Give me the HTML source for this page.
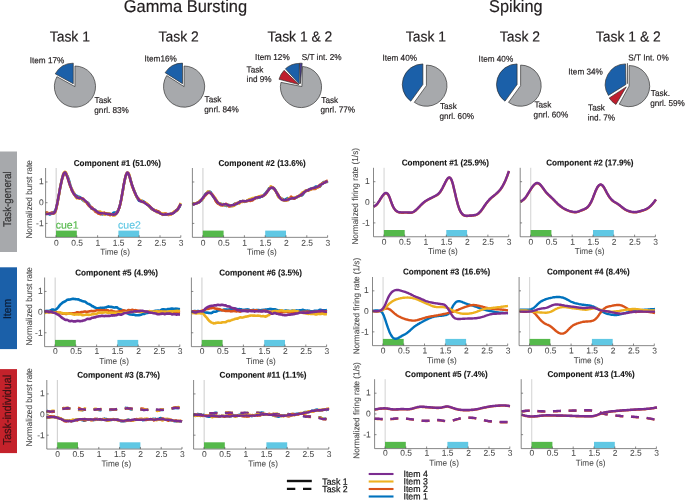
<!DOCTYPE html>
<html lang="en"><head><meta charset="utf-8"><title>Figure</title>
<style>
html,body{margin:0;padding:0;background:#fff;}
body{width:685px;height:500px;overflow:hidden;}
svg{display:block;font-family:"Liberation Sans",Arial,Helvetica,sans-serif;text-rendering:geometricPrecision;}
</style></head><body>
<svg width="685" height="500" viewBox="0 0 685 500">
<rect width="685" height="500" fill="#fff"/>
<text transform="translate(185.40 12.10) rotate(0.03) scale(0.955 1)" font-size="17.23" text-anchor="middle" font-weight="normal" fill="#231F20" stroke="#231F20" stroke-width="0.18">Gamma Bursting</text>
<text transform="translate(515.80 12.10) rotate(0.03) scale(0.955 1)" font-size="17.07" text-anchor="middle" font-weight="normal" fill="#231F20" stroke="#231F20" stroke-width="0.18">Spiking</text>
<text transform="translate(69.80 41.60) rotate(0.03) scale(0.955 1)" font-size="14.55" text-anchor="middle" font-weight="normal" fill="#231F20" stroke="#231F20" stroke-width="0.18">Task 1</text>
<text transform="translate(178.60 41.60) rotate(0.03) scale(0.955 1)" font-size="14.55" text-anchor="middle" font-weight="normal" fill="#231F20" stroke="#231F20" stroke-width="0.18">Task 2</text>
<text transform="translate(299.90 41.60) rotate(0.03) scale(0.955 1)" font-size="14.55" text-anchor="middle" font-weight="normal" fill="#231F20" stroke="#231F20" stroke-width="0.18">Task 1 &amp; 2</text>
<text transform="translate(425.90 41.60) rotate(0.03) scale(0.955 1)" font-size="14.55" text-anchor="middle" font-weight="normal" fill="#231F20" stroke="#231F20" stroke-width="0.18">Task 1</text>
<text transform="translate(519.90 41.60) rotate(0.03) scale(0.955 1)" font-size="14.55" text-anchor="middle" font-weight="normal" fill="#231F20" stroke="#231F20" stroke-width="0.18">Task 2</text>
<text transform="translate(628.30 41.60) rotate(0.03) scale(0.955 1)" font-size="14.55" text-anchor="middle" font-weight="normal" fill="#231F20" stroke="#231F20" stroke-width="0.18">Task 1 &amp; 2</text>
<path d="M74.95 86.60 L56.90 76.68 A20.60 20.60 0 1 0 74.95 66.00 Z" fill="#A7A9AC" stroke="#2a2a2a" stroke-width="0.65" stroke-linejoin="miter"/>
<path d="M73.27 83.76 L73.27 63.16 A20.60 20.60 0 0 0 55.22 73.84 Z" fill="#1B60A9" stroke="#2a2a2a" stroke-width="0.65" stroke-linejoin="miter"/>
<text transform="translate(29.70 63.20) rotate(0.03) scale(0.955 1)" font-size="8.59" text-anchor="start" font-weight="normal" fill="#231F20" stroke="#231F20" stroke-width="0.18">Item 17%</text>
<text transform="translate(94.60 103.00) rotate(0.03) scale(0.955 1)" font-size="8.59" text-anchor="start" font-weight="normal" fill="#231F20" stroke="#231F20" stroke-width="0.18">Task</text>
<text transform="translate(94.30 113.00) rotate(0.03) scale(0.955 1)" font-size="8.59" text-anchor="start" font-weight="normal" fill="#231F20" stroke="#231F20" stroke-width="0.18">gnrl. 83%</text>
<path d="M184.10 86.60 L166.71 75.56 A20.60 20.60 0 1 0 184.10 66.00 Z" fill="#A7A9AC" stroke="#2a2a2a" stroke-width="0.65" stroke-linejoin="miter"/>
<path d="M182.51 83.71 L182.51 63.11 A20.60 20.60 0 0 0 165.12 72.67 Z" fill="#1B60A9" stroke="#2a2a2a" stroke-width="0.65" stroke-linejoin="miter"/>
<text transform="translate(144.50 61.60) rotate(0.03) scale(0.955 1)" font-size="8.59" text-anchor="start" font-weight="normal" fill="#231F20" stroke="#231F20" stroke-width="0.18">Item16%</text>
<text transform="translate(204.60 102.20) rotate(0.03) scale(0.955 1)" font-size="8.59" text-anchor="start" font-weight="normal" fill="#231F20" stroke="#231F20" stroke-width="0.18">Task</text>
<text transform="translate(204.30 112.30) rotate(0.03) scale(0.955 1)" font-size="8.59" text-anchor="start" font-weight="normal" fill="#231F20" stroke="#231F20" stroke-width="0.18">gnrl. 84%</text>
<path d="M301.90 86.50 L280.93 82.37 A20.60 20.60 0 1 0 302.50 66.45 Z" fill="#A7A9AC" stroke="#2a2a2a" stroke-width="0.65"/>
<path d="M298.90 84.60 L284.08 70.29 A20.60 20.60 0 0 0 279.00 79.27 Z" fill="#BE1E2D" stroke="#2b2b2b" stroke-width="0.65" stroke-linejoin="miter"/>
<path d="M299.30 84.00 L299.30 63.40 A20.60 20.60 0 0 0 285.38 68.81 Z" fill="#1B60A9" stroke="#2b2b2b" stroke-width="0.65" stroke-linejoin="miter"/>
<path d="M300.40 83.60 L302.18 63.28 A20.40 20.40 0 0 0 299.51 63.22 Z" fill="#4B3F99" stroke="#2b2b2b" stroke-width="0.65" stroke-linejoin="miter"/>
<text transform="translate(255.10 60.10) rotate(0.03) scale(0.955 1)" font-size="8.59" text-anchor="start" font-weight="normal" fill="#231F20" stroke="#231F20" stroke-width="0.18">Item 12%</text>
<text transform="translate(301.70 60.10) rotate(0.03) scale(0.955 1)" font-size="8.59" text-anchor="start" font-weight="normal" fill="#231F20" stroke="#231F20" stroke-width="0.18">S/T int. 2%</text>
<text transform="translate(246.60 72.50) rotate(0.03) scale(0.955 1)" font-size="8.59" text-anchor="start" font-weight="normal" fill="#231F20" stroke="#231F20" stroke-width="0.18">Task</text>
<text transform="translate(246.60 82.10) rotate(0.03) scale(0.955 1)" font-size="8.59" text-anchor="start" font-weight="normal" fill="#231F20" stroke="#231F20" stroke-width="0.18">ind 9%</text>
<text transform="translate(321.30 103.00) rotate(0.03) scale(0.955 1)" font-size="8.59" text-anchor="start" font-weight="normal" fill="#231F20" stroke="#231F20" stroke-width="0.18">Task</text>
<text transform="translate(320.50 112.60) rotate(0.03) scale(0.955 1)" font-size="8.59" text-anchor="start" font-weight="normal" fill="#231F20" stroke="#231F20" stroke-width="0.18">gnrl. 77%</text>
<path d="M426.41 85.67 L414.30 102.34 A20.60 20.60 0 1 0 426.41 65.07 Z" fill="#A7A9AC" stroke="#2a2a2a" stroke-width="0.65" stroke-linejoin="miter"/>
<path d="M422.89 84.53 L422.89 63.93 A20.60 20.60 0 0 0 410.78 101.19 Z" fill="#1B60A9" stroke="#2a2a2a" stroke-width="0.65" stroke-linejoin="miter"/>
<text transform="translate(382.40 60.80) rotate(0.03) scale(0.955 1)" font-size="8.59" text-anchor="start" font-weight="normal" fill="#231F20" stroke="#231F20" stroke-width="0.18">Item 40%</text>
<text transform="translate(439.90 109.10) rotate(0.03) scale(0.955 1)" font-size="8.59" text-anchor="start" font-weight="normal" fill="#231F20" stroke="#231F20" stroke-width="0.18">Task</text>
<text transform="translate(439.40 119.00) rotate(0.03) scale(0.955 1)" font-size="8.59" text-anchor="start" font-weight="normal" fill="#231F20" stroke="#231F20" stroke-width="0.18">gnrl. 60%</text>
<path d="M520.61 85.67 L508.50 102.34 A20.60 20.60 0 1 0 520.61 65.07 Z" fill="#A7A9AC" stroke="#2a2a2a" stroke-width="0.65" stroke-linejoin="miter"/>
<path d="M517.09 84.53 L517.09 63.93 A20.60 20.60 0 0 0 504.98 101.19 Z" fill="#1B60A9" stroke="#2a2a2a" stroke-width="0.65" stroke-linejoin="miter"/>
<text transform="translate(478.60 61.70) rotate(0.03) scale(0.955 1)" font-size="8.59" text-anchor="start" font-weight="normal" fill="#231F20" stroke="#231F20" stroke-width="0.18">Item 40%</text>
<text transform="translate(534.40 107.50) rotate(0.03) scale(0.955 1)" font-size="8.59" text-anchor="start" font-weight="normal" fill="#231F20" stroke="#231F20" stroke-width="0.18">Task</text>
<text transform="translate(533.60 117.40) rotate(0.03) scale(0.955 1)" font-size="8.59" text-anchor="start" font-weight="normal" fill="#231F20" stroke="#231F20" stroke-width="0.18">gnrl. 60%</text>
<path d="M629.10 86.10 L619.27 104.20 A20.60 20.60 0 1 0 629.10 65.50 Z" fill="#A7A9AC" stroke="#2b2b2b" stroke-width="0.65" stroke-linejoin="miter"/>
<path d="M626.30 86.90 L609.19 98.01 A20.40 20.40 0 0 0 615.95 104.48 Z" fill="#BE1E2D" stroke="#2b2b2b" stroke-width="0.65" stroke-linejoin="miter"/>
<path d="M625.90 84.50 L625.54 63.90 A20.60 20.60 0 0 0 608.43 95.42 Z" fill="#1B60A9" stroke="#2b2b2b" stroke-width="0.65" stroke-linejoin="miter"/>
<path d="M627.4 63.2 L627.4 83.8" stroke="#2a2a2a" stroke-width="0.8"/>
<text transform="translate(628.30 60.50) rotate(0.03) scale(0.955 1)" font-size="8.59" text-anchor="start" font-weight="normal" fill="#231F20" stroke="#231F20" stroke-width="0.18">S/T Int. 0%</text>
<text transform="translate(568.30 74.50) rotate(0.03) scale(0.955 1)" font-size="8.59" text-anchor="start" font-weight="normal" fill="#231F20" stroke="#231F20" stroke-width="0.18">Item 34%</text>
<text transform="translate(588.10 110.40) rotate(0.03) scale(0.955 1)" font-size="8.59" text-anchor="start" font-weight="normal" fill="#231F20" stroke="#231F20" stroke-width="0.18">Task</text>
<text transform="translate(587.70 120.40) rotate(0.03) scale(0.955 1)" font-size="8.59" text-anchor="start" font-weight="normal" fill="#231F20" stroke="#231F20" stroke-width="0.18">ind. 7%</text>
<text transform="translate(650.80 95.90) rotate(0.03) scale(0.955 1)" font-size="8.59" text-anchor="start" font-weight="normal" fill="#231F20" stroke="#231F20" stroke-width="0.18">Task.</text>
<text transform="translate(650.20 106.10) rotate(0.03) scale(0.955 1)" font-size="8.59" text-anchor="start" font-weight="normal" fill="#231F20" stroke="#231F20" stroke-width="0.18">gnrl. 59%</text>
<rect x="0" y="151.50" width="17" height="100.50" fill="#A7A9AC"/>
<text transform="translate(10.90 199.20) rotate(-89.97) scale(0.870 1)" font-size="11.15" text-anchor="middle" font-weight="normal" fill="#333334" stroke="#333334" stroke-width="0.22">Task-general</text>
<rect x="0" y="267.30" width="17" height="81.80" fill="#1B60A9"/>
<text transform="translate(10.60 309.00) rotate(-89.97) scale(0.930 1)" font-size="11.18" text-anchor="middle" font-weight="normal" fill="#0d1f3a" stroke="#0d1f3a" stroke-width="0.22">Item</text>
<rect x="0" y="369.10" width="17" height="84.00" fill="#C4222B"/>
<text transform="translate(10.80 410.00) rotate(-89.97) scale(0.930 1)" font-size="11.51" text-anchor="middle" font-weight="normal" fill="#3f1215" stroke="#3f1215" stroke-width="0.22">Task-individual</text>
<path d="M56.15 168.00 V237.00" stroke="#cccccc" stroke-width="1"/>
<rect x="56.00" y="230.60" width="20.80" height="6.40" fill="#55B94B"/>
<rect x="118.40" y="230.60" width="20.80" height="6.40" fill="#60C8E4"/>
<text transform="translate(55.70 228.50) rotate(0.03)" font-size="10.50" text-anchor="start" font-weight="normal" fill="#55B94B" stroke="#55B94B" stroke-width="0.15">cue1</text>
<text transform="translate(118.10 228.50) rotate(0.03)" font-size="10.50" text-anchor="start" font-weight="normal" fill="#60C8E4" stroke="#60C8E4" stroke-width="0.15">cue2</text>
<path d="M45.6 213.2 L46.4 212.8 L47.3 213.3 L48.1 213.5 L49.0 214.2 L49.8 214.5 L50.7 214.1 L51.5 213.6 L52.4 212.5 L53.2 212.7 L54.1 212.2 L54.9 211.1 L55.8 209.4 L56.6 206.3 L57.5 202.7 L58.3 198.2 L59.2 193.4 L60.0 188.5 L60.9 184.0 L61.7 180.1 L62.6 176.9 L63.4 174.4 L64.3 173.5 L65.1 173.0 L66.0 173.9 L66.8 175.3 L67.7 176.3 L68.5 179.0 L69.4 181.5 L70.2 184.6 L71.1 187.7 L71.9 189.5 L72.8 191.8 L73.6 192.9 L74.5 193.7 L75.3 195.1 L76.2 195.5 L77.0 195.9 L77.9 196.9 L78.7 196.7 L79.6 197.0 L80.4 197.7 L81.3 198.2 L82.1 199.5 L83.0 200.3 L83.8 201.0 L84.7 201.1 L85.5 201.8 L86.4 201.8 L87.2 202.1 L88.1 202.9 L88.9 203.9 L89.8 205.7 L90.6 206.7 L91.4 208.6 L92.3 208.8 L93.1 209.1 L94.0 209.8 L94.8 209.6 L95.7 210.5 L96.5 211.6 L97.4 211.7 L98.2 212.8 L99.1 212.9 L99.9 213.2 L100.8 213.9 L101.6 214.0 L102.5 214.4 L103.3 214.1 L104.2 213.6 L105.0 213.9 L105.9 213.3 L106.7 213.4 L107.6 214.1 L108.4 213.5 L109.3 214.1 L110.1 214.4 L111.0 214.3 L111.8 214.4 L112.7 213.5 L113.5 212.8 L114.4 212.5 L115.2 212.4 L116.1 212.5 L116.9 212.1 L117.8 210.9 L118.6 209.2 L119.5 207.1 L120.3 203.4 L121.2 199.2 L122.0 195.2 L122.9 190.4 L123.7 185.5 L124.6 181.2 L125.4 177.0 L126.3 174.3 L127.1 173.3 L128.0 173.3 L128.8 174.4 L129.7 176.7 L130.5 179.6 L131.4 182.7 L132.2 185.7 L133.1 187.9 L133.9 190.2 L134.8 192.1 L135.6 194.2 L136.4 196.4 L137.3 198.0 L138.1 199.5 L139.0 200.8 L139.8 201.0 L140.7 201.4 L141.5 201.6 L142.4 200.8 L143.2 201.3 L144.1 201.6 L144.9 202.3 L145.8 203.5 L146.6 203.9 L147.5 204.3 L148.3 205.0 L149.2 206.3 L150.0 207.4 L150.9 208.2 L151.7 209.2 L152.6 209.1 L153.4 209.3 L154.3 210.3 L155.1 210.5 L156.0 210.6 L156.8 210.9 L157.7 211.1 L158.5 211.7 L159.4 212.9 L160.2 213.3 L161.1 213.7 L161.9 214.1 L162.8 213.9 L163.6 214.5 L164.5 214.6 L165.3 214.3 L166.2 214.8 L167.0 214.3 L167.9 214.2 L168.7 214.4 L169.6 214.1 L170.4 214.1 L171.3 213.8 L172.1 213.4 L173.0 213.2 L173.8 212.6 L174.7 212.1 L175.5 211.4 L176.4 210.0 L177.2 210.3 L178.1 209.2 L178.9 207.5 L179.8 206.7 L180.6 203.6" fill="none" stroke="#0072BD" stroke-width="2.50" stroke-linejoin="round" stroke-linecap="butt"/>
<path d="M45.6 212.6 L46.4 212.5 L47.3 212.6 L48.1 213.2 L49.0 213.3 L49.8 213.4 L50.7 212.9 L51.5 212.6 L52.4 212.7 L53.2 212.9 L54.1 212.8 L54.9 212.5 L55.8 210.6 L56.6 207.2 L57.5 203.2 L58.3 198.2 L59.2 193.2 L60.0 188.6 L60.9 184.5 L61.7 180.8 L62.6 177.7 L63.4 175.5 L64.3 173.8 L65.1 173.4 L66.0 173.9 L66.8 175.4 L67.7 178.3 L68.5 180.6 L69.4 183.9 L70.2 186.5 L71.1 188.3 L71.9 190.8 L72.8 192.1 L73.6 193.8 L74.5 195.0 L75.3 195.6 L76.2 196.4 L77.0 196.7 L77.9 197.6 L78.7 198.0 L79.6 198.7 L80.4 198.3 L81.3 198.1 L82.1 198.5 L83.0 198.4 L83.8 200.0 L84.7 200.8 L85.5 201.4 L86.4 202.5 L87.2 203.9 L88.1 204.8 L88.9 205.9 L89.8 206.6 L90.6 206.7 L91.4 207.0 L92.3 207.6 L93.1 209.0 L94.0 209.9 L94.8 211.1 L95.7 212.0 L96.5 212.4 L97.4 212.7 L98.2 213.6 L99.1 213.9 L99.9 213.8 L100.8 214.3 L101.6 213.3 L102.5 213.0 L103.3 213.2 L104.2 212.6 L105.0 213.2 L105.9 213.3 L106.7 213.2 L107.6 214.2 L108.4 214.5 L109.3 214.7 L110.1 215.3 L111.0 214.6 L111.8 214.8 L112.7 214.9 L113.5 215.0 L114.4 214.6 L115.2 214.3 L116.1 213.7 L116.9 212.2 L117.8 211.6 L118.6 209.3 L119.5 207.2 L120.3 204.2 L121.2 199.9 L122.0 195.5 L122.9 190.4 L123.7 185.0 L124.6 180.4 L125.4 176.6 L126.3 173.7 L127.1 172.7 L128.0 172.9 L128.8 174.4 L129.7 177.2 L130.5 180.8 L131.4 183.6 L132.2 186.7 L133.1 188.8 L133.9 190.7 L134.8 193.2 L135.6 194.7 L136.4 196.3 L137.3 197.4 L138.1 198.1 L139.0 199.1 L139.8 200.0 L140.7 200.4 L141.5 201.3 L142.4 202.1 L143.2 201.9 L144.1 202.3 L144.9 202.3 L145.8 203.0 L146.6 203.7 L147.5 204.3 L148.3 205.1 L149.2 205.6 L150.0 206.4 L150.9 208.0 L151.7 208.7 L152.6 209.4 L153.4 210.0 L154.3 210.1 L155.1 210.5 L156.0 210.3 L156.8 211.1 L157.7 211.0 L158.5 211.4 L159.4 212.0 L160.2 212.7 L161.1 213.5 L161.9 214.0 L162.8 214.9 L163.6 214.2 L164.5 213.6 L165.3 213.5 L166.2 213.6 L167.0 214.0 L167.9 214.8 L168.7 215.1 L169.6 214.4 L170.4 214.3 L171.3 214.4 L172.1 213.6 L173.0 213.0 L173.8 212.4 L174.7 211.2 L175.5 210.8 L176.4 210.4 L177.2 209.7 L178.1 208.2 L178.9 207.0 L179.8 206.0 L180.6 204.4" fill="none" stroke="#D95319" stroke-width="2.50" stroke-linejoin="round" stroke-linecap="butt"/>
<path d="M45.6 214.0 L46.4 213.9 L47.3 213.7 L48.1 213.7 L49.0 213.1 L49.8 213.5 L50.7 213.4 L51.5 213.7 L52.4 213.6 L53.2 213.7 L54.1 213.6 L54.9 212.7 L55.8 210.3 L56.6 206.8 L57.5 202.6 L58.3 197.7 L59.2 193.9 L60.0 188.8 L60.9 184.1 L61.7 179.7 L62.6 176.0 L63.4 173.2 L64.3 172.1 L65.1 171.7 L66.0 172.3 L66.8 174.7 L67.7 177.1 L68.5 179.9 L69.4 182.8 L70.2 185.4 L71.1 187.5 L71.9 188.9 L72.8 190.7 L73.6 192.3 L74.5 194.1 L75.3 196.6 L76.2 197.8 L77.0 198.4 L77.9 198.1 L78.7 197.8 L79.6 198.0 L80.4 198.5 L81.3 198.8 L82.1 199.1 L83.0 199.5 L83.8 200.3 L84.7 201.3 L85.5 201.9 L86.4 202.3 L87.2 202.5 L88.1 203.2 L88.9 204.6 L89.8 206.1 L90.6 207.2 L91.4 208.6 L92.3 208.9 L93.1 209.3 L94.0 209.6 L94.8 209.9 L95.7 211.0 L96.5 211.4 L97.4 211.4 L98.2 211.8 L99.1 211.5 L99.9 211.4 L100.8 211.9 L101.6 212.5 L102.5 213.4 L103.3 213.9 L104.2 214.5 L105.0 214.7 L105.9 213.9 L106.7 214.1 L107.6 213.8 L108.4 213.6 L109.3 213.5 L110.1 213.5 L111.0 214.0 L111.8 214.4 L112.7 215.5 L113.5 215.5 L114.4 215.6 L115.2 215.2 L116.1 213.7 L116.9 213.3 L117.8 211.3 L118.6 209.4 L119.5 207.3 L120.3 204.0 L121.2 200.0 L122.0 195.0 L122.9 190.5 L123.7 185.4 L124.6 180.8 L125.4 177.6 L126.3 174.4 L127.1 172.7 L128.0 172.8 L128.8 173.4 L129.7 175.8 L130.5 179.5 L131.4 182.4 L132.2 185.8 L133.1 188.1 L133.9 189.5 L134.8 192.3 L135.6 194.4 L136.4 196.3 L137.3 198.2 L138.1 199.0 L139.0 199.6 L139.8 200.1 L140.7 200.2 L141.5 200.8 L142.4 201.4 L143.2 202.0 L144.1 202.6 L144.9 202.6 L145.8 203.0 L146.6 203.2 L147.5 204.2 L148.3 205.5 L149.2 206.5 L150.0 207.5 L150.9 207.3 L151.7 208.2 L152.6 209.0 L153.4 209.3 L154.3 210.4 L155.1 211.0 L156.0 210.8 L156.8 212.3 L157.7 212.5 L158.5 212.2 L159.4 213.3 L160.2 213.1 L161.1 213.3 L161.9 214.2 L162.8 213.3 L163.6 214.0 L164.5 214.1 L165.3 214.0 L166.2 214.6 L167.0 214.3 L167.9 214.8 L168.7 214.5 L169.6 214.7 L170.4 214.3 L171.3 213.6 L172.1 213.4 L173.0 212.4 L173.8 211.8 L174.7 211.7 L175.5 211.1 L176.4 211.1 L177.2 210.6 L178.1 209.0 L178.9 207.1 L179.8 204.9 L180.6 202.9" fill="none" stroke="#EDB120" stroke-width="2.50" stroke-linejoin="round" stroke-linecap="butt"/>
<path d="M45.6 213.8 L46.4 214.1 L47.3 213.9 L48.1 213.8 L49.0 213.6 L49.8 213.3 L50.7 213.4 L51.5 213.4 L52.4 213.4 L53.2 213.5 L54.1 213.1 L54.9 212.0 L55.8 209.7 L56.6 206.2 L57.5 202.0 L58.3 197.5 L59.2 193.1 L60.0 188.6 L60.9 184.3 L61.7 180.4 L62.6 176.8 L63.4 174.1 L64.3 172.8 L65.1 172.3 L66.0 173.5 L66.8 175.6 L67.7 177.8 L68.5 180.6 L69.4 183.3 L70.2 185.6 L71.1 187.9 L71.9 190.2 L72.8 191.8 L73.6 193.4 L74.5 194.6 L75.3 195.6 L76.2 196.7 L77.0 197.5 L77.9 197.8 L78.7 197.9 L79.6 197.9 L80.4 198.0 L81.3 198.2 L82.1 198.6 L83.0 199.0 L83.8 199.6 L84.7 200.3 L85.5 201.2 L86.4 201.9 L87.2 202.7 L88.1 203.8 L88.9 204.9 L89.8 206.3 L90.6 207.2 L91.4 208.0 L92.3 208.7 L93.1 208.8 L94.0 209.5 L94.8 209.9 L95.7 210.6 L96.5 211.4 L97.4 211.9 L98.2 212.4 L99.1 212.8 L99.9 212.9 L100.8 213.1 L101.6 213.5 L102.5 213.2 L103.3 213.4 L104.2 213.6 L105.0 213.6 L105.9 213.9 L106.7 213.8 L107.6 213.9 L108.4 213.9 L109.3 214.0 L110.1 214.1 L111.0 214.3 L111.8 214.5 L112.7 214.5 L113.5 214.7 L114.4 214.6 L115.2 214.4 L116.1 213.9 L116.9 213.0 L117.8 211.5 L118.6 209.5 L119.5 207.0 L120.3 203.7 L121.2 199.5 L122.0 194.8 L122.9 189.7 L123.7 185.0 L124.6 180.6 L125.4 177.0 L126.3 174.3 L127.1 172.6 L128.0 172.7 L128.8 174.4 L129.7 176.9 L130.5 179.9 L131.4 182.9 L132.2 185.5 L133.1 188.0 L133.9 190.4 L134.8 192.3 L135.6 194.1 L136.4 195.9 L137.3 197.3 L138.1 198.8 L139.0 200.0 L139.8 200.8 L140.7 201.0 L141.5 201.4 L142.4 201.7 L143.2 201.9 L144.1 202.4 L144.9 203.2 L145.8 203.7 L146.6 204.2 L147.5 205.0 L148.3 205.4 L149.2 206.1 L150.0 206.8 L150.9 207.5 L151.7 208.3 L152.6 209.0 L153.4 209.8 L154.3 210.4 L155.1 211.0 L156.0 211.5 L156.8 211.6 L157.7 212.0 L158.5 212.4 L159.4 212.7 L160.2 213.3 L161.1 213.9 L161.9 214.1 L162.8 214.4 L163.6 214.5 L164.5 214.4 L165.3 214.3 L166.2 214.5 L167.0 214.5 L167.9 214.1 L168.7 214.2 L169.6 213.9 L170.4 213.8 L171.3 213.8 L172.1 213.7 L173.0 213.2 L173.8 212.7 L174.7 211.9 L175.5 211.2 L176.4 210.6 L177.2 209.8 L178.1 208.8 L178.9 207.3 L179.8 205.7 L180.6 203.8" fill="none" stroke="#7B2D90" stroke-width="2.50" stroke-linejoin="round" stroke-linecap="butt"/>
<path d="M45.60 168.00 V237.35 H180.80 M56.00 237.35 v-2.1 M76.80 237.35 v-2.1 M97.60 237.35 v-2.1 M118.40 237.35 v-2.1 M139.20 237.35 v-2.1 M160.00 237.35 v-2.1 M180.80 237.35 v-2.1 M45.60 223.42 h1.9 M45.60 202.70 h1.9 M45.60 181.98 h1.9" fill="none" stroke="#555" stroke-width="0.7"/>
<text transform="translate(56.30 245.80) rotate(0.03) scale(0.985 1)" font-size="8.58" text-anchor="middle" font-weight="normal" fill="#4a4a4a" stroke="#4a4a4a" stroke-width="0.05">0</text>
<text transform="translate(77.10 245.80) rotate(0.03) scale(0.985 1)" font-size="8.58" text-anchor="middle" font-weight="normal" fill="#4a4a4a" stroke="#4a4a4a" stroke-width="0.05">0.5</text>
<text transform="translate(97.90 245.80) rotate(0.03) scale(0.985 1)" font-size="8.58" text-anchor="middle" font-weight="normal" fill="#4a4a4a" stroke="#4a4a4a" stroke-width="0.05">1</text>
<text transform="translate(118.70 245.80) rotate(0.03) scale(0.985 1)" font-size="8.58" text-anchor="middle" font-weight="normal" fill="#4a4a4a" stroke="#4a4a4a" stroke-width="0.05">1.5</text>
<text transform="translate(139.50 245.80) rotate(0.03) scale(0.985 1)" font-size="8.58" text-anchor="middle" font-weight="normal" fill="#4a4a4a" stroke="#4a4a4a" stroke-width="0.05">2</text>
<text transform="translate(160.30 245.80) rotate(0.03) scale(0.985 1)" font-size="8.58" text-anchor="middle" font-weight="normal" fill="#4a4a4a" stroke="#4a4a4a" stroke-width="0.05">2.5</text>
<text transform="translate(181.10 245.80) rotate(0.03) scale(0.985 1)" font-size="8.58" text-anchor="middle" font-weight="normal" fill="#4a4a4a" stroke="#4a4a4a" stroke-width="0.05">3</text>
<text transform="translate(115.07 254.70) rotate(0.03) scale(0.955 1)" font-size="8.59" text-anchor="middle" font-weight="normal" fill="#4a4a4a" stroke="#4a4a4a" stroke-width="0.05">Time (s)</text>
<text transform="translate(43.60 226.37) rotate(0.03) scale(0.985 1)" font-size="8.58" text-anchor="end" font-weight="normal" fill="#4a4a4a" stroke="#4a4a4a" stroke-width="0.05">-1</text>
<text transform="translate(43.60 205.30) rotate(0.03) scale(0.985 1)" font-size="8.58" text-anchor="end" font-weight="normal" fill="#4a4a4a" stroke="#4a4a4a" stroke-width="0.05">0</text>
<text transform="translate(43.60 184.23) rotate(0.03) scale(0.985 1)" font-size="8.58" text-anchor="end" font-weight="normal" fill="#4a4a4a" stroke="#4a4a4a" stroke-width="0.05">1</text>
<text transform="translate(31.90 199.40) rotate(-89.97) scale(0.955 1)" font-size="8.59" text-anchor="middle" font-weight="normal" fill="#4a4a4a" stroke="#4a4a4a" stroke-width="0.10">Normalized burst rate</text>
<text transform="translate(117.30 166.00) rotate(0.03) scale(0.955 1)" font-size="8.53" text-anchor="middle" font-weight="bold" fill="#151515" stroke="#151515" stroke-width="0.12">Component #1 (51.0%)</text>
<path d="M202.95 168.00 V237.00" stroke="#cccccc" stroke-width="1"/>
<rect x="202.80" y="230.60" width="20.80" height="6.40" fill="#55B94B"/>
<rect x="265.20" y="230.60" width="20.80" height="6.40" fill="#60C8E4"/>
<path d="M192.6 204.7 L193.4 204.5 L194.3 203.9 L195.1 203.6 L196.0 203.6 L196.8 203.4 L197.7 202.6 L198.5 202.1 L199.4 202.0 L200.2 200.7 L201.1 201.0 L201.9 200.0 L202.8 198.3 L203.6 197.0 L204.5 195.6 L205.3 194.0 L206.2 193.0 L207.0 193.1 L207.9 191.8 L208.7 191.6 L209.6 191.5 L210.4 191.8 L211.3 193.1 L212.1 194.5 L213.0 196.3 L213.8 197.5 L214.7 198.7 L215.5 199.6 L216.4 201.3 L217.2 202.6 L218.1 202.7 L218.9 203.3 L219.8 203.7 L220.6 203.5 L221.5 204.3 L222.3 204.9 L223.2 204.0 L224.0 204.9 L224.9 205.6 L225.7 205.2 L226.6 206.0 L227.4 205.4 L228.3 204.7 L229.1 205.3 L230.0 205.2 L230.8 205.4 L231.7 206.1 L232.5 205.4 L233.4 204.7 L234.2 204.1 L235.1 203.6 L235.9 203.9 L236.8 203.9 L237.6 203.4 L238.4 202.8 L239.3 202.4 L240.1 201.3 L241.0 201.2 L241.8 201.2 L242.7 201.1 L243.5 201.6 L244.4 201.9 L245.2 201.6 L246.1 201.3 L246.9 201.0 L247.8 200.4 L248.6 200.0 L249.5 199.6 L250.3 200.2 L251.2 200.3 L252.0 200.1 L252.9 199.8 L253.7 198.7 L254.6 198.2 L255.4 198.1 L256.3 197.9 L257.1 198.0 L258.0 197.6 L258.8 197.4 L259.7 197.6 L260.5 196.7 L261.4 196.8 L262.2 196.5 L263.1 195.6 L263.9 195.2 L264.8 193.8 L265.6 193.2 L266.5 192.0 L267.3 190.6 L268.2 190.3 L269.0 188.1 L269.9 187.9 L270.7 187.8 L271.6 187.6 L272.4 188.3 L273.3 188.1 L274.1 188.2 L275.0 189.6 L275.8 190.8 L276.7 192.4 L277.5 194.9 L278.4 195.5 L279.2 196.8 L280.1 197.9 L280.9 198.1 L281.8 198.7 L282.6 199.0 L283.4 199.8 L284.3 200.3 L285.1 199.6 L286.0 199.0 L286.8 198.5 L287.7 198.0 L288.5 198.6 L289.4 199.3 L290.2 198.3 L291.1 198.5 L291.9 198.4 L292.8 198.1 L293.6 198.6 L294.5 198.3 L295.3 198.0 L296.2 197.4 L297.0 197.3 L297.9 196.7 L298.7 195.9 L299.6 196.0 L300.4 195.6 L301.3 195.5 L302.1 195.3 L303.0 194.4 L303.8 193.2 L304.7 191.8 L305.5 191.3 L306.4 190.7 L307.2 190.2 L308.1 190.7 L308.9 189.7 L309.8 189.0 L310.6 188.7 L311.5 188.3 L312.3 188.5 L313.2 188.4 L314.0 188.1 L314.9 187.1 L315.7 186.4 L316.6 186.5 L317.4 186.6 L318.3 186.8 L319.1 186.5 L320.0 186.5 L320.8 185.4 L321.7 183.8 L322.5 183.4 L323.4 182.1 L324.2 182.2 L325.1 182.1 L325.9 182.0 L326.8 182.1 L327.6 181.1" fill="none" stroke="#0072BD" stroke-width="2.50" stroke-linejoin="round" stroke-linecap="butt"/>
<path d="M192.6 204.9 L193.4 204.2 L194.3 204.0 L195.1 203.4 L196.0 203.3 L196.8 203.2 L197.7 202.4 L198.5 202.6 L199.4 201.9 L200.2 200.9 L201.1 200.5 L201.9 199.3 L202.8 198.5 L203.6 197.7 L204.5 196.3 L205.3 195.5 L206.2 194.7 L207.0 193.9 L207.9 193.1 L208.7 192.7 L209.6 192.4 L210.4 193.2 L211.3 193.8 L212.1 194.0 L213.0 195.2 L213.8 196.6 L214.7 198.3 L215.5 200.8 L216.4 202.1 L217.2 202.8 L218.1 203.8 L218.9 204.0 L219.8 204.6 L220.6 205.2 L221.5 205.3 L222.3 205.5 L223.2 205.2 L224.0 204.7 L224.9 204.6 L225.7 203.8 L226.6 204.0 L227.4 204.9 L228.3 205.6 L229.1 206.6 L230.0 206.5 L230.8 205.9 L231.7 205.8 L232.5 205.2 L233.4 205.4 L234.2 204.7 L235.1 203.7 L235.9 203.8 L236.8 203.1 L237.6 203.4 L238.4 202.8 L239.3 202.0 L240.1 201.9 L241.0 201.8 L241.8 201.8 L242.7 201.9 L243.5 201.2 L244.4 201.2 L245.2 201.5 L246.1 201.0 L246.9 201.2 L247.8 201.0 L248.6 200.3 L249.5 200.9 L250.3 201.1 L251.2 200.4 L252.0 200.6 L252.9 200.2 L253.7 199.0 L254.6 199.0 L255.4 198.4 L256.3 197.6 L257.1 197.9 L258.0 197.4 L258.8 196.8 L259.7 196.3 L260.5 196.0 L261.4 196.1 L262.2 196.2 L263.1 196.1 L263.9 195.5 L264.8 194.9 L265.6 194.2 L266.5 193.0 L267.3 191.8 L268.2 190.6 L269.0 189.2 L269.9 188.3 L270.7 187.8 L271.6 186.9 L272.4 187.5 L273.3 187.6 L274.1 188.9 L275.0 190.2 L275.8 190.8 L276.7 192.9 L277.5 193.3 L278.4 194.9 L279.2 196.7 L280.1 197.4 L280.9 198.7 L281.8 199.5 L282.6 199.5 L283.4 200.0 L284.3 200.3 L285.1 200.5 L286.0 200.5 L286.8 200.3 L287.7 200.3 L288.5 198.8 L289.4 198.5 L290.2 197.7 L291.1 196.5 L291.9 197.6 L292.8 197.5 L293.6 198.4 L294.5 198.7 L295.3 198.1 L296.2 197.7 L297.0 196.8 L297.9 196.5 L298.7 195.9 L299.6 196.0 L300.4 195.5 L301.3 195.1 L302.1 194.3 L303.0 193.3 L303.8 192.4 L304.7 192.1 L305.5 191.4 L306.4 190.9 L307.2 190.8 L308.1 190.3 L308.9 190.2 L309.8 189.9 L310.6 189.7 L311.5 189.2 L312.3 189.0 L313.2 188.9 L314.0 189.0 L314.9 189.1 L315.7 188.7 L316.6 187.9 L317.4 187.6 L318.3 187.3 L319.1 186.5 L320.0 186.2 L320.8 184.6 L321.7 183.6 L322.5 182.9 L323.4 183.1 L324.2 182.5 L325.1 181.8 L325.9 181.9 L326.8 180.8 L327.6 180.9" fill="none" stroke="#D95319" stroke-width="2.50" stroke-linejoin="round" stroke-linecap="butt"/>
<path d="M192.6 202.9 L193.4 203.8 L194.3 203.4 L195.1 203.5 L196.0 203.3 L196.8 202.9 L197.7 203.1 L198.5 202.4 L199.4 200.9 L200.2 200.5 L201.1 200.3 L201.9 199.6 L202.8 199.2 L203.6 197.4 L204.5 195.9 L205.3 194.8 L206.2 193.5 L207.0 192.5 L207.9 191.4 L208.7 191.4 L209.6 192.2 L210.4 192.9 L211.3 194.1 L212.1 194.9 L213.0 195.5 L213.8 196.9 L214.7 197.3 L215.5 198.3 L216.4 200.2 L217.2 201.1 L218.1 202.4 L218.9 203.9 L219.8 203.1 L220.6 204.1 L221.5 204.3 L222.3 204.1 L223.2 205.2 L224.0 205.0 L224.9 205.1 L225.7 205.2 L226.6 205.2 L227.4 205.1 L228.3 205.3 L229.1 204.9 L230.0 205.3 L230.8 205.3 L231.7 205.4 L232.5 206.3 L233.4 205.8 L234.2 205.7 L235.1 205.0 L235.9 203.7 L236.8 203.2 L237.6 203.0 L238.4 202.9 L239.3 203.6 L240.1 202.7 L241.0 202.2 L241.8 201.9 L242.7 200.9 L243.5 201.1 L244.4 201.1 L245.2 201.3 L246.1 201.2 L246.9 200.9 L247.8 200.0 L248.6 199.8 L249.5 199.1 L250.3 198.8 L251.2 199.3 L252.0 198.3 L252.9 198.0 L253.7 197.9 L254.6 197.6 L255.4 197.8 L256.3 197.5 L257.1 197.1 L258.0 196.7 L258.8 196.3 L259.7 196.6 L260.5 196.4 L261.4 196.0 L262.2 195.8 L263.1 195.3 L263.9 195.1 L264.8 194.8 L265.6 193.9 L266.5 192.4 L267.3 191.6 L268.2 190.1 L269.0 188.8 L269.9 188.2 L270.7 186.3 L271.6 186.7 L272.4 187.4 L273.3 188.1 L274.1 189.3 L275.0 189.9 L275.8 191.4 L276.7 192.9 L277.5 195.5 L278.4 197.3 L279.2 197.6 L280.1 198.3 L280.9 198.1 L281.8 198.8 L282.6 199.9 L283.4 200.3 L284.3 200.4 L285.1 200.3 L286.0 200.7 L286.8 200.1 L287.7 199.3 L288.5 198.5 L289.4 198.2 L290.2 198.2 L291.1 198.5 L291.9 198.3 L292.8 197.9 L293.6 197.8 L294.5 197.7 L295.3 197.7 L296.2 197.0 L297.0 196.5 L297.9 196.4 L298.7 196.5 L299.6 195.4 L300.4 194.5 L301.3 193.7 L302.1 192.7 L303.0 192.2 L303.8 191.9 L304.7 191.3 L305.5 190.5 L306.4 190.4 L307.2 190.1 L308.1 190.1 L308.9 190.1 L309.8 190.1 L310.6 189.9 L311.5 189.1 L312.3 188.5 L313.2 188.2 L314.0 187.9 L314.9 188.2 L315.7 188.1 L316.6 187.5 L317.4 187.2 L318.3 186.0 L319.1 185.4 L320.0 184.6 L320.8 184.2 L321.7 184.0 L322.5 183.6 L323.4 183.1 L324.2 182.5 L325.1 182.5 L325.9 181.9 L326.8 181.7 L327.6 181.2" fill="none" stroke="#EDB120" stroke-width="2.50" stroke-linejoin="round" stroke-linecap="butt"/>
<path d="M192.6 204.3 L193.4 204.2 L194.3 204.2 L195.1 203.8 L196.0 203.4 L196.8 203.1 L197.7 202.7 L198.5 202.6 L199.4 202.0 L200.2 201.2 L201.1 200.2 L201.9 199.0 L202.8 198.1 L203.6 196.8 L204.5 195.8 L205.3 194.8 L206.2 193.8 L207.0 193.2 L207.9 192.6 L208.7 192.6 L209.6 192.5 L210.4 193.0 L211.3 193.9 L212.1 194.8 L213.0 196.2 L213.8 197.1 L214.7 198.3 L215.5 199.5 L216.4 200.5 L217.2 201.8 L218.1 202.7 L218.9 203.4 L219.8 204.1 L220.6 204.3 L221.5 204.6 L222.3 204.8 L223.2 204.6 L224.0 204.6 L224.9 204.3 L225.7 204.2 L226.6 204.5 L227.4 204.9 L228.3 205.3 L229.1 205.5 L230.0 205.5 L230.8 205.5 L231.7 205.3 L232.5 205.2 L233.4 205.1 L234.2 205.0 L235.1 204.5 L235.9 204.0 L236.8 203.8 L237.6 203.0 L238.4 202.8 L239.3 202.6 L240.1 201.9 L241.0 201.5 L241.8 201.3 L242.7 201.0 L243.5 201.1 L244.4 201.1 L245.2 201.3 L246.1 201.1 L246.9 200.8 L247.8 200.6 L248.6 200.4 L249.5 200.2 L250.3 199.9 L251.2 199.8 L252.0 199.5 L252.9 199.3 L253.7 198.9 L254.6 198.4 L255.4 197.9 L256.3 197.5 L257.1 197.4 L258.0 197.3 L258.8 197.2 L259.7 197.0 L260.5 196.9 L261.4 196.6 L262.2 196.2 L263.1 195.8 L263.9 195.3 L264.8 194.6 L265.6 193.7 L266.5 192.7 L267.3 191.5 L268.2 190.4 L269.0 189.3 L269.9 188.5 L270.7 187.9 L271.6 187.5 L272.4 187.6 L273.3 187.9 L274.1 188.8 L275.0 189.9 L275.8 191.3 L276.7 192.8 L277.5 194.2 L278.4 195.8 L279.2 197.0 L280.1 198.2 L280.9 199.0 L281.8 199.6 L282.6 200.1 L283.4 200.0 L284.3 200.2 L285.1 200.2 L286.0 199.9 L286.8 199.9 L287.7 199.6 L288.5 199.2 L289.4 199.0 L290.2 198.7 L291.1 198.4 L291.9 198.3 L292.8 198.2 L293.6 198.2 L294.5 198.0 L295.3 197.7 L296.2 197.4 L297.0 197.0 L297.9 196.5 L298.7 196.1 L299.6 195.7 L300.4 195.2 L301.3 194.7 L302.1 194.0 L303.0 193.4 L303.8 192.5 L304.7 191.7 L305.5 191.2 L306.4 190.5 L307.2 190.4 L308.1 190.1 L308.9 189.6 L309.8 189.5 L310.6 189.0 L311.5 188.6 L312.3 188.4 L313.2 188.0 L314.0 187.9 L314.9 187.7 L315.7 187.5 L316.6 187.3 L317.4 186.8 L318.3 186.4 L319.1 185.7 L320.0 185.2 L320.8 184.6 L321.7 184.3 L322.5 183.8 L323.4 183.3 L324.2 182.8 L325.1 182.3 L325.9 181.9 L326.8 181.5 L327.6 181.0" fill="none" stroke="#7B2D90" stroke-width="2.50" stroke-linejoin="round" stroke-linecap="butt"/>
<path d="M192.40 168.00 V237.35 H327.60 M202.80 237.35 v-2.1 M223.60 237.35 v-2.1 M244.40 237.35 v-2.1 M265.20 237.35 v-2.1 M286.00 237.35 v-2.1 M306.80 237.35 v-2.1 M327.60 237.35 v-2.1 M192.40 223.42 h1.9 M192.40 202.70 h1.9 M192.40 181.98 h1.9" fill="none" stroke="#555" stroke-width="0.7"/>
<text transform="translate(203.10 245.80) rotate(0.03) scale(0.985 1)" font-size="8.58" text-anchor="middle" font-weight="normal" fill="#4a4a4a" stroke="#4a4a4a" stroke-width="0.05">0</text>
<text transform="translate(223.90 245.80) rotate(0.03) scale(0.985 1)" font-size="8.58" text-anchor="middle" font-weight="normal" fill="#4a4a4a" stroke="#4a4a4a" stroke-width="0.05">0.5</text>
<text transform="translate(244.70 245.80) rotate(0.03) scale(0.985 1)" font-size="8.58" text-anchor="middle" font-weight="normal" fill="#4a4a4a" stroke="#4a4a4a" stroke-width="0.05">1</text>
<text transform="translate(265.50 245.80) rotate(0.03) scale(0.985 1)" font-size="8.58" text-anchor="middle" font-weight="normal" fill="#4a4a4a" stroke="#4a4a4a" stroke-width="0.05">1.5</text>
<text transform="translate(286.30 245.80) rotate(0.03) scale(0.985 1)" font-size="8.58" text-anchor="middle" font-weight="normal" fill="#4a4a4a" stroke="#4a4a4a" stroke-width="0.05">2</text>
<text transform="translate(307.10 245.80) rotate(0.03) scale(0.985 1)" font-size="8.58" text-anchor="middle" font-weight="normal" fill="#4a4a4a" stroke="#4a4a4a" stroke-width="0.05">2.5</text>
<text transform="translate(327.90 245.80) rotate(0.03) scale(0.985 1)" font-size="8.58" text-anchor="middle" font-weight="normal" fill="#4a4a4a" stroke="#4a4a4a" stroke-width="0.05">3</text>
<text transform="translate(261.87 254.70) rotate(0.03) scale(0.955 1)" font-size="8.59" text-anchor="middle" font-weight="normal" fill="#4a4a4a" stroke="#4a4a4a" stroke-width="0.05">Time (s)</text>
<text transform="translate(262.00 166.00) rotate(0.03) scale(0.955 1)" font-size="8.53" text-anchor="middle" font-weight="bold" fill="#151515" stroke="#151515" stroke-width="0.12">Component #2 (13.6%)</text>
<path d="M384.05 167.80 V236.40" stroke="#b4b4b4" stroke-width="0.6"/>
<rect x="383.90" y="230.00" width="20.80" height="6.40" fill="#55B94B"/>
<rect x="446.30" y="230.00" width="20.80" height="6.40" fill="#60C8E4"/>
<path d="M373.6 206.8 L374.5 206.3 L375.3 205.8 L376.2 205.1 L377.0 204.2 L377.9 203.2 L378.7 201.9 L379.6 200.6 L380.4 199.2 L381.3 197.8 L382.1 196.6 L383.0 195.4 L383.8 194.4 L384.7 193.7 L385.5 193.2 L386.4 193.2 L387.2 193.6 L388.1 194.6 L388.9 196.1 L389.8 198.1 L390.6 200.5 L391.5 202.9 L392.3 205.1 L393.2 206.9 L394.0 208.4 L394.9 209.6 L395.7 210.6 L396.6 211.3 L397.4 211.9 L398.3 212.2 L399.1 212.5 L400.0 212.6 L400.9 212.6 L401.7 212.7 L402.6 212.7 L403.4 212.7 L404.3 212.6 L405.1 212.6 L406.0 212.6 L406.8 212.6 L407.7 212.7 L408.5 212.8 L409.4 212.8 L410.2 212.8 L411.1 212.8 L411.9 212.6 L412.8 212.3 L413.6 211.9 L414.5 211.4 L415.3 210.8 L416.2 210.0 L417.0 209.2 L417.9 208.4 L418.7 207.5 L419.6 206.6 L420.4 205.7 L421.3 204.9 L422.1 204.0 L423.0 203.3 L423.8 202.5 L424.7 201.9 L425.5 201.3 L426.4 200.7 L427.2 200.2 L428.1 199.7 L429.0 199.3 L429.8 198.8 L430.7 198.4 L431.5 198.0 L432.4 197.6 L433.2 197.1 L434.1 196.7 L434.9 196.3 L435.8 195.8 L436.6 195.4 L437.5 194.8 L438.3 194.1 L439.2 193.2 L440.0 192.2 L440.9 191.0 L441.7 189.6 L442.6 188.0 L443.4 186.4 L444.3 184.7 L445.1 183.0 L446.0 181.3 L446.8 179.8 L447.7 178.6 L448.5 177.9 L449.4 177.6 L450.2 178.0 L451.1 179.2 L451.9 181.1 L452.8 183.9 L453.6 187.3 L454.5 191.0 L455.4 194.8 L456.2 198.4 L457.1 201.8 L457.9 204.9 L458.8 207.6 L459.6 209.8 L460.5 211.6 L461.3 213.0 L462.2 214.1 L463.0 214.9 L463.9 215.4 L464.7 215.8 L465.6 215.9 L466.4 216.0 L467.3 216.0 L468.1 215.9 L469.0 215.9 L469.8 215.8 L470.7 215.7 L471.5 215.7 L472.4 215.6 L473.2 215.6 L474.1 215.4 L474.9 215.3 L475.8 215.0 L476.6 214.7 L477.5 214.3 L478.3 213.7 L479.2 213.0 L480.0 212.2 L480.9 211.2 L481.7 210.1 L482.6 208.8 L483.5 207.6 L484.3 206.3 L485.2 205.0 L486.0 203.8 L486.9 202.7 L487.7 201.7 L488.6 200.7 L489.4 199.8 L490.3 198.9 L491.1 198.1 L492.0 197.4 L492.8 196.7 L493.7 196.0 L494.5 195.3 L495.4 194.6 L496.2 193.9 L497.1 193.2 L497.9 192.4 L498.8 191.5 L499.6 190.5 L500.5 189.4 L501.3 188.3 L502.2 186.9 L503.0 185.5 L503.9 183.9 L504.7 182.1 L505.6 180.2 L506.4 178.1 L507.3 175.9 L508.1 173.6 L509.0 171.2" fill="none" stroke="#D95319" stroke-width="2.40" stroke-linejoin="round" stroke-linecap="butt"/>
<path d="M373.6 206.6 L374.5 206.1 L375.3 205.5 L376.2 204.9 L377.0 204.0 L377.9 202.9 L378.7 201.7 L379.6 200.3 L380.4 198.9 L381.3 197.6 L382.1 196.3 L383.0 195.2 L383.8 194.2 L384.7 193.4 L385.5 193.0 L386.4 192.9 L387.2 193.4 L388.1 194.3 L388.9 195.8 L389.8 197.9 L390.6 200.2 L391.5 202.6 L392.3 204.8 L393.2 206.7 L394.0 208.2 L394.9 209.4 L395.7 210.4 L396.6 211.1 L397.4 211.6 L398.3 212.0 L399.1 212.2 L400.0 212.3 L400.9 212.4 L401.7 212.4 L402.6 212.4 L403.4 212.4 L404.3 212.4 L405.1 212.4 L406.0 212.4 L406.8 212.4 L407.7 212.4 L408.5 212.5 L409.4 212.5 L410.2 212.6 L411.1 212.5 L411.9 212.4 L412.8 212.1 L413.6 211.7 L414.5 211.2 L415.3 210.5 L416.2 209.8 L417.0 209.0 L417.9 208.1 L418.7 207.2 L419.6 206.4 L420.4 205.5 L421.3 204.6 L422.1 203.8 L423.0 203.0 L423.8 202.3 L424.7 201.6 L425.5 201.0 L426.4 200.5 L427.2 200.0 L428.1 199.5 L429.0 199.0 L429.8 198.6 L430.7 198.2 L431.5 197.7 L432.4 197.3 L433.2 196.9 L434.1 196.5 L434.9 196.0 L435.8 195.6 L436.6 195.1 L437.5 194.5 L438.3 193.8 L439.2 193.0 L440.0 192.0 L440.9 190.7 L441.7 189.3 L442.6 187.8 L443.4 186.1 L444.3 184.4 L445.1 182.7 L446.0 181.1 L446.8 179.6 L447.7 178.4 L448.5 177.6 L449.4 177.4 L450.2 177.8 L451.1 178.9 L451.9 180.8 L452.8 183.6 L453.6 187.0 L454.5 190.8 L455.4 194.5 L456.2 198.2 L457.1 201.6 L457.9 204.6 L458.8 207.3 L459.6 209.6 L460.5 211.4 L461.3 212.8 L462.2 213.8 L463.0 214.6 L463.9 215.2 L464.7 215.5 L465.6 215.7 L466.4 215.8 L467.3 215.7 L468.1 215.7 L469.0 215.6 L469.8 215.5 L470.7 215.5 L471.5 215.5 L472.4 215.4 L473.2 215.3 L474.1 215.2 L474.9 215.0 L475.8 214.8 L476.6 214.5 L477.5 214.0 L478.3 213.5 L479.2 212.8 L480.0 211.9 L480.9 210.9 L481.7 209.8 L482.6 208.6 L483.5 207.3 L484.3 206.0 L485.2 204.8 L486.0 203.6 L486.9 202.5 L487.7 201.4 L488.6 200.5 L489.4 199.5 L490.3 198.7 L491.1 197.9 L492.0 197.1 L492.8 196.4 L493.7 195.8 L494.5 195.1 L495.4 194.4 L496.2 193.7 L497.1 192.9 L497.9 192.1 L498.8 191.2 L499.6 190.3 L500.5 189.2 L501.3 188.0 L502.2 186.7 L503.0 185.2 L503.9 183.6 L504.7 181.9 L505.6 180.0 L506.4 177.9 L507.3 175.7 L508.1 173.4 L509.0 171.0" fill="none" stroke="#7B2D90" stroke-width="2.40" stroke-linejoin="round" stroke-linecap="butt"/>
<path d="M373.50 167.80 V236.75 H508.70 M383.90 236.75 v-2.1 M404.70 236.75 v-2.1 M425.50 236.75 v-2.1 M446.30 236.75 v-2.1 M467.10 236.75 v-2.1 M487.90 236.75 v-2.1 M508.70 236.75 v-2.1 M373.50 222.90 h1.9 M373.50 202.30 h1.9 M373.50 181.70 h1.9" fill="none" stroke="#555" stroke-width="0.7"/>
<text transform="translate(384.20 244.70) rotate(0.03) scale(0.985 1)" font-size="8.58" text-anchor="middle" font-weight="normal" fill="#4a4a4a" stroke="#4a4a4a" stroke-width="0.05">0</text>
<text transform="translate(405.00 244.70) rotate(0.03) scale(0.985 1)" font-size="8.58" text-anchor="middle" font-weight="normal" fill="#4a4a4a" stroke="#4a4a4a" stroke-width="0.05">0.5</text>
<text transform="translate(425.80 244.70) rotate(0.03) scale(0.985 1)" font-size="8.58" text-anchor="middle" font-weight="normal" fill="#4a4a4a" stroke="#4a4a4a" stroke-width="0.05">1</text>
<text transform="translate(446.60 244.70) rotate(0.03) scale(0.985 1)" font-size="8.58" text-anchor="middle" font-weight="normal" fill="#4a4a4a" stroke="#4a4a4a" stroke-width="0.05">1.5</text>
<text transform="translate(467.40 244.70) rotate(0.03) scale(0.985 1)" font-size="8.58" text-anchor="middle" font-weight="normal" fill="#4a4a4a" stroke="#4a4a4a" stroke-width="0.05">2</text>
<text transform="translate(488.20 244.70) rotate(0.03) scale(0.985 1)" font-size="8.58" text-anchor="middle" font-weight="normal" fill="#4a4a4a" stroke="#4a4a4a" stroke-width="0.05">2.5</text>
<text transform="translate(509.00 244.70) rotate(0.03) scale(0.985 1)" font-size="8.58" text-anchor="middle" font-weight="normal" fill="#4a4a4a" stroke="#4a4a4a" stroke-width="0.05">3</text>
<text transform="translate(442.97 253.90) rotate(0.03) scale(0.955 1)" font-size="8.59" text-anchor="middle" font-weight="normal" fill="#4a4a4a" stroke="#4a4a4a" stroke-width="0.05">Time (s)</text>
<text transform="translate(369.70 225.85) rotate(0.03) scale(0.985 1)" font-size="8.58" text-anchor="end" font-weight="normal" fill="#4a4a4a" stroke="#4a4a4a" stroke-width="0.05">-1</text>
<text transform="translate(369.70 204.90) rotate(0.03) scale(0.985 1)" font-size="8.58" text-anchor="end" font-weight="normal" fill="#4a4a4a" stroke="#4a4a4a" stroke-width="0.05">0</text>
<text transform="translate(369.70 183.95) rotate(0.03) scale(0.985 1)" font-size="8.58" text-anchor="end" font-weight="normal" fill="#4a4a4a" stroke="#4a4a4a" stroke-width="0.05">1</text>
<text transform="translate(358.00 196.30) rotate(-89.97) scale(0.955 1)" font-size="8.59" text-anchor="middle" font-weight="normal" fill="#4a4a4a" stroke="#4a4a4a" stroke-width="0.10">Normalized firing rate (1/s)</text>
<text transform="translate(445.30 165.60) rotate(0.03) scale(0.955 1)" font-size="8.53" text-anchor="middle" font-weight="bold" fill="#151515" stroke="#151515" stroke-width="0.12">Component #1 (25.9%)</text>
<path d="M530.75 167.80 V236.40" stroke="#b4b4b4" stroke-width="0.6"/>
<rect x="530.60" y="230.00" width="20.80" height="6.40" fill="#55B94B"/>
<rect x="593.00" y="230.00" width="20.80" height="6.40" fill="#60C8E4"/>
<path d="M520.6 201.7 L521.5 201.2 L522.3 200.6 L523.2 200.0 L524.0 199.3 L524.9 198.4 L525.7 197.4 L526.6 196.2 L527.4 194.8 L528.3 193.5 L529.1 192.1 L530.0 190.7 L530.8 189.3 L531.7 188.1 L532.5 186.9 L533.4 185.8 L534.2 184.9 L535.1 184.1 L535.9 183.6 L536.8 183.3 L537.6 183.3 L538.5 183.5 L539.3 184.0 L540.2 184.8 L541.0 185.7 L541.9 186.7 L542.7 187.9 L543.6 189.0 L544.4 190.2 L545.3 191.4 L546.1 192.4 L547.0 193.4 L547.9 194.3 L548.7 195.2 L549.6 196.0 L550.4 196.8 L551.3 197.5 L552.1 198.4 L553.0 199.2 L553.8 200.1 L554.7 200.9 L555.5 201.8 L556.4 202.7 L557.2 203.5 L558.1 204.3 L558.9 205.1 L559.8 205.8 L560.6 206.5 L561.5 207.1 L562.3 207.7 L563.2 208.2 L564.0 208.7 L564.9 209.2 L565.7 209.6 L566.6 210.0 L567.4 210.4 L568.3 210.7 L569.1 211.0 L570.0 211.3 L570.8 211.6 L571.7 211.8 L572.5 212.0 L573.4 212.1 L574.2 212.2 L575.1 212.3 L576.0 212.3 L576.8 212.1 L577.7 211.9 L578.5 211.6 L579.4 211.3 L580.2 211.0 L581.1 210.6 L581.9 210.3 L582.8 210.0 L583.6 209.6 L584.5 209.3 L585.3 208.9 L586.2 208.4 L587.0 207.8 L587.9 207.0 L588.7 206.0 L589.6 204.8 L590.4 203.4 L591.3 201.8 L592.1 199.9 L593.0 197.9 L593.8 195.7 L594.7 193.4 L595.5 191.3 L596.4 189.4 L597.2 187.8 L598.1 186.5 L598.9 185.5 L599.8 184.9 L600.6 184.7 L601.5 185.0 L602.4 185.6 L603.2 186.5 L604.1 187.8 L604.9 189.3 L605.8 190.9 L606.6 192.5 L607.5 194.1 L608.3 195.5 L609.2 196.8 L610.0 198.0 L610.9 199.1 L611.7 200.0 L612.6 200.8 L613.4 201.4 L614.3 202.0 L615.1 202.5 L616.0 203.0 L616.8 203.5 L617.7 204.0 L618.5 204.6 L619.4 205.2 L620.2 205.9 L621.1 206.6 L621.9 207.3 L622.8 208.0 L623.6 208.6 L624.5 209.2 L625.3 209.7 L626.2 210.2 L627.0 210.6 L627.9 210.9 L628.7 211.3 L629.6 211.5 L630.5 211.8 L631.3 212.0 L632.2 212.1 L633.0 212.2 L633.9 212.3 L634.7 212.3 L635.6 212.3 L636.4 212.2 L637.3 212.1 L638.1 211.9 L639.0 211.7 L639.8 211.5 L640.7 211.3 L641.5 211.0 L642.4 210.7 L643.2 210.5 L644.1 210.2 L644.9 209.8 L645.8 209.5 L646.6 209.1 L647.5 208.6 L648.3 208.0 L649.2 207.4 L650.0 206.7 L650.9 205.9 L651.7 205.0 L652.6 204.0 L653.4 203.0 L654.3 201.9 L655.1 200.8 L656.0 199.6" fill="none" stroke="#D95319" stroke-width="2.40" stroke-linejoin="round" stroke-linecap="butt"/>
<path d="M520.6 201.4 L521.5 200.9 L522.3 200.4 L523.2 199.8 L524.0 199.0 L524.9 198.2 L525.7 197.1 L526.6 195.9 L527.4 194.6 L528.3 193.2 L529.1 191.8 L530.0 190.4 L530.8 189.1 L531.7 187.8 L532.5 186.6 L533.4 185.5 L534.2 184.6 L535.1 183.9 L535.9 183.3 L536.8 183.0 L537.6 183.0 L538.5 183.3 L539.3 183.8 L540.2 184.5 L541.0 185.4 L541.9 186.5 L542.7 187.6 L543.6 188.8 L544.4 190.0 L545.3 191.1 L546.1 192.2 L547.0 193.2 L547.9 194.1 L548.7 194.9 L549.6 195.7 L550.4 196.5 L551.3 197.3 L552.1 198.1 L553.0 198.9 L553.8 199.8 L554.7 200.7 L555.5 201.6 L556.4 202.4 L557.2 203.3 L558.1 204.1 L558.9 204.8 L559.8 205.5 L560.6 206.2 L561.5 206.8 L562.3 207.4 L563.2 208.0 L564.0 208.5 L564.9 208.9 L565.7 209.4 L566.6 209.8 L567.4 210.1 L568.3 210.5 L569.1 210.8 L570.0 211.1 L570.8 211.3 L571.7 211.5 L572.5 211.7 L573.4 211.9 L574.2 212.0 L575.1 212.0 L576.0 212.0 L576.8 211.9 L577.7 211.7 L578.5 211.4 L579.4 211.1 L580.2 210.7 L581.1 210.4 L581.9 210.0 L582.8 209.7 L583.6 209.4 L584.5 209.1 L585.3 208.6 L586.2 208.1 L587.0 207.5 L587.9 206.7 L588.7 205.8 L589.6 204.6 L590.4 203.2 L591.3 201.6 L592.1 199.7 L593.0 197.6 L593.8 195.4 L594.7 193.2 L595.5 191.1 L596.4 189.2 L597.2 187.5 L598.1 186.2 L598.9 185.3 L599.8 184.7 L600.6 184.5 L601.5 184.7 L602.4 185.3 L603.2 186.3 L604.1 187.5 L604.9 189.0 L605.8 190.6 L606.6 192.3 L607.5 193.8 L608.3 195.3 L609.2 196.6 L610.0 197.8 L610.9 198.8 L611.7 199.7 L612.6 200.5 L613.4 201.2 L614.3 201.8 L615.1 202.3 L616.0 202.8 L616.8 203.3 L617.7 203.8 L618.5 204.4 L619.4 205.0 L620.2 205.7 L621.1 206.4 L621.9 207.0 L622.8 207.7 L623.6 208.3 L624.5 208.9 L625.3 209.5 L626.2 209.9 L627.0 210.3 L627.9 210.7 L628.7 211.0 L629.6 211.3 L630.5 211.5 L631.3 211.7 L632.2 211.9 L633.0 212.0 L633.9 212.0 L634.7 212.1 L635.6 212.0 L636.4 212.0 L637.3 211.8 L638.1 211.7 L639.0 211.5 L639.8 211.2 L640.7 211.0 L641.5 210.7 L642.4 210.5 L643.2 210.2 L644.1 209.9 L644.9 209.6 L645.8 209.2 L646.6 208.8 L647.5 208.3 L648.3 207.8 L649.2 207.1 L650.0 206.4 L650.9 205.6 L651.7 204.7 L652.6 203.8 L653.4 202.7 L654.3 201.7 L655.1 200.5 L656.0 199.4" fill="none" stroke="#7B2D90" stroke-width="2.40" stroke-linejoin="round" stroke-linecap="butt"/>
<path d="M520.20 167.80 V236.75 H655.40 M530.60 236.75 v-2.1 M551.40 236.75 v-2.1 M572.20 236.75 v-2.1 M593.00 236.75 v-2.1 M613.80 236.75 v-2.1 M634.60 236.75 v-2.1 M655.40 236.75 v-2.1 M520.20 222.90 h1.9 M520.20 202.30 h1.9 M520.20 181.70 h1.9" fill="none" stroke="#555" stroke-width="0.7"/>
<text transform="translate(530.90 244.70) rotate(0.03) scale(0.985 1)" font-size="8.58" text-anchor="middle" font-weight="normal" fill="#4a4a4a" stroke="#4a4a4a" stroke-width="0.05">0</text>
<text transform="translate(551.70 244.70) rotate(0.03) scale(0.985 1)" font-size="8.58" text-anchor="middle" font-weight="normal" fill="#4a4a4a" stroke="#4a4a4a" stroke-width="0.05">0.5</text>
<text transform="translate(572.50 244.70) rotate(0.03) scale(0.985 1)" font-size="8.58" text-anchor="middle" font-weight="normal" fill="#4a4a4a" stroke="#4a4a4a" stroke-width="0.05">1</text>
<text transform="translate(593.30 244.70) rotate(0.03) scale(0.985 1)" font-size="8.58" text-anchor="middle" font-weight="normal" fill="#4a4a4a" stroke="#4a4a4a" stroke-width="0.05">1.5</text>
<text transform="translate(614.10 244.70) rotate(0.03) scale(0.985 1)" font-size="8.58" text-anchor="middle" font-weight="normal" fill="#4a4a4a" stroke="#4a4a4a" stroke-width="0.05">2</text>
<text transform="translate(634.90 244.70) rotate(0.03) scale(0.985 1)" font-size="8.58" text-anchor="middle" font-weight="normal" fill="#4a4a4a" stroke="#4a4a4a" stroke-width="0.05">2.5</text>
<text transform="translate(655.70 244.70) rotate(0.03) scale(0.985 1)" font-size="8.58" text-anchor="middle" font-weight="normal" fill="#4a4a4a" stroke="#4a4a4a" stroke-width="0.05">3</text>
<text transform="translate(589.67 253.90) rotate(0.03) scale(0.955 1)" font-size="8.59" text-anchor="middle" font-weight="normal" fill="#4a4a4a" stroke="#4a4a4a" stroke-width="0.05">Time (s)</text>
<text transform="translate(589.80 165.60) rotate(0.03) scale(0.955 1)" font-size="8.53" text-anchor="middle" font-weight="bold" fill="#151515" stroke="#151515" stroke-width="0.12">Component #2 (17.9%)</text>
<path d="M55.15 277.50 V346.30" stroke="#cccccc" stroke-width="1"/>
<rect x="55.00" y="339.90" width="20.80" height="6.40" fill="#55B94B"/>
<rect x="117.40" y="339.90" width="20.80" height="6.40" fill="#60C8E4"/>
<path d="M44.6 311.5 L45.5 311.1 L46.3 311.0 L47.2 310.9 L48.0 311.1 L48.9 310.9 L49.7 310.8 L50.6 310.3 L51.4 310.0 L52.3 309.5 L53.1 309.5 L54.0 309.8 L54.8 310.2 L55.7 309.6 L56.5 309.0 L57.4 308.2 L58.2 307.4 L59.1 306.1 L59.9 305.1 L60.8 304.1 L61.6 303.5 L62.5 302.7 L63.3 302.2 L64.2 301.8 L65.0 301.3 L65.9 300.8 L66.7 300.2 L67.6 299.7 L68.4 299.5 L69.3 299.6 L70.1 299.4 L71.0 299.2 L71.9 299.0 L72.7 298.9 L73.6 298.9 L74.4 299.0 L75.3 299.1 L76.1 299.3 L77.0 299.3 L77.8 299.5 L78.7 299.4 L79.5 300.2 L80.4 300.2 L81.2 300.7 L82.1 300.9 L82.9 301.3 L83.8 301.5 L84.6 301.5 L85.5 301.9 L86.3 302.6 L87.2 303.3 L88.0 303.7 L88.9 304.0 L89.7 304.4 L90.6 305.0 L91.4 305.4 L92.3 306.3 L93.1 306.4 L94.0 307.1 L94.8 307.3 L95.7 307.9 L96.5 308.1 L97.4 308.2 L98.2 308.4 L99.1 308.1 L100.0 308.0 L100.8 307.7 L101.7 307.9 L102.5 307.7 L103.4 307.7 L104.2 307.7 L105.1 307.5 L105.9 307.5 L106.8 307.0 L107.6 306.8 L108.5 306.4 L109.3 306.7 L110.2 306.8 L111.0 307.0 L111.9 306.9 L112.7 307.3 L113.6 307.4 L114.4 307.6 L115.3 307.4 L116.1 307.3 L117.0 307.4 L117.8 308.0 L118.7 308.6 L119.5 308.9 L120.4 309.4 L121.2 309.6 L122.1 310.0 L122.9 310.3 L123.8 311.1 L124.6 312.0 L125.5 312.3 L126.4 312.8 L127.2 313.2 L128.1 313.7 L128.9 314.0 L129.8 314.4 L130.6 314.5 L131.5 314.5 L132.3 314.7 L133.2 314.5 L134.0 314.8 L134.9 314.9 L135.7 315.3 L136.6 315.3 L137.4 315.3 L138.3 315.3 L139.1 315.1 L140.0 315.0 L140.8 314.7 L141.7 314.4 L142.5 314.0 L143.4 313.9 L144.2 313.9 L145.1 313.6 L145.9 313.2 L146.8 312.8 L147.6 312.9 L148.5 312.7 L149.3 312.1 L150.2 311.7 L151.0 311.6 L151.9 312.0 L152.7 311.8 L153.6 311.3 L154.5 311.0 L155.3 310.9 L156.2 310.9 L157.0 310.6 L157.9 310.7 L158.7 310.6 L159.6 310.7 L160.4 310.3 L161.3 309.8 L162.1 309.4 L163.0 309.5 L163.8 309.3 L164.7 309.5 L165.5 309.5 L166.4 309.5 L167.2 309.3 L168.1 309.0 L168.9 309.1 L169.8 309.0 L170.6 308.7 L171.5 308.6 L172.3 308.6 L173.2 308.7 L174.0 308.7 L174.9 308.9 L175.7 308.6 L176.6 308.8 L177.4 308.8 L178.3 309.1 L179.1 309.1 L180.0 309.2" fill="none" stroke="#0072BD" stroke-width="2.60" stroke-linejoin="round" stroke-linecap="butt"/>
<path d="M44.6 312.1 L45.5 311.7 L46.3 311.6 L47.2 311.6 L48.0 311.9 L48.9 311.9 L49.7 312.0 L50.6 311.8 L51.4 312.2 L52.3 312.1 L53.1 312.3 L54.0 312.1 L54.8 312.4 L55.7 312.1 L56.5 312.4 L57.4 312.5 L58.2 312.7 L59.1 312.9 L59.9 312.7 L60.8 313.2 L61.6 313.2 L62.5 313.6 L63.3 313.6 L64.2 313.5 L65.0 313.7 L65.9 313.9 L66.7 313.9 L67.6 313.8 L68.4 313.6 L69.3 313.6 L70.1 313.3 L71.0 313.3 L71.9 313.2 L72.7 313.4 L73.6 313.4 L74.4 313.4 L75.3 313.0 L76.1 312.7 L77.0 312.3 L77.8 312.3 L78.7 312.5 L79.5 312.5 L80.4 312.7 L81.2 312.0 L82.1 312.1 L82.9 312.0 L83.8 311.7 L84.6 311.5 L85.5 311.5 L86.3 311.9 L87.2 312.0 L88.0 311.6 L88.9 311.4 L89.7 311.2 L90.6 311.1 L91.4 310.9 L92.3 311.2 L93.1 311.1 L94.0 311.2 L94.8 310.8 L95.7 310.7 L96.5 310.3 L97.4 310.2 L98.2 310.3 L99.1 310.4 L100.0 310.2 L100.8 310.1 L101.7 310.2 L102.5 310.3 L103.4 310.3 L104.2 310.1 L105.1 310.4 L105.9 310.5 L106.8 310.3 L107.6 310.2 L108.5 310.7 L109.3 311.3 L110.2 311.0 L111.0 310.6 L111.9 310.7 L112.7 311.1 L113.6 311.6 L114.4 311.5 L115.3 311.9 L116.1 311.9 L117.0 311.9 L117.8 311.6 L118.7 311.4 L119.5 311.4 L120.4 311.3 L121.2 311.0 L122.1 310.7 L122.9 310.4 L123.8 310.4 L124.6 310.5 L125.5 310.8 L126.4 311.0 L127.2 310.6 L128.1 310.1 L128.9 310.1 L129.8 310.2 L130.6 310.4 L131.5 310.1 L132.3 309.8 L133.2 310.1 L134.0 310.2 L134.9 310.5 L135.7 310.1 L136.6 310.5 L137.4 310.6 L138.3 310.8 L139.1 310.7 L140.0 310.9 L140.8 311.3 L141.7 311.2 L142.5 311.4 L143.4 311.2 L144.2 311.6 L145.1 311.4 L145.9 311.7 L146.8 311.6 L147.6 311.7 L148.5 311.7 L149.3 311.9 L150.2 311.9 L151.0 311.9 L151.9 312.0 L152.7 312.0 L153.6 312.0 L154.5 311.8 L155.3 312.0 L156.2 311.8 L157.0 311.7 L157.9 311.6 L158.7 311.6 L159.6 311.7 L160.4 311.6 L161.3 311.9 L162.1 312.0 L163.0 311.9 L163.8 311.8 L164.7 311.9 L165.5 311.9 L166.4 312.0 L167.2 312.1 L168.1 312.2 L168.9 312.1 L169.8 311.7 L170.6 311.6 L171.5 311.5 L172.3 311.5 L173.2 311.5 L174.0 311.7 L174.9 312.0 L175.7 312.0 L176.6 312.0 L177.4 311.7 L178.3 312.1 L179.1 312.5 L180.0 312.7" fill="none" stroke="#D95319" stroke-width="2.60" stroke-linejoin="round" stroke-linecap="butt"/>
<path d="M44.6 313.0 L45.5 312.7 L46.3 312.5 L47.2 312.5 L48.0 312.3 L48.9 312.2 L49.7 311.9 L50.6 312.3 L51.4 312.2 L52.3 312.6 L53.1 312.2 L54.0 312.2 L54.8 312.2 L55.7 312.6 L56.5 312.9 L57.4 312.9 L58.2 312.5 L59.1 312.5 L59.9 312.5 L60.8 312.7 L61.6 313.0 L62.5 313.0 L63.3 313.5 L64.2 313.3 L65.0 313.5 L65.9 313.4 L66.7 313.4 L67.6 313.6 L68.4 313.7 L69.3 313.8 L70.1 313.8 L71.0 313.6 L71.9 313.9 L72.7 314.3 L73.6 314.5 L74.4 314.6 L75.3 314.5 L76.1 314.4 L77.0 314.5 L77.8 314.4 L78.7 314.6 L79.5 314.3 L80.4 314.3 L81.2 314.7 L82.1 315.2 L82.9 315.3 L83.8 315.1 L84.6 314.9 L85.5 314.7 L86.3 314.4 L87.2 314.7 L88.0 314.6 L88.9 314.9 L89.7 314.8 L90.6 314.8 L91.4 314.6 L92.3 314.3 L93.1 314.1 L94.0 314.1 L94.8 313.8 L95.7 313.9 L96.5 313.8 L97.4 313.5 L98.2 312.9 L99.1 312.6 L100.0 312.6 L100.8 312.5 L101.7 312.7 L102.5 312.6 L103.4 312.6 L104.2 312.4 L105.1 312.2 L105.9 312.3 L106.8 312.4 L107.6 313.0 L108.5 312.8 L109.3 312.6 L110.2 312.5 L111.0 312.6 L111.9 312.5 L112.7 312.7 L113.6 312.8 L114.4 313.1 L115.3 312.8 L116.1 313.0 L117.0 312.9 L117.8 313.0 L118.7 312.9 L119.5 313.2 L120.4 313.1 L121.2 313.1 L122.1 313.1 L122.9 313.2 L123.8 312.7 L124.6 312.4 L125.5 312.4 L126.4 312.4 L127.2 312.4 L128.1 312.1 L128.9 312.2 L129.8 311.9 L130.6 311.9 L131.5 312.1 L132.3 311.8 L133.2 311.8 L134.0 311.6 L134.9 311.6 L135.7 311.7 L136.6 311.7 L137.4 311.7 L138.3 311.7 L139.1 311.7 L140.0 311.9 L140.8 311.9 L141.7 311.9 L142.5 311.6 L143.4 311.5 L144.2 311.7 L145.1 311.9 L145.9 312.0 L146.8 311.8 L147.6 311.7 L148.5 311.4 L149.3 311.1 L150.2 311.2 L151.0 311.3 L151.9 311.6 L152.7 311.7 L153.6 311.6 L154.5 311.8 L155.3 311.5 L156.2 311.7 L157.0 311.2 L157.9 311.4 L158.7 311.6 L159.6 311.5 L160.4 311.6 L161.3 311.4 L162.1 311.7 L163.0 311.7 L163.8 311.8 L164.7 311.8 L165.5 311.9 L166.4 311.9 L167.2 311.9 L168.1 311.8 L168.9 311.4 L169.8 311.4 L170.6 311.3 L171.5 311.7 L172.3 311.5 L173.2 311.3 L174.0 311.2 L174.9 311.1 L175.7 311.0 L176.6 311.0 L177.4 310.8 L178.3 311.3 L179.1 310.9 L180.0 311.1" fill="none" stroke="#EDB120" stroke-width="2.60" stroke-linejoin="round" stroke-linecap="butt"/>
<path d="M44.6 312.0 L45.5 311.6 L46.3 311.4 L47.2 311.5 L48.0 311.7 L48.9 312.1 L49.7 312.0 L50.6 311.9 L51.4 311.8 L52.3 312.1 L53.1 312.5 L54.0 312.7 L54.8 312.8 L55.7 313.4 L56.5 313.9 L57.4 314.4 L58.2 314.7 L59.1 315.3 L59.9 315.9 L60.8 316.7 L61.6 317.4 L62.5 318.1 L63.3 318.5 L64.2 319.2 L65.0 319.7 L65.9 320.0 L66.7 319.9 L67.6 320.0 L68.4 320.5 L69.3 321.1 L70.1 321.3 L71.0 321.0 L71.9 320.9 L72.7 321.1 L73.6 321.5 L74.4 321.4 L75.3 321.5 L76.1 321.1 L77.0 321.0 L77.8 320.8 L78.7 321.0 L79.5 321.1 L80.4 321.2 L81.2 321.0 L82.1 321.0 L82.9 320.6 L83.8 320.5 L84.6 320.3 L85.5 319.8 L86.3 319.4 L87.2 318.9 L88.0 318.9 L88.9 319.0 L89.7 319.0 L90.6 318.5 L91.4 318.2 L92.3 317.7 L93.1 317.8 L94.0 317.4 L94.8 317.5 L95.7 317.0 L96.5 316.9 L97.4 316.5 L98.2 316.5 L99.1 316.1 L100.0 316.2 L100.8 316.0 L101.7 315.9 L102.5 315.9 L103.4 316.0 L104.2 316.1 L105.1 316.0 L105.9 315.9 L106.8 316.0 L107.6 316.0 L108.5 315.9 L109.3 316.0 L110.2 315.7 L111.0 315.7 L111.9 315.2 L112.7 315.6 L113.6 315.3 L114.4 315.5 L115.3 315.2 L116.1 315.2 L117.0 314.9 L117.8 314.4 L118.7 314.2 L119.5 314.5 L120.4 314.6 L121.2 314.7 L122.1 314.3 L122.9 314.0 L123.8 313.4 L124.6 313.0 L125.5 313.0 L126.4 312.9 L127.2 312.8 L128.1 312.6 L128.9 312.5 L129.8 312.1 L130.6 311.9 L131.5 311.9 L132.3 311.9 L133.2 311.7 L134.0 311.3 L134.9 311.3 L135.7 311.4 L136.6 311.4 L137.4 311.2 L138.3 311.2 L139.1 311.1 L140.0 311.1 L140.8 310.8 L141.7 310.7 L142.5 310.8 L143.4 311.1 L144.2 311.4 L145.1 311.5 L145.9 311.7 L146.8 311.6 L147.6 311.8 L148.5 312.1 L149.3 312.5 L150.2 312.6 L151.0 312.7 L151.9 312.8 L152.7 313.0 L153.6 313.2 L154.5 313.2 L155.3 313.4 L156.2 313.6 L157.0 314.0 L157.9 314.3 L158.7 314.2 L159.6 314.1 L160.4 313.9 L161.3 313.9 L162.1 313.5 L163.0 313.6 L163.8 313.8 L164.7 314.2 L165.5 313.9 L166.4 313.6 L167.2 313.5 L168.1 313.6 L168.9 313.6 L169.8 313.6 L170.6 313.7 L171.5 314.2 L172.3 314.4 L173.2 314.3 L174.0 314.0 L174.9 314.2 L175.7 314.3 L176.6 314.7 L177.4 314.4 L178.3 314.3 L179.1 314.5 L180.0 314.6" fill="none" stroke="#7B2D90" stroke-width="2.60" stroke-linejoin="round" stroke-linecap="butt"/>
<path d="M44.60 277.50 V346.65 H179.80 M55.00 346.65 v-2.1 M75.80 346.65 v-2.1 M96.60 346.65 v-2.1 M117.40 346.65 v-2.1 M138.20 346.65 v-2.1 M159.00 346.65 v-2.1 M179.80 346.65 v-2.1 M44.60 332.76 h1.9 M44.60 312.10 h1.9 M44.60 291.44 h1.9" fill="none" stroke="#555" stroke-width="0.7"/>
<text transform="translate(55.30 354.10) rotate(0.03) scale(0.985 1)" font-size="8.58" text-anchor="middle" font-weight="normal" fill="#4a4a4a" stroke="#4a4a4a" stroke-width="0.05">0</text>
<text transform="translate(76.10 354.10) rotate(0.03) scale(0.985 1)" font-size="8.58" text-anchor="middle" font-weight="normal" fill="#4a4a4a" stroke="#4a4a4a" stroke-width="0.05">0.5</text>
<text transform="translate(96.90 354.10) rotate(0.03) scale(0.985 1)" font-size="8.58" text-anchor="middle" font-weight="normal" fill="#4a4a4a" stroke="#4a4a4a" stroke-width="0.05">1</text>
<text transform="translate(117.70 354.10) rotate(0.03) scale(0.985 1)" font-size="8.58" text-anchor="middle" font-weight="normal" fill="#4a4a4a" stroke="#4a4a4a" stroke-width="0.05">1.5</text>
<text transform="translate(138.50 354.10) rotate(0.03) scale(0.985 1)" font-size="8.58" text-anchor="middle" font-weight="normal" fill="#4a4a4a" stroke="#4a4a4a" stroke-width="0.05">2</text>
<text transform="translate(159.30 354.10) rotate(0.03) scale(0.985 1)" font-size="8.58" text-anchor="middle" font-weight="normal" fill="#4a4a4a" stroke="#4a4a4a" stroke-width="0.05">2.5</text>
<text transform="translate(180.10 354.10) rotate(0.03) scale(0.985 1)" font-size="8.58" text-anchor="middle" font-weight="normal" fill="#4a4a4a" stroke="#4a4a4a" stroke-width="0.05">3</text>
<text transform="translate(114.07 364.00) rotate(0.03) scale(0.955 1)" font-size="8.59" text-anchor="middle" font-weight="normal" fill="#4a4a4a" stroke="#4a4a4a" stroke-width="0.05">Time (s)</text>
<text transform="translate(42.60 335.71) rotate(0.03) scale(0.985 1)" font-size="8.58" text-anchor="end" font-weight="normal" fill="#4a4a4a" stroke="#4a4a4a" stroke-width="0.05">-1</text>
<text transform="translate(42.60 314.70) rotate(0.03) scale(0.985 1)" font-size="8.58" text-anchor="end" font-weight="normal" fill="#4a4a4a" stroke="#4a4a4a" stroke-width="0.05">0</text>
<text transform="translate(42.60 293.69) rotate(0.03) scale(0.985 1)" font-size="8.58" text-anchor="end" font-weight="normal" fill="#4a4a4a" stroke="#4a4a4a" stroke-width="0.05">1</text>
<text transform="translate(31.90 306.40) rotate(-89.97) scale(0.955 1)" font-size="8.59" text-anchor="middle" font-weight="normal" fill="#4a4a4a" stroke="#4a4a4a" stroke-width="0.10">Normalized burst rate</text>
<text transform="translate(116.50 275.40) rotate(0.03) scale(0.955 1)" font-size="8.53" text-anchor="middle" font-weight="bold" fill="#151515" stroke="#151515" stroke-width="0.12">Component #5 (4.9%)</text>
<path d="M201.95 277.50 V346.30" stroke="#cccccc" stroke-width="1"/>
<rect x="201.80" y="339.90" width="20.80" height="6.40" fill="#55B94B"/>
<rect x="264.20" y="339.90" width="20.80" height="6.40" fill="#60C8E4"/>
<path d="M191.6 311.1 L192.5 311.6 L193.3 311.2 L194.2 311.1 L195.0 311.1 L195.9 311.3 L196.7 311.3 L197.6 311.1 L198.4 311.1 L199.3 311.3 L200.1 311.6 L201.0 312.2 L201.8 312.5 L202.7 312.5 L203.5 312.6 L204.4 312.5 L205.2 312.5 L206.1 312.5 L206.9 312.6 L207.8 312.8 L208.6 312.9 L209.5 313.0 L210.3 313.0 L211.2 313.1 L212.0 312.8 L212.9 312.2 L213.7 311.7 L214.6 311.7 L215.4 311.8 L216.3 311.6 L217.1 311.0 L218.0 310.6 L218.9 310.4 L219.7 310.2 L220.6 310.2 L221.4 310.3 L222.3 310.1 L223.1 309.9 L224.0 309.6 L224.8 309.5 L225.7 309.6 L226.5 309.5 L227.4 309.7 L228.2 309.6 L229.1 309.8 L229.9 309.3 L230.8 309.1 L231.6 308.8 L232.5 308.9 L233.3 308.6 L234.2 308.8 L235.0 308.5 L235.9 308.9 L236.7 309.0 L237.6 309.3 L238.4 309.2 L239.3 309.1 L240.1 309.2 L241.0 309.3 L241.8 309.5 L242.7 309.7 L243.5 310.0 L244.4 309.9 L245.2 309.8 L246.1 309.6 L247.0 309.4 L247.8 309.5 L248.7 309.5 L249.5 310.0 L250.4 310.2 L251.2 310.6 L252.1 310.0 L252.9 310.0 L253.8 309.9 L254.6 310.3 L255.5 310.2 L256.3 310.0 L257.2 310.0 L258.0 310.1 L258.9 310.1 L259.7 310.2 L260.6 310.2 L261.4 310.1 L262.3 310.0 L263.1 309.9 L264.0 309.7 L264.8 309.7 L265.7 309.5 L266.5 309.6 L267.4 309.4 L268.2 309.3 L269.1 309.1 L269.9 308.9 L270.8 309.0 L271.6 309.1 L272.5 309.2 L273.4 309.3 L274.2 309.3 L275.1 309.4 L275.9 309.5 L276.8 310.1 L277.6 310.3 L278.5 310.5 L279.3 310.4 L280.2 310.4 L281.0 310.4 L281.9 310.7 L282.7 311.0 L283.6 311.1 L284.4 310.9 L285.3 310.6 L286.1 310.6 L287.0 310.6 L287.8 310.9 L288.7 310.8 L289.5 311.0 L290.4 311.1 L291.2 310.9 L292.1 310.8 L292.9 310.6 L293.8 311.0 L294.6 310.9 L295.5 310.8 L296.3 310.4 L297.2 310.6 L298.0 310.5 L298.9 310.6 L299.7 310.3 L300.6 310.3 L301.5 310.2 L302.3 309.9 L303.2 309.9 L304.0 310.2 L304.9 310.6 L305.7 310.5 L306.6 310.7 L307.4 310.6 L308.3 310.8 L309.1 310.8 L310.0 311.1 L310.8 311.3 L311.7 311.3 L312.5 311.2 L313.4 311.2 L314.2 310.9 L315.1 310.8 L315.9 310.7 L316.8 310.8 L317.6 310.7 L318.5 310.6 L319.3 310.1 L320.2 309.8 L321.0 309.9 L321.9 310.2 L322.7 310.3 L323.6 310.3 L324.4 310.3 L325.3 310.4 L326.1 310.3 L327.0 310.1" fill="none" stroke="#0072BD" stroke-width="2.60" stroke-linejoin="round" stroke-linecap="butt"/>
<path d="M191.6 311.4 L192.5 311.4 L193.3 311.2 L194.2 311.4 L195.0 311.4 L195.9 311.6 L196.7 311.5 L197.6 311.4 L198.4 311.7 L199.3 311.4 L200.1 311.4 L201.0 311.1 L201.8 310.9 L202.7 310.5 L203.5 310.2 L204.4 310.0 L205.2 309.7 L206.1 309.1 L206.9 309.0 L207.8 309.0 L208.6 308.8 L209.5 308.5 L210.3 308.3 L211.2 308.3 L212.0 308.1 L212.9 307.9 L213.7 307.9 L214.6 308.4 L215.4 308.5 L216.3 308.8 L217.1 308.7 L218.0 309.1 L218.9 309.1 L219.7 309.3 L220.6 309.7 L221.4 310.1 L222.3 310.4 L223.1 310.3 L224.0 310.6 L224.8 310.7 L225.7 311.0 L226.5 311.0 L227.4 311.0 L228.2 310.8 L229.1 310.9 L229.9 311.0 L230.8 311.4 L231.6 311.3 L232.5 311.3 L233.3 311.0 L234.2 311.0 L235.0 311.1 L235.9 311.2 L236.7 311.4 L237.6 311.0 L238.4 311.3 L239.3 311.5 L240.1 311.6 L241.0 311.0 L241.8 310.6 L242.7 310.7 L243.5 310.7 L244.4 310.7 L245.2 310.5 L246.1 311.0 L247.0 310.9 L247.8 310.8 L248.7 310.7 L249.5 310.7 L250.4 310.8 L251.2 310.4 L252.1 310.5 L252.9 310.4 L253.8 310.5 L254.6 310.4 L255.5 310.3 L256.3 310.3 L257.2 310.5 L258.0 311.0 L258.9 311.1 L259.7 311.1 L260.6 311.0 L261.4 311.1 L262.3 310.9 L263.1 310.9 L264.0 310.5 L264.8 310.7 L265.7 310.7 L266.5 311.0 L267.4 311.3 L268.2 311.5 L269.1 311.7 L269.9 311.8 L270.8 311.9 L271.6 311.7 L272.5 312.0 L273.4 312.1 L274.2 312.1 L275.1 311.8 L275.9 311.8 L276.8 312.1 L277.6 312.1 L278.5 312.2 L279.3 311.9 L280.2 312.0 L281.0 312.0 L281.9 312.1 L282.7 312.1 L283.6 312.0 L284.4 312.0 L285.3 311.7 L286.1 311.7 L287.0 311.8 L287.8 312.0 L288.7 312.2 L289.5 312.3 L290.4 312.2 L291.2 312.1 L292.1 312.2 L292.9 312.4 L293.8 312.4 L294.6 312.1 L295.5 312.1 L296.3 312.3 L297.2 312.3 L298.0 312.2 L298.9 312.1 L299.7 312.1 L300.6 312.3 L301.5 312.1 L302.3 312.2 L303.2 311.8 L304.0 311.9 L304.9 311.9 L305.7 311.9 L306.6 311.8 L307.4 311.6 L308.3 311.7 L309.1 311.8 L310.0 312.2 L310.8 312.1 L311.7 312.2 L312.5 311.9 L313.4 312.3 L314.2 312.0 L315.1 312.1 L315.9 311.8 L316.8 311.9 L317.6 311.9 L318.5 311.6 L319.3 311.7 L320.2 311.8 L321.0 312.0 L321.9 311.6 L322.7 311.5 L323.6 311.7 L324.4 311.6 L325.3 311.4 L326.1 311.2 L327.0 311.3" fill="none" stroke="#D95319" stroke-width="2.60" stroke-linejoin="round" stroke-linecap="butt"/>
<path d="M191.6 313.2 L192.5 312.9 L193.3 313.1 L194.2 312.9 L195.0 313.3 L195.9 313.4 L196.7 313.4 L197.6 313.3 L198.4 313.1 L199.3 313.1 L200.1 313.2 L201.0 313.4 L201.8 313.4 L202.7 313.5 L203.5 314.0 L204.4 315.1 L205.2 316.1 L206.1 317.0 L206.9 317.9 L207.8 319.1 L208.6 320.2 L209.5 321.2 L210.3 321.7 L211.2 322.3 L212.0 322.7 L212.9 322.9 L213.7 323.4 L214.6 323.2 L215.4 323.3 L216.3 322.7 L217.1 322.7 L218.0 322.6 L218.9 322.8 L219.7 322.8 L220.6 322.7 L221.4 322.7 L222.3 322.3 L223.1 322.2 L224.0 322.2 L224.8 322.3 L225.7 322.2 L226.5 321.6 L227.4 321.1 L228.2 320.9 L229.1 320.8 L229.9 320.9 L230.8 320.4 L231.6 320.1 L232.5 319.7 L233.3 319.5 L234.2 319.2 L235.0 318.9 L235.9 318.8 L236.7 318.6 L237.6 318.6 L238.4 318.0 L239.3 317.7 L240.1 317.3 L241.0 317.4 L241.8 317.6 L242.7 317.5 L243.5 317.3 L244.4 317.0 L245.2 316.8 L246.1 316.6 L247.0 316.5 L247.8 316.2 L248.7 316.1 L249.5 315.7 L250.4 315.6 L251.2 315.5 L252.1 315.5 L252.9 315.6 L253.8 315.5 L254.6 315.6 L255.5 315.7 L256.3 315.8 L257.2 315.8 L258.0 315.6 L258.9 315.7 L259.7 315.8 L260.6 316.1 L261.4 316.2 L262.3 316.3 L263.1 316.0 L264.0 316.2 L264.8 316.4 L265.7 316.7 L266.5 316.2 L267.4 315.8 L268.2 315.2 L269.1 315.0 L269.9 314.2 L270.8 313.4 L271.6 312.5 L272.5 312.1 L273.4 311.4 L274.2 311.3 L275.1 311.0 L275.9 311.0 L276.8 311.0 L277.6 311.2 L278.5 311.3 L279.3 310.7 L280.2 310.6 L281.0 310.3 L281.9 310.5 L282.7 310.6 L283.6 311.0 L284.4 311.2 L285.3 311.3 L286.1 311.2 L287.0 311.0 L287.8 310.9 L288.7 311.1 L289.5 311.2 L290.4 311.2 L291.2 311.0 L292.1 310.9 L292.9 310.7 L293.8 310.5 L294.6 310.8 L295.5 311.1 L296.3 311.3 L297.2 311.2 L298.0 311.5 L298.9 312.0 L299.7 312.5 L300.6 312.5 L301.5 312.7 L302.3 312.8 L303.2 313.0 L304.0 313.1 L304.9 313.1 L305.7 313.1 L306.6 313.3 L307.4 313.8 L308.3 313.9 L309.1 313.8 L310.0 313.7 L310.8 314.0 L311.7 314.0 L312.5 313.9 L313.4 313.7 L314.2 313.9 L315.1 314.4 L315.9 314.4 L316.8 314.4 L317.6 313.9 L318.5 314.0 L319.3 314.0 L320.2 314.1 L321.0 313.9 L321.9 313.7 L322.7 313.8 L323.6 314.0 L324.4 314.2 L325.3 314.1 L326.1 314.0 L327.0 314.1" fill="none" stroke="#EDB120" stroke-width="2.60" stroke-linejoin="round" stroke-linecap="butt"/>
<path d="M191.6 311.5 L192.5 311.6 L193.3 311.7 L194.2 312.3 L195.0 312.5 L195.9 312.5 L196.7 312.1 L197.6 311.8 L198.4 311.5 L199.3 311.5 L200.1 311.2 L201.0 311.3 L201.8 311.4 L202.7 311.3 L203.5 310.9 L204.4 309.8 L205.2 308.8 L206.1 308.1 L206.9 307.4 L207.8 307.1 L208.6 306.6 L209.5 306.4 L210.3 306.0 L211.2 305.9 L212.0 305.8 L212.9 305.7 L213.7 305.5 L214.6 305.4 L215.4 305.4 L216.3 305.4 L217.1 304.9 L218.0 304.7 L218.9 304.9 L219.7 305.1 L220.6 305.1 L221.4 304.8 L222.3 304.9 L223.1 305.0 L224.0 305.3 L224.8 305.4 L225.7 305.4 L226.5 305.9 L227.4 306.2 L228.2 306.5 L229.1 306.4 L229.9 306.7 L230.8 307.3 L231.6 307.7 L232.5 307.9 L233.3 308.2 L234.2 308.3 L235.0 308.6 L235.9 309.0 L236.7 309.6 L237.6 310.1 L238.4 310.1 L239.3 310.1 L240.1 310.4 L241.0 310.6 L241.8 311.1 L242.7 311.0 L243.5 311.0 L244.4 310.7 L245.2 310.7 L246.1 311.0 L247.0 311.3 L247.8 311.5 L248.7 311.0 L249.5 310.9 L250.4 311.0 L251.2 311.2 L252.1 311.0 L252.9 311.2 L253.8 311.1 L254.6 311.6 L255.5 311.2 L256.3 311.3 L257.2 311.3 L258.0 311.2 L258.9 311.1 L259.7 310.9 L260.6 311.2 L261.4 311.4 L262.3 311.5 L263.1 311.1 L264.0 311.2 L264.8 311.2 L265.7 311.6 L266.5 311.4 L267.4 311.6 L268.2 311.9 L269.1 312.4 L269.9 312.8 L270.8 313.1 L271.6 313.7 L272.5 313.7 L273.4 313.4 L274.2 313.0 L275.1 313.1 L275.9 313.3 L276.8 313.8 L277.6 313.7 L278.5 314.2 L279.3 314.2 L280.2 314.4 L281.0 314.4 L281.9 314.6 L282.7 315.0 L283.6 315.0 L284.4 315.1 L285.3 315.1 L286.1 315.1 L287.0 315.0 L287.8 314.7 L288.7 314.8 L289.5 314.5 L290.4 314.6 L291.2 314.2 L292.1 314.4 L292.9 314.3 L293.8 314.2 L294.6 313.9 L295.5 313.6 L296.3 313.6 L297.2 313.4 L298.0 313.2 L298.9 312.9 L299.7 312.5 L300.6 312.5 L301.5 312.5 L302.3 312.6 L303.2 312.5 L304.0 312.6 L304.9 312.8 L305.7 312.9 L306.6 312.8 L307.4 312.6 L308.3 312.7 L309.1 312.5 L310.0 312.4 L310.8 312.2 L311.7 312.0 L312.5 312.1 L313.4 311.7 L314.2 311.9 L315.1 311.8 L315.9 311.8 L316.8 311.6 L317.6 311.4 L318.5 311.3 L319.3 311.2 L320.2 311.1 L321.0 311.0 L321.9 310.7 L322.7 310.8 L323.6 311.1 L324.4 311.5 L325.3 311.6 L326.1 311.8 L327.0 311.7" fill="none" stroke="#7B2D90" stroke-width="2.60" stroke-linejoin="round" stroke-linecap="butt"/>
<path d="M191.40 277.50 V346.65 H326.60 M201.80 346.65 v-2.1 M222.60 346.65 v-2.1 M243.40 346.65 v-2.1 M264.20 346.65 v-2.1 M285.00 346.65 v-2.1 M305.80 346.65 v-2.1 M326.60 346.65 v-2.1 M191.40 332.76 h1.9 M191.40 312.10 h1.9 M191.40 291.44 h1.9" fill="none" stroke="#555" stroke-width="0.7"/>
<text transform="translate(202.10 354.10) rotate(0.03) scale(0.985 1)" font-size="8.58" text-anchor="middle" font-weight="normal" fill="#4a4a4a" stroke="#4a4a4a" stroke-width="0.05">0</text>
<text transform="translate(222.90 354.10) rotate(0.03) scale(0.985 1)" font-size="8.58" text-anchor="middle" font-weight="normal" fill="#4a4a4a" stroke="#4a4a4a" stroke-width="0.05">0.5</text>
<text transform="translate(243.70 354.10) rotate(0.03) scale(0.985 1)" font-size="8.58" text-anchor="middle" font-weight="normal" fill="#4a4a4a" stroke="#4a4a4a" stroke-width="0.05">1</text>
<text transform="translate(264.50 354.10) rotate(0.03) scale(0.985 1)" font-size="8.58" text-anchor="middle" font-weight="normal" fill="#4a4a4a" stroke="#4a4a4a" stroke-width="0.05">1.5</text>
<text transform="translate(285.30 354.10) rotate(0.03) scale(0.985 1)" font-size="8.58" text-anchor="middle" font-weight="normal" fill="#4a4a4a" stroke="#4a4a4a" stroke-width="0.05">2</text>
<text transform="translate(306.10 354.10) rotate(0.03) scale(0.985 1)" font-size="8.58" text-anchor="middle" font-weight="normal" fill="#4a4a4a" stroke="#4a4a4a" stroke-width="0.05">2.5</text>
<text transform="translate(326.90 354.10) rotate(0.03) scale(0.985 1)" font-size="8.58" text-anchor="middle" font-weight="normal" fill="#4a4a4a" stroke="#4a4a4a" stroke-width="0.05">3</text>
<text transform="translate(260.87 364.00) rotate(0.03) scale(0.955 1)" font-size="8.59" text-anchor="middle" font-weight="normal" fill="#4a4a4a" stroke="#4a4a4a" stroke-width="0.05">Time (s)</text>
<text transform="translate(260.60 275.40) rotate(0.03) scale(0.955 1)" font-size="8.53" text-anchor="middle" font-weight="bold" fill="#151515" stroke="#151515" stroke-width="0.12">Component #6 (3.5%)</text>
<path d="M383.05 277.00 V345.30" stroke="#b4b4b4" stroke-width="0.6"/>
<rect x="382.90" y="338.90" width="20.80" height="6.40" fill="#55B94B"/>
<rect x="445.30" y="338.90" width="20.80" height="6.40" fill="#60C8E4"/>
<path d="M372.6 311.0 L373.5 310.8 L374.3 310.7 L375.2 310.5 L376.0 310.4 L376.9 310.4 L377.7 310.4 L378.6 310.6 L379.4 310.8 L380.3 311.1 L381.1 311.6 L382.0 312.4 L382.8 313.7 L383.7 315.4 L384.5 317.6 L385.4 320.1 L386.2 322.7 L387.1 325.3 L387.9 327.7 L388.8 330.1 L389.6 332.2 L390.5 334.0 L391.3 335.5 L392.2 336.8 L393.0 337.7 L393.9 338.3 L394.7 338.7 L395.6 338.8 L396.4 338.7 L397.3 338.5 L398.1 338.1 L399.0 337.6 L399.9 337.1 L400.7 336.6 L401.6 336.1 L402.4 335.6 L403.3 335.2 L404.1 334.7 L405.0 334.3 L405.8 333.8 L406.7 333.2 L407.5 332.6 L408.4 332.0 L409.2 331.2 L410.1 330.5 L410.9 329.7 L411.8 328.9 L412.6 328.2 L413.5 327.4 L414.3 326.7 L415.2 326.1 L416.0 325.5 L416.9 324.9 L417.7 324.4 L418.6 323.9 L419.4 323.4 L420.3 322.9 L421.1 322.5 L422.0 322.0 L422.8 321.5 L423.7 321.1 L424.5 320.6 L425.4 320.2 L426.2 319.7 L427.1 319.3 L428.0 318.9 L428.8 318.5 L429.7 318.1 L430.5 317.8 L431.4 317.5 L432.2 317.2 L433.1 317.0 L433.9 316.7 L434.8 316.5 L435.6 316.4 L436.5 316.2 L437.3 316.1 L438.2 316.0 L439.0 315.9 L439.9 315.8 L440.7 315.7 L441.6 315.7 L442.4 315.6 L443.3 315.5 L444.1 315.4 L445.0 315.2 L445.8 315.0 L446.7 314.8 L447.5 314.4 L448.4 313.9 L449.2 313.1 L450.1 311.8 L450.9 310.3 L451.8 308.5 L452.6 306.7 L453.5 305.1 L454.4 303.9 L455.2 302.9 L456.1 302.1 L456.9 301.6 L457.8 301.3 L458.6 301.2 L459.5 301.3 L460.3 301.4 L461.2 301.7 L462.0 301.9 L462.9 302.3 L463.7 302.6 L464.6 303.0 L465.4 303.4 L466.3 303.7 L467.1 304.0 L468.0 304.3 L468.8 304.5 L469.7 304.8 L470.5 305.0 L471.4 305.2 L472.2 305.5 L473.1 305.7 L473.9 306.0 L474.8 306.3 L475.6 306.6 L476.5 306.9 L477.3 307.2 L478.2 307.6 L479.0 307.9 L479.9 308.2 L480.7 308.6 L481.6 308.9 L482.5 309.1 L483.3 309.4 L484.2 309.7 L485.0 309.9 L485.9 310.1 L486.7 310.3 L487.6 310.5 L488.4 310.7 L489.3 310.8 L490.1 311.0 L491.0 311.2 L491.8 311.4 L492.7 311.5 L493.5 311.7 L494.4 311.8 L495.2 312.0 L496.1 312.1 L496.9 312.3 L497.8 312.4 L498.6 312.5 L499.5 312.6 L500.3 312.6 L501.2 312.7 L502.0 312.8 L502.9 312.8 L503.7 312.9 L504.6 312.9 L505.4 312.9 L506.3 312.9 L507.1 313.0 L508.0 313.0" fill="none" stroke="#0072BD" stroke-width="2.40" stroke-linejoin="round" stroke-linecap="butt"/>
<path d="M372.6 311.0 L373.5 311.2 L374.3 311.3 L375.2 311.4 L376.0 311.5 L376.9 311.5 L377.7 311.5 L378.6 311.4 L379.4 311.2 L380.3 310.9 L381.1 310.5 L382.0 310.0 L382.8 309.6 L383.7 309.1 L384.5 308.8 L385.4 308.6 L386.2 308.4 L387.1 308.5 L387.9 308.6 L388.8 308.9 L389.6 309.4 L390.5 309.9 L391.3 310.6 L392.2 311.4 L393.0 312.1 L393.9 312.9 L394.7 313.6 L395.6 314.3 L396.4 314.9 L397.3 315.5 L398.1 316.0 L399.0 316.5 L399.9 316.9 L400.7 317.3 L401.6 317.7 L402.4 318.1 L403.3 318.4 L404.1 318.7 L405.0 319.0 L405.8 319.3 L406.7 319.5 L407.5 319.7 L408.4 320.0 L409.2 320.1 L410.1 320.3 L410.9 320.4 L411.8 320.5 L412.6 320.6 L413.5 320.6 L414.3 320.6 L415.2 320.5 L416.0 320.4 L416.9 320.2 L417.7 320.0 L418.6 319.7 L419.4 319.5 L420.3 319.2 L421.1 319.0 L422.0 318.7 L422.8 318.4 L423.7 318.2 L424.5 317.9 L425.4 317.7 L426.2 317.4 L427.1 317.2 L428.0 317.0 L428.8 316.8 L429.7 316.7 L430.5 316.5 L431.4 316.3 L432.2 316.2 L433.1 316.1 L433.9 315.9 L434.8 315.8 L435.6 315.7 L436.5 315.5 L437.3 315.4 L438.2 315.2 L439.0 315.0 L439.9 314.9 L440.7 314.7 L441.6 314.5 L442.4 314.3 L443.3 314.2 L444.1 314.0 L445.0 313.8 L445.8 313.6 L446.7 313.4 L447.5 313.2 L448.4 313.0 L449.2 312.8 L450.1 312.6 L450.9 312.3 L451.8 312.1 L452.6 311.8 L453.5 311.5 L454.4 311.2 L455.2 310.9 L456.1 310.6 L456.9 310.2 L457.8 309.9 L458.6 309.6 L459.5 309.2 L460.3 308.9 L461.2 308.5 L462.0 308.2 L462.9 307.8 L463.7 307.5 L464.6 307.2 L465.4 306.9 L466.3 306.6 L467.1 306.3 L468.0 306.0 L468.8 305.8 L469.7 305.5 L470.5 305.3 L471.4 305.2 L472.2 305.1 L473.1 305.0 L473.9 305.0 L474.8 305.1 L475.6 305.2 L476.5 305.3 L477.3 305.5 L478.2 305.6 L479.0 305.8 L479.9 306.0 L480.7 306.3 L481.6 306.5 L482.5 306.7 L483.3 306.9 L484.2 307.1 L485.0 307.4 L485.9 307.6 L486.7 307.8 L487.6 308.0 L488.4 308.1 L489.3 308.3 L490.1 308.5 L491.0 308.6 L491.8 308.7 L492.7 308.8 L493.5 308.9 L494.4 309.0 L495.2 309.1 L496.1 309.2 L496.9 309.2 L497.8 309.3 L498.6 309.3 L499.5 309.4 L500.3 309.5 L501.2 309.5 L502.0 309.6 L502.9 309.7 L503.7 309.8 L504.6 309.9 L505.4 310.0 L506.3 310.1 L507.1 310.3 L508.0 310.4" fill="none" stroke="#D95319" stroke-width="2.40" stroke-linejoin="round" stroke-linecap="butt"/>
<path d="M372.6 311.0 L373.5 311.1 L374.3 311.2 L375.2 311.3 L376.0 311.3 L376.9 311.4 L377.7 311.3 L378.6 311.3 L379.4 311.1 L380.3 310.9 L381.1 310.7 L382.0 310.3 L382.8 309.8 L383.7 309.3 L384.5 308.6 L385.4 307.8 L386.2 306.9 L387.1 306.0 L387.9 305.1 L388.8 304.2 L389.6 303.4 L390.5 302.7 L391.3 302.1 L392.2 301.5 L393.0 301.0 L393.9 300.5 L394.7 300.1 L395.6 299.7 L396.4 299.4 L397.3 299.1 L398.1 298.9 L399.0 298.6 L399.9 298.4 L400.7 298.2 L401.6 298.1 L402.4 297.9 L403.3 297.8 L404.1 297.7 L405.0 297.6 L405.8 297.6 L406.7 297.6 L407.5 297.5 L408.4 297.6 L409.2 297.6 L410.1 297.7 L410.9 297.8 L411.8 297.9 L412.6 298.1 L413.5 298.3 L414.3 298.5 L415.2 298.7 L416.0 299.0 L416.9 299.3 L417.7 299.7 L418.6 300.0 L419.4 300.4 L420.3 300.8 L421.1 301.2 L422.0 301.5 L422.8 301.9 L423.7 302.3 L424.5 302.7 L425.4 303.1 L426.2 303.4 L427.1 303.8 L428.0 304.1 L428.8 304.5 L429.7 304.9 L430.5 305.3 L431.4 305.6 L432.2 306.0 L433.1 306.3 L433.9 306.5 L434.8 306.8 L435.6 306.9 L436.5 307.1 L437.3 307.1 L438.2 307.1 L439.0 307.1 L439.9 307.0 L440.7 307.0 L441.6 307.0 L442.4 307.0 L443.3 307.1 L444.1 307.2 L445.0 307.3 L445.8 307.5 L446.7 307.7 L447.5 308.0 L448.4 308.3 L449.2 308.7 L450.1 309.0 L450.9 309.5 L451.8 309.9 L452.6 310.3 L453.5 310.8 L454.4 311.2 L455.2 311.6 L456.1 312.0 L456.9 312.4 L457.8 312.7 L458.6 312.9 L459.5 313.1 L460.3 313.3 L461.2 313.5 L462.0 313.6 L462.9 313.7 L463.7 313.8 L464.6 313.8 L465.4 313.8 L466.3 313.8 L467.1 313.8 L468.0 313.7 L468.8 313.6 L469.7 313.5 L470.5 313.4 L471.4 313.2 L472.2 313.1 L473.1 312.9 L473.9 312.6 L474.8 312.4 L475.6 312.1 L476.5 311.8 L477.3 311.5 L478.2 311.2 L479.0 310.8 L479.9 310.5 L480.7 310.1 L481.6 309.8 L482.5 309.5 L483.3 309.2 L484.2 309.0 L485.0 308.8 L485.9 308.6 L486.7 308.5 L487.6 308.4 L488.4 308.3 L489.3 308.2 L490.1 308.1 L491.0 308.1 L491.8 308.0 L492.7 307.9 L493.5 307.8 L494.4 307.8 L495.2 307.6 L496.1 307.5 L496.9 307.4 L497.8 307.3 L498.6 307.2 L499.5 307.1 L500.3 307.0 L501.2 306.8 L502.0 306.7 L502.9 306.6 L503.7 306.5 L504.6 306.4 L505.4 306.3 L506.3 306.2 L507.1 306.1 L508.0 306.0" fill="none" stroke="#EDB120" stroke-width="2.40" stroke-linejoin="round" stroke-linecap="butt"/>
<path d="M372.6 311.0 L373.5 311.1 L374.3 311.2 L375.2 311.2 L376.0 311.2 L376.9 311.2 L377.7 311.1 L378.6 311.0 L379.4 310.8 L380.3 310.5 L381.1 310.1 L382.0 309.5 L382.8 308.7 L383.7 307.5 L384.5 306.0 L385.4 304.2 L386.2 302.2 L387.1 300.1 L387.9 298.2 L388.8 296.4 L389.6 295.0 L390.5 293.7 L391.3 292.7 L392.2 291.8 L393.0 291.2 L393.9 290.7 L394.7 290.3 L395.6 290.1 L396.4 290.0 L397.3 290.0 L398.1 290.0 L399.0 290.2 L399.9 290.4 L400.7 290.6 L401.6 290.9 L402.4 291.1 L403.3 291.4 L404.1 291.6 L405.0 291.9 L405.8 292.2 L406.7 292.5 L407.5 292.8 L408.4 293.2 L409.2 293.6 L410.1 294.0 L410.9 294.4 L411.8 294.9 L412.6 295.3 L413.5 295.8 L414.3 296.1 L415.2 296.5 L416.0 296.9 L416.9 297.2 L417.7 297.5 L418.6 297.8 L419.4 298.2 L420.3 298.5 L421.1 298.9 L422.0 299.3 L422.8 299.7 L423.7 300.0 L424.5 300.4 L425.4 300.8 L426.2 301.1 L427.1 301.4 L428.0 301.7 L428.8 301.9 L429.7 302.1 L430.5 302.3 L431.4 302.5 L432.2 302.7 L433.1 302.8 L433.9 303.0 L434.8 303.1 L435.6 303.3 L436.5 303.4 L437.3 303.5 L438.2 303.7 L439.0 303.8 L439.9 303.9 L440.7 304.0 L441.6 304.1 L442.4 304.2 L443.3 304.4 L444.1 304.7 L445.0 305.1 L445.8 305.8 L446.7 306.8 L447.5 308.0 L448.4 309.3 L449.2 310.7 L450.1 312.2 L450.9 313.6 L451.8 314.9 L452.6 316.1 L453.5 317.1 L454.4 317.9 L455.2 318.4 L456.1 318.7 L456.9 318.9 L457.8 319.0 L458.6 319.0 L459.5 319.0 L460.3 319.0 L461.2 318.9 L462.0 318.9 L462.9 318.8 L463.7 318.8 L464.6 318.7 L465.4 318.6 L466.3 318.6 L467.1 318.6 L468.0 318.5 L468.8 318.5 L469.7 318.5 L470.5 318.5 L471.4 318.5 L472.2 318.5 L473.1 318.4 L473.9 318.4 L474.8 318.3 L475.6 318.3 L476.5 318.2 L477.3 318.0 L478.2 317.9 L479.0 317.7 L479.9 317.6 L480.7 317.3 L481.6 317.1 L482.5 316.9 L483.3 316.6 L484.2 316.3 L485.0 316.0 L485.9 315.7 L486.7 315.4 L487.6 315.1 L488.4 314.8 L489.3 314.6 L490.1 314.4 L491.0 314.2 L491.8 314.1 L492.7 313.9 L493.5 313.9 L494.4 313.8 L495.2 313.7 L496.1 313.7 L496.9 313.6 L497.8 313.6 L498.6 313.6 L499.5 313.5 L500.3 313.5 L501.2 313.4 L502.0 313.4 L502.9 313.3 L503.7 313.3 L504.6 313.2 L505.4 313.2 L506.3 313.1 L507.1 313.1 L508.0 313.0" fill="none" stroke="#7B2D90" stroke-width="2.40" stroke-linejoin="round" stroke-linecap="butt"/>
<path d="M372.50 277.00 V345.65 H507.70 M382.90 345.65 v-2.1 M403.70 345.65 v-2.1 M424.50 345.65 v-2.1 M445.30 345.65 v-2.1 M466.10 345.65 v-2.1 M486.90 345.65 v-2.1 M507.70 345.65 v-2.1 M372.50 331.86 h1.9 M372.50 311.35 h1.9 M372.50 290.84 h1.9" fill="none" stroke="#555" stroke-width="0.7"/>
<text transform="translate(383.20 353.60) rotate(0.03) scale(0.985 1)" font-size="8.58" text-anchor="middle" font-weight="normal" fill="#4a4a4a" stroke="#4a4a4a" stroke-width="0.05">0</text>
<text transform="translate(404.00 353.60) rotate(0.03) scale(0.985 1)" font-size="8.58" text-anchor="middle" font-weight="normal" fill="#4a4a4a" stroke="#4a4a4a" stroke-width="0.05">0.5</text>
<text transform="translate(424.80 353.60) rotate(0.03) scale(0.985 1)" font-size="8.58" text-anchor="middle" font-weight="normal" fill="#4a4a4a" stroke="#4a4a4a" stroke-width="0.05">1</text>
<text transform="translate(445.60 353.60) rotate(0.03) scale(0.985 1)" font-size="8.58" text-anchor="middle" font-weight="normal" fill="#4a4a4a" stroke="#4a4a4a" stroke-width="0.05">1.5</text>
<text transform="translate(466.40 353.60) rotate(0.03) scale(0.985 1)" font-size="8.58" text-anchor="middle" font-weight="normal" fill="#4a4a4a" stroke="#4a4a4a" stroke-width="0.05">2</text>
<text transform="translate(487.20 353.60) rotate(0.03) scale(0.985 1)" font-size="8.58" text-anchor="middle" font-weight="normal" fill="#4a4a4a" stroke="#4a4a4a" stroke-width="0.05">2.5</text>
<text transform="translate(508.00 353.60) rotate(0.03) scale(0.985 1)" font-size="8.58" text-anchor="middle" font-weight="normal" fill="#4a4a4a" stroke="#4a4a4a" stroke-width="0.05">3</text>
<text transform="translate(441.97 363.20) rotate(0.03) scale(0.955 1)" font-size="8.59" text-anchor="middle" font-weight="normal" fill="#4a4a4a" stroke="#4a4a4a" stroke-width="0.05">Time (s)</text>
<text transform="translate(368.70 334.81) rotate(0.03) scale(0.985 1)" font-size="8.58" text-anchor="end" font-weight="normal" fill="#4a4a4a" stroke="#4a4a4a" stroke-width="0.05">-1</text>
<text transform="translate(368.70 313.95) rotate(0.03) scale(0.985 1)" font-size="8.58" text-anchor="end" font-weight="normal" fill="#4a4a4a" stroke="#4a4a4a" stroke-width="0.05">0</text>
<text transform="translate(368.70 293.09) rotate(0.03) scale(0.985 1)" font-size="8.58" text-anchor="end" font-weight="normal" fill="#4a4a4a" stroke="#4a4a4a" stroke-width="0.05">1</text>
<text transform="translate(359.20 306.10) rotate(-89.97) scale(0.955 1)" font-size="8.59" text-anchor="middle" font-weight="normal" fill="#4a4a4a" stroke="#4a4a4a" stroke-width="0.10">Normalized firing rate (1/s)</text>
<text transform="translate(446.50 274.60) rotate(0.03) scale(0.955 1)" font-size="8.53" text-anchor="middle" font-weight="bold" fill="#151515" stroke="#151515" stroke-width="0.12">Component #3 (16.6%)</text>
<path d="M529.65 277.00 V345.30" stroke="#b4b4b4" stroke-width="0.6"/>
<rect x="529.50" y="338.90" width="20.80" height="6.40" fill="#55B94B"/>
<rect x="591.90" y="338.90" width="20.80" height="6.40" fill="#60C8E4"/>
<path d="M519.6 309.6 L520.5 309.6 L521.3 309.6 L522.2 309.6 L523.0 309.6 L523.9 309.6 L524.7 309.6 L525.6 309.6 L526.4 309.6 L527.3 309.6 L528.1 309.6 L529.0 309.6 L529.8 309.5 L530.7 309.3 L531.5 309.1 L532.4 308.7 L533.2 308.3 L534.1 307.6 L534.9 306.9 L535.8 306.1 L536.6 305.3 L537.5 304.4 L538.3 303.6 L539.2 302.8 L540.0 302.2 L540.9 301.6 L541.7 301.1 L542.6 300.6 L543.4 300.2 L544.3 299.9 L545.1 299.5 L546.0 299.2 L546.9 298.9 L547.7 298.7 L548.6 298.4 L549.4 298.2 L550.3 298.0 L551.1 297.8 L552.0 297.6 L552.8 297.4 L553.7 297.3 L554.5 297.2 L555.4 297.1 L556.2 297.0 L557.1 297.0 L557.9 297.0 L558.8 297.0 L559.6 297.0 L560.5 297.1 L561.3 297.3 L562.2 297.5 L563.0 297.7 L563.9 298.0 L564.7 298.3 L565.6 298.7 L566.4 299.1 L567.3 299.6 L568.1 300.0 L569.0 300.5 L569.8 301.0 L570.7 301.5 L571.5 301.9 L572.4 302.2 L573.2 302.5 L574.1 302.8 L575.0 303.1 L575.8 303.3 L576.7 303.5 L577.5 303.7 L578.4 303.9 L579.2 304.1 L580.1 304.3 L580.9 304.4 L581.8 304.6 L582.6 304.7 L583.5 304.8 L584.3 304.9 L585.2 305.0 L586.0 305.1 L586.9 305.2 L587.7 305.3 L588.6 305.4 L589.4 305.5 L590.3 305.7 L591.1 305.8 L592.0 306.1 L592.8 306.3 L593.7 306.7 L594.5 307.1 L595.4 307.5 L596.2 307.9 L597.1 308.4 L597.9 308.9 L598.8 309.5 L599.6 310.0 L600.5 310.5 L601.4 311.1 L602.2 311.6 L603.1 312.0 L603.9 312.5 L604.8 312.9 L605.6 313.2 L606.5 313.6 L607.3 313.8 L608.2 314.0 L609.0 314.2 L609.9 314.4 L610.7 314.6 L611.6 314.7 L612.4 314.8 L613.3 314.9 L614.1 315.0 L615.0 315.1 L615.8 315.1 L616.7 315.0 L617.5 314.9 L618.4 314.8 L619.2 314.6 L620.1 314.4 L620.9 314.2 L621.8 314.0 L622.6 313.7 L623.5 313.5 L624.3 313.2 L625.2 313.0 L626.0 312.8 L626.9 312.5 L627.7 312.3 L628.6 312.1 L629.5 311.9 L630.3 311.7 L631.2 311.6 L632.0 311.4 L632.9 311.3 L633.7 311.1 L634.6 311.0 L635.4 310.9 L636.3 310.7 L637.1 310.6 L638.0 310.5 L638.8 310.4 L639.7 310.3 L640.5 310.2 L641.4 310.1 L642.2 310.0 L643.1 310.0 L643.9 309.9 L644.8 309.8 L645.6 309.7 L646.5 309.6 L647.3 309.6 L648.2 309.5 L649.0 309.4 L649.9 309.4 L650.7 309.3 L651.6 309.2 L652.4 309.2 L653.3 309.1 L654.1 309.1 L655.0 309.0" fill="none" stroke="#0072BD" stroke-width="2.40" stroke-linejoin="round" stroke-linecap="butt"/>
<path d="M519.6 311.4 L520.5 311.5 L521.3 311.6 L522.2 311.6 L523.0 311.7 L523.9 311.7 L524.7 311.7 L525.6 311.7 L526.4 311.7 L527.3 311.6 L528.1 311.5 L529.0 311.4 L529.8 311.3 L530.7 311.3 L531.5 311.4 L532.4 311.7 L533.2 312.1 L534.1 312.8 L534.9 313.5 L535.8 314.4 L536.6 315.4 L537.5 316.4 L538.3 317.4 L539.2 318.4 L540.0 319.4 L540.9 320.3 L541.7 321.1 L542.6 321.9 L543.4 322.6 L544.3 323.2 L545.1 323.7 L546.0 324.1 L546.9 324.5 L547.7 324.8 L548.6 325.2 L549.4 325.6 L550.3 326.2 L551.1 326.8 L552.0 327.5 L552.8 328.2 L553.7 329.0 L554.5 329.7 L555.4 330.5 L556.2 331.2 L557.1 331.8 L557.9 332.4 L558.8 332.9 L559.6 333.2 L560.5 333.5 L561.3 333.6 L562.2 333.6 L563.0 333.5 L563.9 333.3 L564.7 332.9 L565.6 332.3 L566.4 331.6 L567.3 330.8 L568.1 329.9 L569.0 329.0 L569.8 328.1 L570.7 327.3 L571.5 326.5 L572.4 325.9 L573.2 325.3 L574.1 324.8 L575.0 324.4 L575.8 324.1 L576.7 323.7 L577.5 323.4 L578.4 323.1 L579.2 322.8 L580.1 322.6 L580.9 322.3 L581.8 322.1 L582.6 321.9 L583.5 321.8 L584.3 321.7 L585.2 321.6 L586.0 321.5 L586.9 321.5 L587.7 321.5 L588.6 321.4 L589.4 321.4 L590.3 321.3 L591.1 321.2 L592.0 320.9 L592.8 320.7 L593.7 320.3 L594.5 319.8 L595.4 319.2 L596.2 318.4 L597.1 317.5 L597.9 316.4 L598.8 315.2 L599.6 313.9 L600.5 312.7 L601.4 311.5 L602.2 310.5 L603.1 309.6 L603.9 308.8 L604.8 308.2 L605.6 307.6 L606.5 307.2 L607.3 306.9 L608.2 306.6 L609.0 306.4 L609.9 306.2 L610.7 306.1 L611.6 305.9 L612.4 305.7 L613.3 305.5 L614.1 305.4 L615.0 305.2 L615.8 305.1 L616.7 305.0 L617.5 305.0 L618.4 305.0 L619.2 305.0 L620.1 305.1 L620.9 305.3 L621.8 305.5 L622.6 305.9 L623.5 306.3 L624.3 306.7 L625.2 307.2 L626.0 307.8 L626.9 308.3 L627.7 308.9 L628.6 309.4 L629.5 310.0 L630.3 310.4 L631.2 310.9 L632.0 311.3 L632.9 311.6 L633.7 311.8 L634.6 311.9 L635.4 312.0 L636.3 312.0 L637.1 311.9 L638.0 311.9 L638.8 311.8 L639.7 311.7 L640.5 311.6 L641.4 311.6 L642.2 311.5 L643.1 311.5 L643.9 311.5 L644.8 311.6 L645.6 311.6 L646.5 311.7 L647.3 311.8 L648.2 311.9 L649.0 312.0 L649.9 312.1 L650.7 312.3 L651.6 312.4 L652.4 312.5 L653.3 312.7 L654.1 312.8 L655.0 313.0" fill="none" stroke="#D95319" stroke-width="2.40" stroke-linejoin="round" stroke-linecap="butt"/>
<path d="M519.6 310.4 L520.5 310.4 L521.3 310.4 L522.2 310.4 L523.0 310.4 L523.9 310.4 L524.7 310.4 L525.6 310.5 L526.4 310.5 L527.3 310.6 L528.1 310.8 L529.0 310.9 L529.8 311.0 L530.7 311.2 L531.5 311.4 L532.4 311.5 L533.2 311.7 L534.1 311.9 L534.9 312.0 L535.8 312.1 L536.6 312.2 L537.5 312.3 L538.3 312.4 L539.2 312.4 L540.0 312.5 L540.9 312.5 L541.7 312.5 L542.6 312.6 L543.4 312.6 L544.3 312.6 L545.1 312.7 L546.0 312.7 L546.9 312.6 L547.7 312.5 L548.6 312.4 L549.4 312.2 L550.3 311.9 L551.1 311.6 L552.0 311.2 L552.8 310.7 L553.7 310.3 L554.5 309.8 L555.4 309.3 L556.2 308.9 L557.1 308.5 L557.9 308.1 L558.8 307.8 L559.6 307.6 L560.5 307.3 L561.3 307.2 L562.2 307.1 L563.0 307.0 L563.9 307.0 L564.7 307.0 L565.6 307.1 L566.4 307.2 L567.3 307.3 L568.1 307.5 L569.0 307.6 L569.8 307.8 L570.7 307.9 L571.5 308.1 L572.4 308.2 L573.2 308.3 L574.1 308.4 L575.0 308.5 L575.8 308.6 L576.7 308.7 L577.5 308.8 L578.4 308.9 L579.2 309.0 L580.1 309.1 L580.9 309.3 L581.8 309.4 L582.6 309.5 L583.5 309.6 L584.3 309.6 L585.2 309.7 L586.0 309.7 L586.9 309.6 L587.7 309.5 L588.6 309.4 L589.4 309.2 L590.3 309.0 L591.1 308.8 L592.0 308.7 L592.8 308.5 L593.7 308.4 L594.5 308.4 L595.4 308.4 L596.2 308.5 L597.1 308.7 L597.9 308.8 L598.8 309.1 L599.6 309.3 L600.5 309.6 L601.4 309.9 L602.2 310.2 L603.1 310.4 L603.9 310.6 L604.8 310.8 L605.6 311.0 L606.5 311.2 L607.3 311.3 L608.2 311.4 L609.0 311.5 L609.9 311.6 L610.7 311.6 L611.6 311.6 L612.4 311.6 L613.3 311.6 L614.1 311.5 L615.0 311.5 L615.8 311.4 L616.7 311.3 L617.5 311.2 L618.4 311.1 L619.2 311.0 L620.1 310.8 L620.9 310.7 L621.8 310.5 L622.6 310.4 L623.5 310.2 L624.3 310.1 L625.2 309.9 L626.0 309.8 L626.9 309.6 L627.7 309.5 L628.6 309.4 L629.5 309.3 L630.3 309.2 L631.2 309.1 L632.0 309.0 L632.9 309.0 L633.7 309.0 L634.6 309.0 L635.4 309.0 L636.3 309.1 L637.1 309.2 L638.0 309.3 L638.8 309.4 L639.7 309.5 L640.5 309.7 L641.4 309.8 L642.2 309.9 L643.1 310.0 L643.9 310.1 L644.8 310.2 L645.6 310.2 L646.5 310.3 L647.3 310.3 L648.2 310.4 L649.0 310.4 L649.9 310.4 L650.7 310.4 L651.6 310.4 L652.4 310.4 L653.3 310.4 L654.1 310.4 L655.0 310.4" fill="none" stroke="#EDB120" stroke-width="2.40" stroke-linejoin="round" stroke-linecap="butt"/>
<path d="M519.6 311.6 L520.5 311.6 L521.3 311.6 L522.2 311.6 L523.0 311.6 L523.9 311.6 L524.7 311.6 L525.6 311.6 L526.4 311.6 L527.3 311.6 L528.1 311.6 L529.0 311.5 L529.8 311.5 L530.7 311.4 L531.5 311.3 L532.4 311.1 L533.2 310.9 L534.1 310.7 L534.9 310.4 L535.8 310.1 L536.6 309.8 L537.5 309.5 L538.3 309.2 L539.2 309.0 L540.0 308.8 L540.9 308.6 L541.7 308.5 L542.6 308.4 L543.4 308.3 L544.3 308.2 L545.1 308.1 L546.0 307.9 L546.9 307.6 L547.7 307.3 L548.6 307.0 L549.4 306.6 L550.3 306.2 L551.1 305.8 L552.0 305.4 L552.8 305.1 L553.7 304.8 L554.5 304.6 L555.4 304.5 L556.2 304.5 L557.1 304.5 L557.9 304.5 L558.8 304.6 L559.6 304.7 L560.5 304.8 L561.3 304.9 L562.2 305.1 L563.0 305.3 L563.9 305.4 L564.7 305.6 L565.6 305.8 L566.4 305.9 L567.3 306.0 L568.1 306.2 L569.0 306.3 L569.8 306.4 L570.7 306.5 L571.5 306.6 L572.4 306.7 L573.2 306.8 L574.1 306.9 L575.0 307.0 L575.8 307.1 L576.7 307.2 L577.5 307.4 L578.4 307.5 L579.2 307.6 L580.1 307.7 L580.9 307.8 L581.8 307.9 L582.6 308.0 L583.5 308.0 L584.3 308.0 L585.2 308.0 L586.0 307.9 L586.9 307.8 L587.7 307.7 L588.6 307.6 L589.4 307.5 L590.3 307.5 L591.1 307.5 L592.0 307.5 L592.8 307.6 L593.7 307.7 L594.5 308.0 L595.4 308.2 L596.2 308.6 L597.1 308.9 L597.9 309.2 L598.8 309.5 L599.6 309.8 L600.5 310.1 L601.4 310.3 L602.2 310.5 L603.1 310.6 L603.9 310.8 L604.8 311.0 L605.6 311.1 L606.5 311.2 L607.3 311.4 L608.2 311.5 L609.0 311.7 L609.9 311.8 L610.7 312.0 L611.6 312.1 L612.4 312.3 L613.3 312.5 L614.1 312.6 L615.0 312.8 L615.8 313.0 L616.7 313.1 L617.5 313.3 L618.4 313.4 L619.2 313.5 L620.1 313.6 L620.9 313.6 L621.8 313.6 L622.6 313.6 L623.5 313.5 L624.3 313.4 L625.2 313.3 L626.0 313.1 L626.9 313.0 L627.7 312.8 L628.6 312.7 L629.5 312.5 L630.3 312.4 L631.2 312.2 L632.0 312.1 L632.9 312.0 L633.7 311.9 L634.6 311.8 L635.4 311.7 L636.3 311.6 L637.1 311.6 L638.0 311.6 L638.8 311.5 L639.7 311.5 L640.5 311.5 L641.4 311.5 L642.2 311.5 L643.1 311.6 L643.9 311.6 L644.8 311.6 L645.6 311.6 L646.5 311.6 L647.3 311.6 L648.2 311.6 L649.0 311.6 L649.9 311.6 L650.7 311.6 L651.6 311.6 L652.4 311.6 L653.3 311.6 L654.1 311.6 L655.0 311.6" fill="none" stroke="#7B2D90" stroke-width="2.40" stroke-linejoin="round" stroke-linecap="butt"/>
<path d="M519.10 277.00 V345.65 H654.30 M529.50 345.65 v-2.1 M550.30 345.65 v-2.1 M571.10 345.65 v-2.1 M591.90 345.65 v-2.1 M612.70 345.65 v-2.1 M633.50 345.65 v-2.1 M654.30 345.65 v-2.1 M519.10 331.86 h1.9 M519.10 311.35 h1.9 M519.10 290.84 h1.9" fill="none" stroke="#555" stroke-width="0.7"/>
<text transform="translate(529.80 353.60) rotate(0.03) scale(0.985 1)" font-size="8.58" text-anchor="middle" font-weight="normal" fill="#4a4a4a" stroke="#4a4a4a" stroke-width="0.05">0</text>
<text transform="translate(550.60 353.60) rotate(0.03) scale(0.985 1)" font-size="8.58" text-anchor="middle" font-weight="normal" fill="#4a4a4a" stroke="#4a4a4a" stroke-width="0.05">0.5</text>
<text transform="translate(571.40 353.60) rotate(0.03) scale(0.985 1)" font-size="8.58" text-anchor="middle" font-weight="normal" fill="#4a4a4a" stroke="#4a4a4a" stroke-width="0.05">1</text>
<text transform="translate(592.20 353.60) rotate(0.03) scale(0.985 1)" font-size="8.58" text-anchor="middle" font-weight="normal" fill="#4a4a4a" stroke="#4a4a4a" stroke-width="0.05">1.5</text>
<text transform="translate(613.00 353.60) rotate(0.03) scale(0.985 1)" font-size="8.58" text-anchor="middle" font-weight="normal" fill="#4a4a4a" stroke="#4a4a4a" stroke-width="0.05">2</text>
<text transform="translate(633.80 353.60) rotate(0.03) scale(0.985 1)" font-size="8.58" text-anchor="middle" font-weight="normal" fill="#4a4a4a" stroke="#4a4a4a" stroke-width="0.05">2.5</text>
<text transform="translate(654.60 353.60) rotate(0.03) scale(0.985 1)" font-size="8.58" text-anchor="middle" font-weight="normal" fill="#4a4a4a" stroke="#4a4a4a" stroke-width="0.05">3</text>
<text transform="translate(588.57 363.20) rotate(0.03) scale(0.955 1)" font-size="8.59" text-anchor="middle" font-weight="normal" fill="#4a4a4a" stroke="#4a4a4a" stroke-width="0.05">Time (s)</text>
<text transform="translate(588.30 274.60) rotate(0.03) scale(0.955 1)" font-size="8.53" text-anchor="middle" font-weight="bold" fill="#151515" stroke="#151515" stroke-width="0.12">Component #4 (8.4%)</text>
<path d="M57.35 380.00 V448.70" stroke="#cccccc" stroke-width="1"/>
<rect x="57.20" y="442.30" width="20.80" height="6.40" fill="#55B94B"/>
<rect x="119.60" y="442.30" width="20.80" height="6.40" fill="#60C8E4"/>
<path d="M46.6 410.7 L48.0 411.3 L49.3 411.9 L50.7 411.9 L52.0 411.6 L53.4 411.7 L54.7 411.4 M62.4 408.5 L63.8 408.1 L65.1 408.4 L66.5 408.6 L67.8 408.5 L69.2 408.4 L70.3 408.4 M78.0 410.0 L79.4 409.9 L80.7 409.7 L82.1 410.2 L83.4 410.1 L84.8 409.7 L85.9 409.4 M93.6 409.7 L95.0 409.3 L96.3 409.3 L97.7 409.8 L99.0 410.0 L100.4 410.2 L101.5 410.1 M109.2 410.0 L110.6 410.0 L111.9 409.8 L113.3 409.8 L114.6 409.8 L116.0 409.3 L117.1 409.0 M124.8 407.8 L126.2 408.0 L127.5 407.9 L128.9 408.5 L130.2 409.3 L131.6 409.5 L132.7 409.2 M140.4 409.0 L141.8 409.5 L143.1 410.0 L144.5 409.8 L145.8 409.9 L147.2 409.9 L148.3 410.1 M156.0 409.4 L157.4 410.1 L158.7 410.4 L160.1 410.1 L161.4 410.0 L162.8 410.0 L163.9 409.9 M171.6 408.1 L173.0 408.3 L174.3 408.3 L175.7 408.0 L177.0 407.9 L178.4 408.0 L179.5 408.1" fill="none" stroke="#0072BD" stroke-width="2.40" stroke-linejoin="round" stroke-linecap="butt"/>
<path d="M46.6 411.4 L48.0 411.9 L49.3 411.8 L50.7 411.8 L52.0 412.0 L53.4 411.9 L54.7 411.6 M62.4 408.3 L63.8 407.9 L65.1 408.5 L66.5 408.5 L67.8 408.6 L69.2 408.5 L70.3 408.1 M78.0 407.7 L79.4 408.2 L80.7 408.8 L82.1 409.5 L83.4 409.6 L84.8 409.7 L85.9 409.8 M93.6 409.9 L95.0 409.5 L96.3 409.1 L97.7 409.2 L99.0 409.3 L100.4 409.3 L101.5 409.4 M109.2 409.9 L110.6 409.8 L111.9 409.5 L113.3 409.3 L114.6 409.6 L116.0 409.6 L117.1 409.7 M124.8 408.5 L126.2 408.6 L127.5 408.9 L128.9 408.9 L130.2 408.6 L131.6 408.7 L132.7 409.0 M140.4 409.0 L141.8 408.5 L143.1 408.6 L144.5 409.4 L145.8 409.9 L147.2 409.8 L148.3 409.5 M156.0 409.7 L157.4 409.9 L158.7 410.5 L160.1 410.0 L161.4 409.7 L162.8 409.7 L163.9 409.8 M171.6 408.3 L173.0 407.9 L174.3 407.5 L175.7 407.3 L177.0 407.4 L178.4 407.8 L179.5 407.8" fill="none" stroke="#D95319" stroke-width="2.40" stroke-linejoin="round" stroke-linecap="butt"/>
<path d="M46.6 411.4 L48.0 411.9 L49.3 412.2 L50.7 411.7 L52.0 410.8 L53.4 410.7 L54.7 411.0 M62.4 408.7 L63.8 408.9 L65.1 408.2 L66.5 407.7 L67.8 407.7 L69.2 408.3 L70.3 408.8 M78.0 409.6 L79.4 410.0 L80.7 410.3 L82.1 410.3 L83.4 409.2 L84.8 408.3 L85.9 408.9 M93.6 409.3 L95.0 408.7 L96.3 408.8 L97.7 409.6 L99.0 409.1 L100.4 409.0 L101.5 408.8 M109.2 409.5 L110.6 409.7 L111.9 409.5 L113.3 409.1 L114.6 409.4 L116.0 409.3 L117.1 408.9 M124.8 408.5 L126.2 408.5 L127.5 408.5 L128.9 408.3 L130.2 408.1 L131.6 409.1 L132.7 409.4 M140.4 409.6 L141.8 409.6 L143.1 409.7 L144.5 409.7 L145.8 409.5 L147.2 409.7 L148.3 409.8 M156.0 410.7 L157.4 411.1 L158.7 410.7 L160.1 409.9 L161.4 409.1 L162.8 409.5 L163.9 409.8 M171.6 408.5 L173.0 408.1 L174.3 407.7 L175.7 407.4 L177.0 407.6 L178.4 406.9 L179.5 407.6" fill="none" stroke="#EDB120" stroke-width="2.40" stroke-linejoin="round" stroke-linecap="butt"/>
<path d="M46.6 411.2 L48.0 411.4 L49.3 411.5 L50.7 411.7 L52.0 411.4 L53.4 411.4 L54.7 411.3 M62.4 409.0 L63.8 408.8 L65.1 408.5 L66.5 408.2 L67.8 408.0 L69.2 408.4 L70.3 408.6 M78.0 409.4 L79.4 409.4 L80.7 409.4 L82.1 409.4 L83.4 409.4 L84.8 409.4 L85.9 409.6 M93.6 409.7 L95.0 409.5 L96.3 409.4 L97.7 409.3 L99.0 409.3 L100.4 409.3 L101.5 409.4 M109.2 409.6 L110.6 409.5 L111.9 409.5 L113.3 409.5 L114.6 409.4 L116.0 409.3 L117.1 409.2 M124.8 408.8 L126.2 408.4 L127.5 408.3 L128.9 408.5 L130.2 408.5 L131.6 408.6 L132.7 408.9 M140.4 409.5 L141.8 409.6 L143.1 409.9 L144.5 410.1 L145.8 409.9 L147.2 409.9 L148.3 409.8 M156.0 409.9 L157.4 409.6 L158.7 409.6 L160.1 409.7 L161.4 409.9 L162.8 409.9 L163.9 409.7 M171.6 408.5 L173.0 408.3 L174.3 407.9 L175.7 407.7 L177.0 408.0 L178.4 407.8 L179.5 408.1" fill="none" stroke="#7B2D90" stroke-width="2.40" stroke-linejoin="round" stroke-linecap="butt"/>
<path d="M46.6 417.7 L47.5 417.8 L48.3 417.6 L49.2 417.2 L50.0 417.0 L50.9 416.8 L51.7 416.8 L52.6 416.8 L53.4 416.8 L54.3 417.0 L55.1 417.0 L56.0 417.4 L56.8 417.5 L57.7 417.5 L58.5 418.0 L59.4 418.2 L60.2 418.7 L61.1 418.9 L61.9 419.3 L62.8 419.7 L63.6 419.9 L64.5 420.4 L65.3 420.5 L66.2 420.6 L67.0 420.5 L67.9 420.7 L68.7 420.7 L69.6 420.7 L70.4 421.1 L71.3 421.2 L72.1 420.9 L73.0 421.0 L73.9 420.8 L74.7 420.2 L75.6 419.9 L76.4 419.2 L77.3 419.3 L78.1 419.3 L79.0 419.4 L79.8 419.8 L80.7 419.8 L81.5 419.9 L82.4 420.3 L83.2 420.4 L84.1 420.8 L84.9 420.6 L85.8 420.2 L86.6 419.8 L87.5 419.2 L88.3 419.3 L89.2 419.5 L90.0 419.3 L90.9 419.4 L91.7 419.6 L92.6 419.7 L93.4 420.2 L94.3 420.0 L95.1 419.9 L96.0 419.2 L96.8 419.0 L97.7 419.0 L98.5 419.3 L99.4 419.8 L100.2 419.6 L101.1 420.0 L102.0 419.5 L102.8 419.6 L103.7 419.7 L104.5 418.6 L105.4 419.0 L106.2 418.9 L107.1 419.2 L107.9 419.8 L108.8 419.7 L109.6 420.1 L110.5 420.0 L111.3 420.1 L112.2 419.8 L113.0 419.5 L113.9 419.1 L114.7 419.3 L115.6 419.6 L116.4 419.4 L117.3 419.5 L118.1 420.0 L119.0 420.0 L119.8 420.8 L120.7 421.3 L121.5 421.1 L122.4 421.2 L123.2 421.2 L124.1 421.4 L124.9 421.2 L125.8 420.8 L126.6 420.1 L127.5 419.8 L128.4 419.5 L129.2 419.9 L130.1 420.1 L130.9 420.1 L131.8 420.3 L132.6 420.2 L133.5 420.1 L134.3 419.9 L135.2 419.5 L136.0 419.4 L136.9 419.2 L137.7 419.3 L138.6 419.4 L139.4 419.2 L140.3 419.6 L141.1 419.5 L142.0 419.8 L142.8 420.4 L143.7 419.9 L144.5 420.0 L145.4 419.8 L146.2 419.3 L147.1 419.4 L147.9 419.3 L148.8 419.3 L149.6 419.5 L150.5 419.4 L151.3 419.1 L152.2 419.2 L153.0 418.8 L153.9 418.9 L154.7 419.0 L155.6 418.7 L156.5 419.2 L157.3 419.1 L158.2 418.8 L159.0 418.5 L159.9 418.1 L160.7 418.0 L161.6 418.3 L162.4 418.7 L163.3 419.0 L164.1 419.3 L165.0 419.3 L165.8 419.1 L166.7 419.1 L167.5 419.0 L168.4 419.5 L169.2 420.1 L170.1 420.2 L170.9 420.4 L171.8 420.5 L172.6 420.5 L173.5 421.0 L174.3 421.2 L175.2 421.2 L176.0 421.4 L176.9 421.2 L177.7 421.1 L178.6 421.0 L179.4 421.1 L180.3 421.4 L181.1 421.3 L182.0 421.6" fill="none" stroke="#0072BD" stroke-width="2.40" stroke-linejoin="round" stroke-linecap="butt"/>
<path d="M46.6 417.2 L47.5 417.1 L48.3 416.6 L49.2 416.3 L50.0 416.1 L50.9 416.1 L51.7 416.7 L52.6 416.4 L53.4 416.7 L54.3 416.5 L55.1 417.0 L56.0 417.7 L56.8 417.8 L57.7 418.2 L58.5 418.0 L59.4 418.1 L60.2 418.3 L61.1 418.8 L61.9 419.5 L62.8 419.8 L63.6 420.7 L64.5 421.4 L65.3 421.3 L66.2 421.6 L67.0 421.3 L67.9 420.8 L68.7 421.0 L69.6 420.7 L70.4 420.9 L71.3 421.4 L72.1 420.6 L73.0 420.7 L73.9 420.1 L74.7 420.1 L75.6 420.4 L76.4 420.3 L77.3 420.5 L78.1 419.8 L79.0 419.7 L79.8 419.8 L80.7 419.5 L81.5 419.7 L82.4 419.6 L83.2 419.8 L84.1 420.4 L84.9 420.3 L85.8 420.3 L86.6 420.0 L87.5 419.6 L88.3 419.6 L89.2 419.5 L90.0 419.8 L90.9 420.3 L91.7 420.4 L92.6 420.1 L93.4 419.4 L94.3 419.0 L95.1 418.7 L96.0 418.9 L96.8 419.2 L97.7 419.0 L98.5 419.4 L99.4 419.3 L100.2 419.4 L101.1 419.3 L102.0 419.1 L102.8 419.0 L103.7 419.0 L104.5 419.5 L105.4 419.3 L106.2 419.8 L107.1 419.7 L107.9 419.5 L108.8 419.6 L109.6 419.6 L110.5 419.4 L111.3 419.3 L112.2 419.5 L113.0 419.2 L113.9 419.7 L114.7 420.0 L115.6 419.9 L116.4 419.8 L117.3 420.1 L118.1 419.8 L119.0 419.9 L119.8 420.5 L120.7 420.6 L121.5 421.0 L122.4 420.9 L123.2 421.0 L124.1 421.0 L124.9 420.7 L125.8 421.0 L126.6 420.8 L127.5 420.4 L128.4 420.5 L129.2 420.3 L130.1 420.4 L130.9 420.8 L131.8 420.3 L132.6 420.5 L133.5 420.3 L134.3 419.5 L135.2 419.5 L136.0 419.3 L136.9 418.9 L137.7 419.4 L138.6 419.4 L139.4 419.2 L140.3 419.3 L141.1 418.6 L142.0 418.8 L142.8 419.1 L143.7 419.4 L144.5 419.8 L145.4 420.1 L146.2 420.0 L147.1 419.8 L147.9 419.8 L148.8 419.6 L149.6 419.3 L150.5 419.0 L151.3 419.1 L152.2 419.3 L153.0 419.2 L153.9 420.5 L154.7 420.0 L155.6 419.8 L156.5 419.9 L157.3 419.0 L158.2 419.2 L159.0 419.6 L159.9 419.3 L160.7 419.0 L161.6 418.9 L162.4 418.4 L163.3 418.5 L164.1 418.8 L165.0 419.0 L165.8 419.8 L166.7 419.9 L167.5 420.6 L168.4 420.7 L169.2 420.2 L170.1 419.8 L170.9 419.6 L171.8 419.8 L172.6 420.7 L173.5 420.9 L174.3 420.8 L175.2 420.8 L176.0 420.3 L176.9 420.7 L177.7 420.8 L178.6 420.9 L179.4 420.8 L180.3 420.6 L181.1 420.9 L182.0 421.2" fill="none" stroke="#D95319" stroke-width="2.40" stroke-linejoin="round" stroke-linecap="butt"/>
<path d="M46.6 417.9 L47.5 417.7 L48.3 417.9 L49.2 417.6 L50.0 417.5 L50.9 417.2 L51.7 417.3 L52.6 417.0 L53.4 417.1 L54.3 417.1 L55.1 417.2 L56.0 417.7 L56.8 417.4 L57.7 417.6 L58.5 417.5 L59.4 418.0 L60.2 418.2 L61.1 418.4 L61.9 419.2 L62.8 419.5 L63.6 419.9 L64.5 420.6 L65.3 420.3 L66.2 420.4 L67.0 420.4 L67.9 420.5 L68.7 420.8 L69.6 420.8 L70.4 420.6 L71.3 420.2 L72.1 419.8 L73.0 419.5 L73.9 419.8 L74.7 419.6 L75.6 419.6 L76.4 419.5 L77.3 419.5 L78.1 419.7 L79.0 419.7 L79.8 419.9 L80.7 419.4 L81.5 419.6 L82.4 419.2 L83.2 418.9 L84.1 419.1 L84.9 418.9 L85.8 419.2 L86.6 419.5 L87.5 419.4 L88.3 419.6 L89.2 419.8 L90.0 419.8 L90.9 420.0 L91.7 420.0 L92.6 420.0 L93.4 419.8 L94.3 419.9 L95.1 419.7 L96.0 420.0 L96.8 419.7 L97.7 419.3 L98.5 419.2 L99.4 419.1 L100.2 419.0 L101.1 419.4 L102.0 419.1 L102.8 419.1 L103.7 419.1 L104.5 419.4 L105.4 420.0 L106.2 420.3 L107.1 420.8 L107.9 420.8 L108.8 420.6 L109.6 420.6 L110.5 419.8 L111.3 419.3 L112.2 419.6 L113.0 419.0 L113.9 419.2 L114.7 419.4 L115.6 419.3 L116.4 419.8 L117.3 420.3 L118.1 420.5 L119.0 420.4 L119.8 420.4 L120.7 420.3 L121.5 420.6 L122.4 420.5 L123.2 420.6 L124.1 420.7 L124.9 420.6 L125.8 420.7 L126.6 419.9 L127.5 420.1 L128.4 419.9 L129.2 419.9 L130.1 420.3 L130.9 420.1 L131.8 420.1 L132.6 420.4 L133.5 420.5 L134.3 420.1 L135.2 419.9 L136.0 420.0 L136.9 419.6 L137.7 419.5 L138.6 419.3 L139.4 418.8 L140.3 418.9 L141.1 419.3 L142.0 419.3 L142.8 419.0 L143.7 419.4 L144.5 418.6 L145.4 418.8 L146.2 418.7 L147.1 418.5 L147.9 418.9 L148.8 419.0 L149.6 419.3 L150.5 419.3 L151.3 419.2 L152.2 419.0 L153.0 419.2 L153.9 419.1 L154.7 419.6 L155.6 419.8 L156.5 420.4 L157.3 420.0 L158.2 419.9 L159.0 419.7 L159.9 419.2 L160.7 419.8 L161.6 420.2 L162.4 420.6 L163.3 420.3 L164.1 419.8 L165.0 419.2 L165.8 418.9 L166.7 418.8 L167.5 419.0 L168.4 419.0 L169.2 419.0 L170.1 419.5 L170.9 419.9 L171.8 420.4 L172.6 420.5 L173.5 420.8 L174.3 420.5 L175.2 421.0 L176.0 421.1 L176.9 421.2 L177.7 421.4 L178.6 421.2 L179.4 421.2 L180.3 421.0 L181.1 421.1 L182.0 421.3" fill="none" stroke="#EDB120" stroke-width="2.40" stroke-linejoin="round" stroke-linecap="butt"/>
<path d="M46.6 417.3 L47.5 417.2 L48.3 417.4 L49.2 417.3 L50.0 417.1 L50.9 417.0 L51.7 417.0 L52.6 417.1 L53.4 417.1 L54.3 417.2 L55.1 417.3 L56.0 417.2 L56.8 417.5 L57.7 417.8 L58.5 418.2 L59.4 418.5 L60.2 418.9 L61.1 419.0 L61.9 419.4 L62.8 419.9 L63.6 420.3 L64.5 420.7 L65.3 420.8 L66.2 421.0 L67.0 421.0 L67.9 421.2 L68.7 421.2 L69.6 421.0 L70.4 421.1 L71.3 421.1 L72.1 421.1 L73.0 420.8 L73.9 420.6 L74.7 420.2 L75.6 420.2 L76.4 420.1 L77.3 419.8 L78.1 419.8 L79.0 419.5 L79.8 419.2 L80.7 419.3 L81.5 419.2 L82.4 419.1 L83.2 419.3 L84.1 419.2 L84.9 419.0 L85.8 419.4 L86.6 419.3 L87.5 419.5 L88.3 419.7 L89.2 419.5 L90.0 419.5 L90.9 419.5 L91.7 419.4 L92.6 419.6 L93.4 419.7 L94.3 419.4 L95.1 419.6 L96.0 419.3 L96.8 419.4 L97.7 419.6 L98.5 419.4 L99.4 419.3 L100.2 419.3 L101.1 419.4 L102.0 419.5 L102.8 419.7 L103.7 419.9 L104.5 420.0 L105.4 420.0 L106.2 420.3 L107.1 420.1 L107.9 420.0 L108.8 419.8 L109.6 419.6 L110.5 419.7 L111.3 419.7 L112.2 419.6 L113.0 419.5 L113.9 419.4 L114.7 419.5 L115.6 419.7 L116.4 419.8 L117.3 419.8 L118.1 420.0 L119.0 420.3 L119.8 420.4 L120.7 420.6 L121.5 420.6 L122.4 420.9 L123.2 420.9 L124.1 420.9 L124.9 420.7 L125.8 420.5 L126.6 420.3 L127.5 420.2 L128.4 420.4 L129.2 420.3 L130.1 420.3 L130.9 420.2 L131.8 419.8 L132.6 419.8 L133.5 419.7 L134.3 419.5 L135.2 419.7 L136.0 419.7 L136.9 419.7 L137.7 419.7 L138.6 419.6 L139.4 419.7 L140.3 419.6 L141.1 419.7 L142.0 419.7 L142.8 419.6 L143.7 419.7 L144.5 419.7 L145.4 419.6 L146.2 419.4 L147.1 419.4 L147.9 419.4 L148.8 419.4 L149.6 419.3 L150.5 419.3 L151.3 419.2 L152.2 419.3 L153.0 419.5 L153.9 419.6 L154.7 419.8 L155.6 419.5 L156.5 419.6 L157.3 419.3 L158.2 419.2 L159.0 419.4 L159.9 419.3 L160.7 419.4 L161.6 419.4 L162.4 419.2 L163.3 419.3 L164.1 419.3 L165.0 419.6 L165.8 419.7 L166.7 419.7 L167.5 419.8 L168.4 419.7 L169.2 419.9 L170.1 420.0 L170.9 420.1 L171.8 420.1 L172.6 420.4 L173.5 420.6 L174.3 420.8 L175.2 420.9 L176.0 420.8 L176.9 421.0 L177.7 421.1 L178.6 421.1 L179.4 421.3 L180.3 421.2 L181.1 421.3 L182.0 421.7" fill="none" stroke="#7B2D90" stroke-width="2.40" stroke-linejoin="round" stroke-linecap="butt"/>
<path d="M46.80 380.00 V449.05 H182.00 M57.20 449.05 v-2.1 M78.00 449.05 v-2.1 M98.80 449.05 v-2.1 M119.60 449.05 v-2.1 M140.40 449.05 v-2.1 M161.20 449.05 v-2.1 M182.00 449.05 v-2.1 M46.80 435.18 h1.9 M46.80 414.55 h1.9 M46.80 393.92 h1.9" fill="none" stroke="#555" stroke-width="0.7"/>
<text transform="translate(57.50 457.00) rotate(0.03) scale(0.985 1)" font-size="8.58" text-anchor="middle" font-weight="normal" fill="#4a4a4a" stroke="#4a4a4a" stroke-width="0.05">0</text>
<text transform="translate(78.30 457.00) rotate(0.03) scale(0.985 1)" font-size="8.58" text-anchor="middle" font-weight="normal" fill="#4a4a4a" stroke="#4a4a4a" stroke-width="0.05">0.5</text>
<text transform="translate(99.10 457.00) rotate(0.03) scale(0.985 1)" font-size="8.58" text-anchor="middle" font-weight="normal" fill="#4a4a4a" stroke="#4a4a4a" stroke-width="0.05">1</text>
<text transform="translate(119.90 457.00) rotate(0.03) scale(0.985 1)" font-size="8.58" text-anchor="middle" font-weight="normal" fill="#4a4a4a" stroke="#4a4a4a" stroke-width="0.05">1.5</text>
<text transform="translate(140.70 457.00) rotate(0.03) scale(0.985 1)" font-size="8.58" text-anchor="middle" font-weight="normal" fill="#4a4a4a" stroke="#4a4a4a" stroke-width="0.05">2</text>
<text transform="translate(161.50 457.00) rotate(0.03) scale(0.985 1)" font-size="8.58" text-anchor="middle" font-weight="normal" fill="#4a4a4a" stroke="#4a4a4a" stroke-width="0.05">2.5</text>
<text transform="translate(182.30 457.00) rotate(0.03) scale(0.985 1)" font-size="8.58" text-anchor="middle" font-weight="normal" fill="#4a4a4a" stroke="#4a4a4a" stroke-width="0.05">3</text>
<text transform="translate(116.27 466.60) rotate(0.03) scale(0.955 1)" font-size="8.59" text-anchor="middle" font-weight="normal" fill="#4a4a4a" stroke="#4a4a4a" stroke-width="0.05">Time (s)</text>
<text transform="translate(44.80 438.13) rotate(0.03) scale(0.985 1)" font-size="8.58" text-anchor="end" font-weight="normal" fill="#4a4a4a" stroke="#4a4a4a" stroke-width="0.05">-1</text>
<text transform="translate(44.80 417.15) rotate(0.03) scale(0.985 1)" font-size="8.58" text-anchor="end" font-weight="normal" fill="#4a4a4a" stroke="#4a4a4a" stroke-width="0.05">0</text>
<text transform="translate(44.80 396.17) rotate(0.03) scale(0.985 1)" font-size="8.58" text-anchor="end" font-weight="normal" fill="#4a4a4a" stroke="#4a4a4a" stroke-width="0.05">1</text>
<text transform="translate(31.90 407.30) rotate(-89.97) scale(0.955 1)" font-size="8.59" text-anchor="middle" font-weight="normal" fill="#4a4a4a" stroke="#4a4a4a" stroke-width="0.10">Normalized burst rate</text>
<text transform="translate(118.60 377.80) rotate(0.03) scale(0.955 1)" font-size="8.53" text-anchor="middle" font-weight="bold" fill="#151515" stroke="#151515" stroke-width="0.12">Component #3 (8.7%)</text>
<path d="M204.15 380.00 V448.70" stroke="#cccccc" stroke-width="1"/>
<rect x="204.00" y="442.30" width="20.80" height="6.40" fill="#55B94B"/>
<rect x="266.40" y="442.30" width="20.80" height="6.40" fill="#60C8E4"/>
<path d="M193.6 414.2 L195.0 414.2 L196.3 414.4 L197.7 413.9 L199.0 414.1 L200.4 414.7 L201.7 415.2 M209.4 413.4 L210.8 413.5 L212.1 413.6 L213.5 413.2 L214.8 412.8 L216.2 412.6 L217.3 412.9 M225.0 413.3 L226.4 412.9 L227.7 413.0 L229.1 413.0 L230.4 413.0 L231.8 413.2 L232.9 412.9 M240.6 413.8 L242.0 413.7 L243.3 413.3 L244.7 412.9 L246.0 413.0 L247.4 413.1 L248.5 412.9 M256.2 413.0 L257.6 412.9 L258.9 412.8 L260.3 412.9 L261.6 412.5 L263.0 412.6 L264.1 412.9 M271.8 415.0 L273.2 415.1 L274.5 415.1 L275.9 414.0 L277.2 414.0 L278.6 414.4 L279.7 414.5 M287.4 413.6 L288.8 414.3 L290.1 414.1 L291.5 414.3 L292.8 414.1 L294.2 414.2 L295.3 414.6 M303.0 416.0 L304.4 416.2 L305.7 416.5 L307.1 416.6 L308.4 416.7 L309.8 416.5 L310.9 416.4 M318.6 417.5 L320.0 417.1 L321.3 418.0 L322.7 418.7 L324.0 418.8 L325.4 418.7 L326.5 419.4" fill="none" stroke="#0072BD" stroke-width="2.40" stroke-linejoin="round" stroke-linecap="butt"/>
<path d="M193.6 414.7 L195.0 415.1 L196.3 415.5 L197.7 415.3 L199.0 414.9 L200.4 414.4 L201.7 414.1 M209.4 413.5 L210.8 413.1 L212.1 413.3 L213.5 413.2 L214.8 413.5 L216.2 413.3 L217.3 413.7 M225.0 412.7 L226.4 412.7 L227.7 412.7 L229.1 413.0 L230.4 413.1 L231.8 413.6 L232.9 413.0 M240.6 412.9 L242.0 413.1 L243.3 413.0 L244.7 413.4 L246.0 413.2 L247.4 413.3 L248.5 413.2 M256.2 412.9 L257.6 412.8 L258.9 412.9 L260.3 413.3 L261.6 413.4 L263.0 414.1 L264.1 414.3 M271.8 414.6 L273.2 414.7 L274.5 414.5 L275.9 414.3 L277.2 414.7 L278.6 414.9 L279.7 414.9 M287.4 413.7 L288.8 414.4 L290.1 415.1 L291.5 415.5 L292.8 414.9 L294.2 415.0 L295.3 415.3 M303.0 415.7 L304.4 415.7 L305.7 416.1 L307.1 416.8 L308.4 416.5 L309.8 416.4 L310.9 416.8 M318.6 417.2 L320.0 417.6 L321.3 418.2 L322.7 419.1 L324.0 419.2 L325.4 419.2 L326.5 419.6" fill="none" stroke="#D95319" stroke-width="2.40" stroke-linejoin="round" stroke-linecap="butt"/>
<path d="M193.6 414.4 L195.0 414.4 L196.3 414.3 L197.7 414.4 L199.0 414.1 L200.4 414.3 L201.7 414.1 M209.4 413.2 L210.8 413.3 L212.1 413.1 L213.5 413.1 L214.8 413.3 L216.2 413.4 L217.3 413.1 M225.0 412.8 L226.4 412.7 L227.7 412.2 L229.1 412.8 L230.4 413.0 L231.8 412.7 L232.9 412.8 M240.6 413.1 L242.0 413.7 L243.3 413.9 L244.7 413.6 L246.0 413.0 L247.4 412.9 L248.5 412.5 M256.2 413.2 L257.6 413.1 L258.9 412.9 L260.3 413.5 L261.6 414.0 L263.0 413.9 L264.1 413.7 M271.8 414.5 L273.2 413.7 L274.5 413.8 L275.9 413.6 L277.2 413.6 L278.6 414.6 L279.7 414.9 M287.4 414.6 L288.8 414.2 L290.1 414.3 L291.5 413.8 L292.8 414.1 L294.2 414.4 L295.3 414.9 M303.0 415.4 L304.4 415.1 L305.7 415.4 L307.1 416.3 L308.4 417.0 L309.8 417.1 L310.9 416.7 M318.6 417.9 L320.0 417.8 L321.3 417.8 L322.7 418.5 L324.0 419.1 L325.4 418.8 L326.5 418.3" fill="none" stroke="#EDB120" stroke-width="2.40" stroke-linejoin="round" stroke-linecap="butt"/>
<path d="M193.6 414.1 L195.0 414.5 L196.3 414.6 L197.7 414.7 L199.0 414.6 L200.4 414.5 L201.7 414.5 M209.4 413.4 L210.8 413.3 L212.1 413.2 L213.5 413.1 L214.8 413.1 L216.2 413.1 L217.3 413.2 M225.0 412.9 L226.4 413.0 L227.7 413.0 L229.1 412.8 L230.4 412.8 L231.8 412.9 L232.9 412.9 M240.6 413.0 L242.0 412.9 L243.3 413.0 L244.7 412.8 L246.0 412.9 L247.4 413.0 L248.5 413.4 M256.2 413.0 L257.6 413.0 L258.9 413.1 L260.3 413.1 L261.6 413.1 L263.0 413.2 L264.1 413.2 M271.8 414.1 L273.2 414.0 L274.5 414.1 L275.9 414.3 L277.2 414.3 L278.6 414.4 L279.7 414.6 M287.4 414.6 L288.8 414.3 L290.1 414.3 L291.5 414.4 L292.8 414.4 L294.2 414.3 L295.3 414.6 M303.0 415.8 L304.4 416.4 L305.7 416.5 L307.1 416.5 L308.4 416.5 L309.8 416.8 L310.9 417.0 M318.6 417.9 L320.0 418.3 L321.3 418.7 L322.7 419.0 L324.0 419.1 L325.4 419.0 L326.5 419.0" fill="none" stroke="#7B2D90" stroke-width="2.40" stroke-linejoin="round" stroke-linecap="butt"/>
<path d="M193.6 415.4 L194.5 415.7 L195.3 415.4 L196.2 415.3 L197.0 415.6 L197.9 415.3 L198.7 414.8 L199.6 414.8 L200.4 414.9 L201.3 415.0 L202.1 414.9 L203.0 414.9 L203.8 414.8 L204.7 415.3 L205.5 415.9 L206.4 416.2 L207.2 416.3 L208.1 416.6 L208.9 416.8 L209.8 416.5 L210.6 416.8 L211.5 416.7 L212.3 416.3 L213.2 416.2 L214.0 415.7 L214.9 416.0 L215.7 416.5 L216.6 416.3 L217.4 416.5 L218.3 416.1 L219.1 415.8 L220.0 416.6 L220.9 416.1 L221.7 416.0 L222.6 416.1 L223.4 416.0 L224.3 416.3 L225.1 416.5 L226.0 416.1 L226.8 416.1 L227.7 416.1 L228.5 415.9 L229.4 416.7 L230.2 416.3 L231.1 416.2 L231.9 416.1 L232.8 415.2 L233.6 415.3 L234.5 415.7 L235.3 415.5 L236.2 415.9 L237.0 416.2 L237.9 415.1 L238.7 414.8 L239.6 414.6 L240.4 414.7 L241.3 415.5 L242.1 415.9 L243.0 415.6 L243.8 415.3 L244.7 415.2 L245.5 415.5 L246.4 416.2 L247.2 416.3 L248.1 415.7 L249.0 415.4 L249.8 415.3 L250.7 415.2 L251.5 416.2 L252.4 416.0 L253.2 415.3 L254.1 415.6 L254.9 415.0 L255.8 414.9 L256.6 415.2 L257.5 414.6 L258.3 414.6 L259.2 414.5 L260.0 414.4 L260.9 414.8 L261.7 414.5 L262.6 414.7 L263.4 414.9 L264.3 414.4 L265.1 414.3 L266.0 414.3 L266.8 414.4 L267.7 414.4 L268.5 414.7 L269.4 414.5 L270.2 414.3 L271.1 414.6 L271.9 414.8 L272.8 415.2 L273.6 415.5 L274.5 415.4 L275.4 416.0 L276.2 416.1 L277.1 416.5 L277.9 416.6 L278.8 416.7 L279.6 416.5 L280.5 416.0 L281.3 416.1 L282.2 415.2 L283.0 415.5 L283.9 415.7 L284.7 415.5 L285.6 415.8 L286.4 415.9 L287.3 415.6 L288.1 415.7 L289.0 415.8 L289.8 415.4 L290.7 415.0 L291.5 414.9 L292.4 414.2 L293.2 413.9 L294.1 414.1 L294.9 414.0 L295.8 414.2 L296.6 413.7 L297.5 413.6 L298.3 413.7 L299.2 413.5 L300.0 413.6 L300.9 413.7 L301.7 413.1 L302.6 413.2 L303.5 412.9 L304.3 412.2 L305.2 412.0 L306.0 411.9 L306.9 412.3 L307.7 412.0 L308.6 412.2 L309.4 412.0 L310.3 411.1 L311.1 411.2 L312.0 410.6 L312.8 410.6 L313.7 410.7 L314.5 410.2 L315.4 410.0 L316.2 409.6 L317.1 409.5 L317.9 410.2 L318.8 410.5 L319.6 410.4 L320.5 410.4 L321.3 410.2 L322.2 409.9 L323.0 409.5 L323.9 409.5 L324.7 409.5 L325.6 409.5 L326.4 410.0 L327.3 409.7 L328.1 409.5 L329.0 409.7" fill="none" stroke="#0072BD" stroke-width="2.40" stroke-linejoin="round" stroke-linecap="butt"/>
<path d="M193.6 415.3 L194.5 415.5 L195.3 415.8 L196.2 415.5 L197.0 415.5 L197.9 415.7 L198.7 415.6 L199.6 415.6 L200.4 416.0 L201.3 415.7 L202.1 415.7 L203.0 416.0 L203.8 415.5 L204.7 415.7 L205.5 415.5 L206.4 415.4 L207.2 415.7 L208.1 415.6 L208.9 415.6 L209.8 415.6 L210.6 415.6 L211.5 415.9 L212.3 416.1 L213.2 416.1 L214.0 416.6 L214.9 416.5 L215.7 416.4 L216.6 416.4 L217.4 416.0 L218.3 416.3 L219.1 416.3 L220.0 416.3 L220.9 416.2 L221.7 416.0 L222.6 416.4 L223.4 416.6 L224.3 416.9 L225.1 416.5 L226.0 416.3 L226.8 415.8 L227.7 415.7 L228.5 415.4 L229.4 414.9 L230.2 415.1 L231.1 414.9 L231.9 415.5 L232.8 415.7 L233.6 416.0 L234.5 415.7 L235.3 415.6 L236.2 415.9 L237.0 415.4 L237.9 415.6 L238.7 415.5 L239.6 415.5 L240.4 415.3 L241.3 415.8 L242.1 416.3 L243.0 416.0 L243.8 416.5 L244.7 416.6 L245.5 416.1 L246.4 416.6 L247.2 416.5 L248.1 416.3 L249.0 416.5 L249.8 416.0 L250.7 415.5 L251.5 415.3 L252.4 415.0 L253.2 415.6 L254.1 415.3 L254.9 415.6 L255.8 415.4 L256.6 415.1 L257.5 415.8 L258.3 415.4 L259.2 415.6 L260.0 415.6 L260.9 415.1 L261.7 414.9 L262.6 414.6 L263.4 414.4 L264.3 414.3 L265.1 414.3 L266.0 414.6 L266.8 414.4 L267.7 414.2 L268.5 414.1 L269.4 413.7 L270.2 414.1 L271.1 414.4 L271.9 414.9 L272.8 415.1 L273.6 415.0 L274.5 415.4 L275.4 415.5 L276.2 415.7 L277.1 416.0 L277.9 415.5 L278.8 415.4 L279.6 415.2 L280.5 415.2 L281.3 415.6 L282.2 415.9 L283.0 416.3 L283.9 415.9 L284.7 415.7 L285.6 415.8 L286.4 415.7 L287.3 416.3 L288.1 416.4 L289.0 416.5 L289.8 416.1 L290.7 415.3 L291.5 414.8 L292.4 414.0 L293.2 414.0 L294.1 414.1 L294.9 414.5 L295.8 414.6 L296.6 414.6 L297.5 414.9 L298.3 414.7 L299.2 414.0 L300.0 413.8 L300.9 413.5 L301.7 413.5 L302.6 413.9 L303.5 413.6 L304.3 413.3 L305.2 413.1 L306.0 413.1 L306.9 412.4 L307.7 412.1 L308.6 411.9 L309.4 411.1 L310.3 411.5 L311.1 411.6 L312.0 411.5 L312.8 411.7 L313.7 411.4 L314.5 411.0 L315.4 410.8 L316.2 410.6 L317.1 410.5 L317.9 410.6 L318.8 410.3 L319.6 410.2 L320.5 410.1 L321.3 409.7 L322.2 409.7 L323.0 409.7 L323.9 409.4 L324.7 409.5 L325.6 409.4 L326.4 408.9 L327.3 409.0 L328.1 408.8 L329.0 408.4" fill="none" stroke="#D95319" stroke-width="2.40" stroke-linejoin="round" stroke-linecap="butt"/>
<path d="M193.6 415.7 L194.5 415.6 L195.3 416.1 L196.2 415.7 L197.0 415.5 L197.9 415.5 L198.7 415.6 L199.6 415.6 L200.4 415.5 L201.3 415.4 L202.1 415.2 L203.0 414.9 L203.8 415.4 L204.7 415.3 L205.5 415.3 L206.4 415.6 L207.2 415.5 L208.1 415.9 L208.9 415.8 L209.8 415.8 L210.6 416.3 L211.5 416.5 L212.3 417.4 L213.2 417.0 L214.0 416.7 L214.9 416.5 L215.7 416.2 L216.6 416.9 L217.4 416.6 L218.3 416.7 L219.1 416.3 L220.0 415.9 L220.9 416.0 L221.7 415.9 L222.6 415.6 L223.4 416.0 L224.3 415.7 L225.1 415.7 L226.0 416.3 L226.8 416.0 L227.7 416.6 L228.5 416.4 L229.4 416.2 L230.2 416.1 L231.1 416.0 L231.9 415.8 L232.8 415.7 L233.6 416.0 L234.5 416.3 L235.3 416.9 L236.2 416.6 L237.0 416.2 L237.9 415.8 L238.7 415.3 L239.6 415.4 L240.4 415.7 L241.3 415.4 L242.1 415.5 L243.0 416.0 L243.8 415.4 L244.7 414.9 L245.5 415.3 L246.4 414.6 L247.2 414.8 L248.1 415.0 L249.0 414.7 L249.8 414.8 L250.7 414.9 L251.5 415.4 L252.4 415.6 L253.2 415.7 L254.1 415.5 L254.9 415.5 L255.8 414.7 L256.6 414.2 L257.5 414.3 L258.3 413.9 L259.2 414.6 L260.0 415.3 L260.9 414.8 L261.7 414.6 L262.6 413.8 L263.4 413.7 L264.3 413.8 L265.1 413.8 L266.0 414.2 L266.8 414.3 L267.7 414.7 L268.5 414.6 L269.4 414.8 L270.2 414.8 L271.1 414.4 L271.9 414.6 L272.8 415.2 L273.6 415.4 L274.5 416.0 L275.4 416.3 L276.2 415.9 L277.1 415.6 L277.9 415.1 L278.8 415.6 L279.6 415.6 L280.5 415.6 L281.3 416.2 L282.2 415.5 L283.0 415.9 L283.9 416.2 L284.7 416.0 L285.6 415.8 L286.4 415.4 L287.3 415.6 L288.1 415.6 L289.0 415.8 L289.8 415.7 L290.7 415.2 L291.5 415.1 L292.4 415.2 L293.2 414.9 L294.1 415.1 L294.9 415.1 L295.8 414.8 L296.6 414.8 L297.5 414.4 L298.3 414.0 L299.2 413.6 L300.0 413.2 L300.9 412.9 L301.7 413.2 L302.6 413.0 L303.5 412.8 L304.3 412.7 L305.2 412.3 L306.0 412.3 L306.9 412.1 L307.7 411.6 L308.6 411.1 L309.4 411.1 L310.3 411.2 L311.1 411.5 L312.0 411.6 L312.8 411.5 L313.7 411.3 L314.5 410.6 L315.4 410.7 L316.2 410.7 L317.1 410.7 L317.9 410.5 L318.8 409.8 L319.6 409.8 L320.5 410.0 L321.3 410.4 L322.2 410.6 L323.0 409.9 L323.9 409.6 L324.7 409.6 L325.6 409.3 L326.4 409.0 L327.3 409.0 L328.1 408.7 L329.0 408.9" fill="none" stroke="#EDB120" stroke-width="2.40" stroke-linejoin="round" stroke-linecap="butt"/>
<path d="M193.6 414.8 L194.5 415.0 L195.3 414.9 L196.2 414.9 L197.0 415.0 L197.9 414.8 L198.7 414.9 L199.6 415.1 L200.4 415.1 L201.3 415.3 L202.1 415.2 L203.0 415.2 L203.8 415.4 L204.7 415.6 L205.5 416.0 L206.4 416.0 L207.2 416.2 L208.1 416.0 L208.9 415.7 L209.8 415.7 L210.6 415.7 L211.5 415.9 L212.3 416.0 L213.2 416.0 L214.0 416.0 L214.9 416.1 L215.7 416.1 L216.6 416.3 L217.4 416.4 L218.3 416.5 L219.1 416.5 L220.0 416.3 L220.9 416.2 L221.7 416.0 L222.6 416.0 L223.4 416.2 L224.3 416.4 L225.1 416.3 L226.0 416.2 L226.8 416.2 L227.7 416.1 L228.5 416.4 L229.4 416.4 L230.2 416.3 L231.1 416.1 L231.9 415.8 L232.8 415.9 L233.6 415.9 L234.5 416.1 L235.3 416.0 L236.2 415.9 L237.0 415.7 L237.9 415.7 L238.7 415.8 L239.6 415.7 L240.4 415.6 L241.3 415.6 L242.1 415.6 L243.0 415.7 L243.8 415.7 L244.7 415.6 L245.5 415.6 L246.4 415.5 L247.2 415.6 L248.1 415.6 L249.0 415.7 L249.8 415.8 L250.7 415.6 L251.5 415.6 L252.4 415.6 L253.2 415.6 L254.1 415.6 L254.9 415.7 L255.8 415.4 L256.6 415.2 L257.5 415.0 L258.3 415.0 L259.2 415.1 L260.0 415.0 L260.9 414.7 L261.7 414.4 L262.6 414.3 L263.4 414.2 L264.3 414.4 L265.1 414.3 L266.0 414.2 L266.8 414.2 L267.7 414.5 L268.5 414.7 L269.4 414.8 L270.2 414.9 L271.1 414.8 L271.9 414.8 L272.8 414.9 L273.6 415.1 L274.5 415.2 L275.4 415.5 L276.2 415.5 L277.1 415.5 L277.9 415.7 L278.8 415.5 L279.6 415.6 L280.5 415.7 L281.3 415.6 L282.2 415.8 L283.0 415.9 L283.9 415.8 L284.7 415.8 L285.6 415.6 L286.4 415.6 L287.3 415.4 L288.1 415.3 L289.0 415.3 L289.8 415.2 L290.7 415.3 L291.5 415.1 L292.4 415.1 L293.2 414.9 L294.1 414.8 L294.9 414.8 L295.8 414.5 L296.6 414.6 L297.5 414.2 L298.3 414.0 L299.2 413.8 L300.0 413.7 L300.9 413.7 L301.7 413.6 L302.6 413.2 L303.5 413.2 L304.3 412.8 L305.2 412.6 L306.0 412.6 L306.9 412.4 L307.7 412.4 L308.6 412.3 L309.4 411.9 L310.3 411.5 L311.1 411.1 L312.0 410.8 L312.8 410.9 L313.7 410.9 L314.5 410.8 L315.4 410.7 L316.2 410.5 L317.1 410.3 L317.9 410.1 L318.8 410.2 L319.6 410.1 L320.5 410.2 L321.3 410.3 L322.2 410.2 L323.0 410.1 L323.9 409.9 L324.7 409.8 L325.6 409.4 L326.4 409.4 L327.3 409.4 L328.1 409.3 L329.0 409.4" fill="none" stroke="#7B2D90" stroke-width="2.40" stroke-linejoin="round" stroke-linecap="butt"/>
<path d="M193.60 380.00 V449.05 H328.80 M204.00 449.05 v-2.1 M224.80 449.05 v-2.1 M245.60 449.05 v-2.1 M266.40 449.05 v-2.1 M287.20 449.05 v-2.1 M308.00 449.05 v-2.1 M328.80 449.05 v-2.1 M193.60 435.18 h1.9 M193.60 414.55 h1.9 M193.60 393.92 h1.9" fill="none" stroke="#555" stroke-width="0.7"/>
<text transform="translate(204.30 457.00) rotate(0.03) scale(0.985 1)" font-size="8.58" text-anchor="middle" font-weight="normal" fill="#4a4a4a" stroke="#4a4a4a" stroke-width="0.05">0</text>
<text transform="translate(225.10 457.00) rotate(0.03) scale(0.985 1)" font-size="8.58" text-anchor="middle" font-weight="normal" fill="#4a4a4a" stroke="#4a4a4a" stroke-width="0.05">0.5</text>
<text transform="translate(245.90 457.00) rotate(0.03) scale(0.985 1)" font-size="8.58" text-anchor="middle" font-weight="normal" fill="#4a4a4a" stroke="#4a4a4a" stroke-width="0.05">1</text>
<text transform="translate(266.70 457.00) rotate(0.03) scale(0.985 1)" font-size="8.58" text-anchor="middle" font-weight="normal" fill="#4a4a4a" stroke="#4a4a4a" stroke-width="0.05">1.5</text>
<text transform="translate(287.50 457.00) rotate(0.03) scale(0.985 1)" font-size="8.58" text-anchor="middle" font-weight="normal" fill="#4a4a4a" stroke="#4a4a4a" stroke-width="0.05">2</text>
<text transform="translate(308.30 457.00) rotate(0.03) scale(0.985 1)" font-size="8.58" text-anchor="middle" font-weight="normal" fill="#4a4a4a" stroke="#4a4a4a" stroke-width="0.05">2.5</text>
<text transform="translate(329.10 457.00) rotate(0.03) scale(0.985 1)" font-size="8.58" text-anchor="middle" font-weight="normal" fill="#4a4a4a" stroke="#4a4a4a" stroke-width="0.05">3</text>
<text transform="translate(263.07 466.60) rotate(0.03) scale(0.955 1)" font-size="8.59" text-anchor="middle" font-weight="normal" fill="#4a4a4a" stroke="#4a4a4a" stroke-width="0.05">Time (s)</text>
<text transform="translate(263.00 377.80) rotate(0.03) scale(0.955 1)" font-size="8.53" text-anchor="middle" font-weight="bold" fill="#151515" stroke="#151515" stroke-width="0.12">Component #11 (1.1%)</text>
<path d="M385.15 379.20 V448.25" stroke="#b4b4b4" stroke-width="0.6"/>
<rect x="385.00" y="441.85" width="20.80" height="6.40" fill="#55B94B"/>
<rect x="447.40" y="441.85" width="20.80" height="6.40" fill="#60C8E4"/>
<path d="M374.6 418.8 L376.0 418.9 L377.3 419.0 L378.7 419.0 L380.0 419.1 L381.4 419.2 L382.7 419.2 M390.4 419.2 L391.8 419.1 L393.1 419.0 L394.5 418.8 L395.8 418.7 L397.2 418.6 L398.3 418.6 M406.0 418.8 L407.4 418.9 L408.7 419.1 L410.1 419.3 L411.4 419.4 L412.8 419.6 L413.9 419.8 M421.6 420.8 L423.0 420.9 L424.3 420.9 L425.7 421.0 L427.0 421.0 L428.4 420.9 L429.5 420.8 M437.2 420.2 L438.6 420.2 L439.9 420.4 L441.3 420.6 L442.6 420.8 L444.0 421.0 L445.1 421.1 M452.8 420.5 L454.2 420.2 L455.5 419.8 L456.9 419.4 L458.2 419.1 L459.6 418.7 L460.7 418.5 M468.4 417.8 L469.8 417.8 L471.1 417.9 L472.5 418.0 L473.8 418.1 L475.2 418.3 L476.3 418.5 M484.0 420.3 L485.4 420.7 L486.7 420.9 L488.1 421.2 L489.4 421.4 L490.8 421.5 L491.9 421.6 M499.6 422.1 L501.0 422.2 L502.3 422.2 L503.7 422.2 L505.0 422.2 L506.4 422.2 L507.5 422.2" fill="none" stroke="#D95319" stroke-width="2.40" stroke-linejoin="round" stroke-linecap="butt"/>
<path d="M374.6 418.6 L376.0 418.7 L377.3 418.8 L378.7 418.8 L380.0 418.9 L381.4 419.0 L382.7 419.0 M390.4 419.0 L391.8 418.9 L393.1 418.8 L394.5 418.6 L395.8 418.5 L397.2 418.4 L398.3 418.4 M406.0 418.6 L407.4 418.7 L408.7 418.9 L410.1 419.1 L411.4 419.2 L412.8 419.4 L413.9 419.6 M421.6 420.6 L423.0 420.7 L424.3 420.7 L425.7 420.8 L427.0 420.8 L428.4 420.7 L429.5 420.6 M437.2 420.0 L438.6 420.0 L439.9 420.2 L441.3 420.4 L442.6 420.6 L444.0 420.8 L445.1 420.9 M452.8 420.3 L454.2 420.0 L455.5 419.6 L456.9 419.2 L458.2 418.9 L459.6 418.5 L460.7 418.3 M468.4 417.6 L469.8 417.6 L471.1 417.7 L472.5 417.8 L473.8 417.9 L475.2 418.1 L476.3 418.3 M484.0 420.1 L485.4 420.5 L486.7 420.7 L488.1 421.0 L489.4 421.2 L490.8 421.3 L491.9 421.4 M499.6 421.9 L501.0 422.0 L502.3 422.0 L503.7 422.0 L505.0 422.0 L506.4 422.0 L507.5 422.0" fill="none" stroke="#7B2D90" stroke-width="2.40" stroke-linejoin="round" stroke-linecap="butt"/>
<path d="M374.6 409.6 L375.5 409.5 L376.3 409.3 L377.2 409.2 L378.0 409.1 L378.9 408.9 L379.7 408.8 L380.6 408.7 L381.4 408.7 L382.3 408.6 L383.1 408.6 L384.0 408.5 L384.8 408.5 L385.7 408.6 L386.5 408.6 L387.4 408.7 L388.2 408.9 L389.1 409.0 L389.9 409.1 L390.8 409.3 L391.6 409.4 L392.5 409.5 L393.3 409.6 L394.2 409.6 L395.0 409.6 L395.9 409.6 L396.7 409.5 L397.6 409.5 L398.4 409.4 L399.3 409.3 L400.1 409.3 L401.0 409.2 L401.9 409.2 L402.7 409.2 L403.6 409.2 L404.4 409.3 L405.3 409.3 L406.1 409.3 L407.0 409.4 L407.8 409.4 L408.7 409.3 L409.5 409.3 L410.4 409.1 L411.2 409.0 L412.1 408.8 L412.9 408.5 L413.8 408.3 L414.6 408.0 L415.5 407.8 L416.3 407.6 L417.2 407.4 L418.0 407.2 L418.9 407.1 L419.7 407.0 L420.6 406.9 L421.4 406.9 L422.3 407.0 L423.1 407.0 L424.0 407.0 L424.8 407.1 L425.7 407.2 L426.5 407.2 L427.4 407.3 L428.2 407.4 L429.1 407.4 L430.0 407.5 L430.8 407.6 L431.7 407.6 L432.5 407.7 L433.4 407.8 L434.2 407.8 L435.1 407.9 L435.9 407.9 L436.8 408.0 L437.6 408.0 L438.5 408.0 L439.3 407.9 L440.2 407.9 L441.0 407.8 L441.9 407.6 L442.7 407.4 L443.6 407.2 L444.4 407.0 L445.3 406.8 L446.1 406.7 L447.0 406.6 L447.8 406.6 L448.7 406.8 L449.5 407.0 L450.4 407.2 L451.2 407.5 L452.1 407.8 L452.9 408.1 L453.8 408.4 L454.6 408.7 L455.5 409.0 L456.4 409.2 L457.2 409.4 L458.1 409.6 L458.9 409.8 L459.8 409.9 L460.6 410.0 L461.5 410.1 L462.3 410.1 L463.2 410.2 L464.0 410.2 L464.9 410.2 L465.7 410.2 L466.6 410.2 L467.4 410.2 L468.3 410.2 L469.1 410.2 L470.0 410.1 L470.8 410.1 L471.7 410.0 L472.5 410.0 L473.4 409.9 L474.2 409.8 L475.1 409.6 L475.9 409.5 L476.8 409.3 L477.6 409.2 L478.5 409.0 L479.3 408.8 L480.2 408.6 L481.0 408.4 L481.9 408.2 L482.7 408.0 L483.6 407.8 L484.5 407.6 L485.3 407.5 L486.2 407.3 L487.0 407.1 L487.9 407.0 L488.7 406.8 L489.6 406.7 L490.4 406.5 L491.3 406.4 L492.1 406.3 L493.0 406.2 L493.8 406.1 L494.7 406.1 L495.5 406.0 L496.4 405.9 L497.2 405.9 L498.1 405.8 L498.9 405.7 L499.8 405.7 L500.6 405.6 L501.5 405.6 L502.3 405.6 L503.2 405.6 L504.0 405.6 L504.9 405.6 L505.7 405.7 L506.6 405.8 L507.4 405.9 L508.3 406.0 L509.1 406.1 L510.0 406.2" fill="none" stroke="#D95319" stroke-width="2.40" stroke-linejoin="round" stroke-linecap="butt"/>
<path d="M374.6 409.4 L375.5 409.3 L376.3 409.1 L377.2 409.0 L378.0 408.9 L378.9 408.7 L379.7 408.6 L380.6 408.5 L381.4 408.5 L382.3 408.4 L383.1 408.4 L384.0 408.3 L384.8 408.3 L385.7 408.4 L386.5 408.4 L387.4 408.5 L388.2 408.7 L389.1 408.8 L389.9 408.9 L390.8 409.1 L391.6 409.2 L392.5 409.3 L393.3 409.4 L394.2 409.4 L395.0 409.4 L395.9 409.4 L396.7 409.3 L397.6 409.3 L398.4 409.2 L399.3 409.1 L400.1 409.1 L401.0 409.0 L401.9 409.0 L402.7 409.0 L403.6 409.0 L404.4 409.1 L405.3 409.1 L406.1 409.1 L407.0 409.2 L407.8 409.2 L408.7 409.1 L409.5 409.1 L410.4 408.9 L411.2 408.8 L412.1 408.6 L412.9 408.3 L413.8 408.1 L414.6 407.8 L415.5 407.6 L416.3 407.4 L417.2 407.2 L418.0 407.0 L418.9 406.9 L419.7 406.8 L420.6 406.7 L421.4 406.7 L422.3 406.8 L423.1 406.8 L424.0 406.8 L424.8 406.9 L425.7 407.0 L426.5 407.0 L427.4 407.1 L428.2 407.2 L429.1 407.2 L430.0 407.3 L430.8 407.4 L431.7 407.4 L432.5 407.5 L433.4 407.6 L434.2 407.6 L435.1 407.7 L435.9 407.7 L436.8 407.8 L437.6 407.8 L438.5 407.8 L439.3 407.7 L440.2 407.7 L441.0 407.6 L441.9 407.4 L442.7 407.2 L443.6 407.0 L444.4 406.8 L445.3 406.6 L446.1 406.5 L447.0 406.4 L447.8 406.4 L448.7 406.6 L449.5 406.8 L450.4 407.0 L451.2 407.3 L452.1 407.6 L452.9 407.9 L453.8 408.2 L454.6 408.5 L455.5 408.8 L456.4 409.0 L457.2 409.2 L458.1 409.4 L458.9 409.6 L459.8 409.7 L460.6 409.8 L461.5 409.9 L462.3 409.9 L463.2 410.0 L464.0 410.0 L464.9 410.0 L465.7 410.0 L466.6 410.0 L467.4 410.0 L468.3 410.0 L469.1 410.0 L470.0 409.9 L470.8 409.9 L471.7 409.8 L472.5 409.8 L473.4 409.7 L474.2 409.6 L475.1 409.4 L475.9 409.3 L476.8 409.1 L477.6 409.0 L478.5 408.8 L479.3 408.6 L480.2 408.4 L481.0 408.2 L481.9 408.0 L482.7 407.8 L483.6 407.6 L484.5 407.4 L485.3 407.3 L486.2 407.1 L487.0 406.9 L487.9 406.8 L488.7 406.6 L489.6 406.5 L490.4 406.3 L491.3 406.2 L492.1 406.1 L493.0 406.0 L493.8 405.9 L494.7 405.9 L495.5 405.8 L496.4 405.7 L497.2 405.7 L498.1 405.6 L498.9 405.5 L499.8 405.5 L500.6 405.4 L501.5 405.4 L502.3 405.4 L503.2 405.4 L504.0 405.4 L504.9 405.4 L505.7 405.5 L506.6 405.6 L507.4 405.7 L508.3 405.8 L509.1 405.9 L510.0 406.0" fill="none" stroke="#7B2D90" stroke-width="2.40" stroke-linejoin="round" stroke-linecap="butt"/>
<path d="M374.60 379.20 V448.60 H509.80 M385.00 448.60 v-2.1 M405.80 448.60 v-2.1 M426.60 448.60 v-2.1 M447.40 448.60 v-2.1 M468.20 448.60 v-2.1 M489.00 448.60 v-2.1 M509.80 448.60 v-2.1 M374.60 434.66 h1.9 M374.60 413.93 h1.9 M374.60 393.19 h1.9" fill="none" stroke="#555" stroke-width="0.7"/>
<text transform="translate(385.30 455.85) rotate(0.03) scale(0.985 1)" font-size="8.58" text-anchor="middle" font-weight="normal" fill="#4a4a4a" stroke="#4a4a4a" stroke-width="0.05">0</text>
<text transform="translate(406.10 455.85) rotate(0.03) scale(0.985 1)" font-size="8.58" text-anchor="middle" font-weight="normal" fill="#4a4a4a" stroke="#4a4a4a" stroke-width="0.05">0.5</text>
<text transform="translate(426.90 455.85) rotate(0.03) scale(0.985 1)" font-size="8.58" text-anchor="middle" font-weight="normal" fill="#4a4a4a" stroke="#4a4a4a" stroke-width="0.05">1</text>
<text transform="translate(447.70 455.85) rotate(0.03) scale(0.985 1)" font-size="8.58" text-anchor="middle" font-weight="normal" fill="#4a4a4a" stroke="#4a4a4a" stroke-width="0.05">1.5</text>
<text transform="translate(468.50 455.85) rotate(0.03) scale(0.985 1)" font-size="8.58" text-anchor="middle" font-weight="normal" fill="#4a4a4a" stroke="#4a4a4a" stroke-width="0.05">2</text>
<text transform="translate(489.30 455.85) rotate(0.03) scale(0.985 1)" font-size="8.58" text-anchor="middle" font-weight="normal" fill="#4a4a4a" stroke="#4a4a4a" stroke-width="0.05">2.5</text>
<text transform="translate(510.10 455.85) rotate(0.03) scale(0.985 1)" font-size="8.58" text-anchor="middle" font-weight="normal" fill="#4a4a4a" stroke="#4a4a4a" stroke-width="0.05">3</text>
<text transform="translate(444.07 465.85) rotate(0.03) scale(0.955 1)" font-size="8.59" text-anchor="middle" font-weight="normal" fill="#4a4a4a" stroke="#4a4a4a" stroke-width="0.05">Time (s)</text>
<text transform="translate(370.80 437.61) rotate(0.03) scale(0.985 1)" font-size="8.58" text-anchor="end" font-weight="normal" fill="#4a4a4a" stroke="#4a4a4a" stroke-width="0.05">-1</text>
<text transform="translate(370.80 416.53) rotate(0.03) scale(0.985 1)" font-size="8.58" text-anchor="end" font-weight="normal" fill="#4a4a4a" stroke="#4a4a4a" stroke-width="0.05">0</text>
<text transform="translate(370.80 395.44) rotate(0.03) scale(0.985 1)" font-size="8.58" text-anchor="end" font-weight="normal" fill="#4a4a4a" stroke="#4a4a4a" stroke-width="0.05">1</text>
<text transform="translate(359.20 410.50) rotate(-89.97) scale(0.955 1)" font-size="8.59" text-anchor="middle" font-weight="normal" fill="#4a4a4a" stroke="#4a4a4a" stroke-width="0.10">Normalized firing rate (1/s)</text>
<text transform="translate(446.40 377.10) rotate(0.03) scale(0.955 1)" font-size="8.53" text-anchor="middle" font-weight="bold" fill="#151515" stroke="#151515" stroke-width="0.12">Component #5 (7.4%)</text>
<path d="M531.75 379.20 V448.25" stroke="#b4b4b4" stroke-width="0.6"/>
<rect x="531.60" y="441.85" width="20.80" height="6.40" fill="#55B94B"/>
<rect x="594.00" y="441.85" width="20.80" height="6.40" fill="#60C8E4"/>
<path d="M521.6 411.6 L523.0 411.4 L524.3 411.2 L525.7 411.0 L527.0 410.9 L528.4 410.8 L529.7 410.8 M537.4 411.2 L538.8 411.3 L540.1 411.4 L541.5 411.5 L542.8 411.5 L544.2 411.6 L545.3 411.6 M553.0 411.4 L554.4 411.3 L555.7 411.3 L557.1 411.2 L558.4 411.1 L559.8 411.1 L560.9 411.0 M568.6 410.8 L570.0 410.8 L571.3 410.8 L572.7 410.7 L574.0 410.7 L575.4 410.7 L576.5 410.7 M584.2 410.5 L585.6 410.5 L586.9 410.5 L588.3 410.5 L589.6 410.5 L591.0 410.6 L592.1 410.7 M599.8 412.5 L601.2 413.0 L602.5 413.5 L603.9 413.8 L605.2 414.2 L606.6 414.4 L607.7 414.6 M615.4 415.6 L616.8 415.8 L618.1 415.9 L619.5 416.0 L620.8 416.2 L622.2 416.3 L623.3 416.4 M631.0 416.8 L632.4 416.9 L633.7 417.0 L635.1 417.1 L636.4 417.2 L637.8 417.3 L638.9 417.3 M646.6 418.1 L648.0 418.4 L649.3 418.6 L650.7 418.8 L652.0 419.1 L653.4 419.4 L654.5 419.6" fill="none" stroke="#D95319" stroke-width="2.40" stroke-linejoin="round" stroke-linecap="butt"/>
<path d="M521.6 411.4 L523.0 411.2 L524.3 411.0 L525.7 410.8 L527.0 410.7 L528.4 410.6 L529.7 410.6 M537.4 411.0 L538.8 411.1 L540.1 411.2 L541.5 411.3 L542.8 411.3 L544.2 411.4 L545.3 411.4 M553.0 411.2 L554.4 411.1 L555.7 411.1 L557.1 411.0 L558.4 410.9 L559.8 410.9 L560.9 410.8 M568.6 410.6 L570.0 410.6 L571.3 410.6 L572.7 410.5 L574.0 410.5 L575.4 410.5 L576.5 410.5 M584.2 410.3 L585.6 410.3 L586.9 410.3 L588.3 410.3 L589.6 410.3 L591.0 410.4 L592.1 410.5 M599.8 412.3 L601.2 412.8 L602.5 413.3 L603.9 413.6 L605.2 414.0 L606.6 414.2 L607.7 414.4 M615.4 415.4 L616.8 415.6 L618.1 415.7 L619.5 415.8 L620.8 416.0 L622.2 416.1 L623.3 416.2 M631.0 416.6 L632.4 416.7 L633.7 416.8 L635.1 416.9 L636.4 417.0 L637.8 417.1 L638.9 417.1 M646.6 417.9 L648.0 418.2 L649.3 418.4 L650.7 418.6 L652.0 418.9 L653.4 419.2 L654.5 419.4" fill="none" stroke="#7B2D90" stroke-width="2.40" stroke-linejoin="round" stroke-linecap="butt"/>
<path d="M521.6 414.8 L522.5 415.1 L523.3 415.3 L524.2 415.5 L525.0 415.8 L525.9 416.0 L526.7 416.1 L527.6 416.3 L528.4 416.4 L529.3 416.5 L530.1 416.6 L531.0 416.6 L531.8 416.6 L532.7 416.6 L533.5 416.6 L534.4 416.5 L535.2 416.4 L536.1 416.4 L536.9 416.3 L537.8 416.2 L538.6 416.1 L539.5 416.0 L540.3 415.9 L541.2 415.8 L542.0 415.7 L542.9 415.7 L543.7 415.6 L544.6 415.6 L545.4 415.6 L546.3 415.5 L547.1 415.5 L548.0 415.5 L548.9 415.5 L549.7 415.5 L550.6 415.6 L551.4 415.6 L552.3 415.6 L553.1 415.6 L554.0 415.6 L554.8 415.6 L555.7 415.6 L556.5 415.7 L557.4 415.7 L558.2 415.7 L559.1 415.7 L559.9 415.7 L560.8 415.7 L561.6 415.7 L562.5 415.7 L563.3 415.8 L564.2 415.8 L565.0 415.8 L565.9 415.8 L566.7 415.9 L567.6 415.9 L568.4 415.9 L569.3 415.9 L570.1 416.0 L571.0 416.0 L571.8 416.0 L572.7 416.1 L573.5 416.1 L574.4 416.1 L575.2 416.1 L576.1 416.2 L577.0 416.2 L577.8 416.2 L578.7 416.2 L579.5 416.3 L580.4 416.3 L581.2 416.3 L582.1 416.3 L582.9 416.3 L583.8 416.3 L584.6 416.4 L585.5 416.4 L586.3 416.4 L587.2 416.4 L588.0 416.4 L588.9 416.4 L589.7 416.4 L590.6 416.4 L591.4 416.4 L592.3 416.3 L593.1 416.2 L594.0 416.0 L594.8 415.8 L595.7 415.6 L596.5 415.3 L597.4 415.0 L598.2 414.7 L599.1 414.3 L599.9 414.0 L600.8 413.7 L601.6 413.4 L602.5 413.1 L603.4 412.9 L604.2 412.7 L605.1 412.5 L605.9 412.4 L606.8 412.2 L607.6 412.1 L608.5 412.0 L609.3 411.9 L610.2 411.7 L611.0 411.6 L611.9 411.5 L612.7 411.4 L613.6 411.3 L614.4 411.3 L615.3 411.2 L616.1 411.1 L617.0 411.0 L617.8 410.9 L618.7 410.9 L619.5 410.8 L620.4 410.7 L621.2 410.7 L622.1 410.6 L622.9 410.5 L623.8 410.5 L624.6 410.4 L625.5 410.4 L626.3 410.3 L627.2 410.2 L628.0 410.2 L628.9 410.1 L629.7 410.1 L630.6 410.0 L631.5 409.9 L632.3 409.9 L633.2 409.8 L634.0 409.8 L634.9 409.7 L635.7 409.7 L636.6 409.6 L637.4 409.6 L638.3 409.5 L639.1 409.5 L640.0 409.5 L640.8 409.4 L641.7 409.4 L642.5 409.3 L643.4 409.3 L644.2 409.2 L645.1 409.2 L645.9 409.1 L646.8 409.0 L647.6 408.9 L648.5 408.9 L649.3 408.8 L650.2 408.7 L651.0 408.5 L651.9 408.4 L652.7 408.3 L653.6 408.2 L654.4 408.0 L655.3 407.9 L656.1 407.7 L657.0 407.6" fill="none" stroke="#D95319" stroke-width="2.40" stroke-linejoin="round" stroke-linecap="butt"/>
<path d="M521.6 414.6 L522.5 414.9 L523.3 415.1 L524.2 415.3 L525.0 415.6 L525.9 415.8 L526.7 415.9 L527.6 416.1 L528.4 416.2 L529.3 416.3 L530.1 416.4 L531.0 416.4 L531.8 416.4 L532.7 416.4 L533.5 416.4 L534.4 416.3 L535.2 416.2 L536.1 416.2 L536.9 416.1 L537.8 416.0 L538.6 415.9 L539.5 415.8 L540.3 415.7 L541.2 415.6 L542.0 415.5 L542.9 415.5 L543.7 415.4 L544.6 415.4 L545.4 415.4 L546.3 415.3 L547.1 415.3 L548.0 415.3 L548.9 415.3 L549.7 415.3 L550.6 415.4 L551.4 415.4 L552.3 415.4 L553.1 415.4 L554.0 415.4 L554.8 415.4 L555.7 415.4 L556.5 415.5 L557.4 415.5 L558.2 415.5 L559.1 415.5 L559.9 415.5 L560.8 415.5 L561.6 415.5 L562.5 415.5 L563.3 415.6 L564.2 415.6 L565.0 415.6 L565.9 415.6 L566.7 415.7 L567.6 415.7 L568.4 415.7 L569.3 415.7 L570.1 415.8 L571.0 415.8 L571.8 415.8 L572.7 415.9 L573.5 415.9 L574.4 415.9 L575.2 415.9 L576.1 416.0 L577.0 416.0 L577.8 416.0 L578.7 416.0 L579.5 416.1 L580.4 416.1 L581.2 416.1 L582.1 416.1 L582.9 416.1 L583.8 416.1 L584.6 416.2 L585.5 416.2 L586.3 416.2 L587.2 416.2 L588.0 416.2 L588.9 416.2 L589.7 416.2 L590.6 416.2 L591.4 416.2 L592.3 416.1 L593.1 416.0 L594.0 415.8 L594.8 415.6 L595.7 415.4 L596.5 415.1 L597.4 414.8 L598.2 414.5 L599.1 414.1 L599.9 413.8 L600.8 413.5 L601.6 413.2 L602.5 412.9 L603.4 412.7 L604.2 412.5 L605.1 412.3 L605.9 412.2 L606.8 412.0 L607.6 411.9 L608.5 411.8 L609.3 411.7 L610.2 411.5 L611.0 411.4 L611.9 411.3 L612.7 411.2 L613.6 411.1 L614.4 411.1 L615.3 411.0 L616.1 410.9 L617.0 410.8 L617.8 410.7 L618.7 410.7 L619.5 410.6 L620.4 410.5 L621.2 410.5 L622.1 410.4 L622.9 410.3 L623.8 410.3 L624.6 410.2 L625.5 410.2 L626.3 410.1 L627.2 410.0 L628.0 410.0 L628.9 409.9 L629.7 409.9 L630.6 409.8 L631.5 409.7 L632.3 409.7 L633.2 409.6 L634.0 409.6 L634.9 409.5 L635.7 409.5 L636.6 409.4 L637.4 409.4 L638.3 409.3 L639.1 409.3 L640.0 409.3 L640.8 409.2 L641.7 409.2 L642.5 409.1 L643.4 409.1 L644.2 409.0 L645.1 409.0 L645.9 408.9 L646.8 408.8 L647.6 408.7 L648.5 408.7 L649.3 408.6 L650.2 408.5 L651.0 408.3 L651.9 408.2 L652.7 408.1 L653.6 408.0 L654.4 407.8 L655.3 407.7 L656.1 407.5 L657.0 407.4" fill="none" stroke="#7B2D90" stroke-width="2.40" stroke-linejoin="round" stroke-linecap="butt"/>
<path d="M521.20 379.20 V448.60 H656.40 M531.60 448.60 v-2.1 M552.40 448.60 v-2.1 M573.20 448.60 v-2.1 M594.00 448.60 v-2.1 M614.80 448.60 v-2.1 M635.60 448.60 v-2.1 M656.40 448.60 v-2.1 M521.20 434.66 h1.9 M521.20 413.93 h1.9 M521.20 393.19 h1.9" fill="none" stroke="#555" stroke-width="0.7"/>
<text transform="translate(531.90 455.85) rotate(0.03) scale(0.985 1)" font-size="8.58" text-anchor="middle" font-weight="normal" fill="#4a4a4a" stroke="#4a4a4a" stroke-width="0.05">0</text>
<text transform="translate(552.70 455.85) rotate(0.03) scale(0.985 1)" font-size="8.58" text-anchor="middle" font-weight="normal" fill="#4a4a4a" stroke="#4a4a4a" stroke-width="0.05">0.5</text>
<text transform="translate(573.50 455.85) rotate(0.03) scale(0.985 1)" font-size="8.58" text-anchor="middle" font-weight="normal" fill="#4a4a4a" stroke="#4a4a4a" stroke-width="0.05">1</text>
<text transform="translate(594.30 455.85) rotate(0.03) scale(0.985 1)" font-size="8.58" text-anchor="middle" font-weight="normal" fill="#4a4a4a" stroke="#4a4a4a" stroke-width="0.05">1.5</text>
<text transform="translate(615.10 455.85) rotate(0.03) scale(0.985 1)" font-size="8.58" text-anchor="middle" font-weight="normal" fill="#4a4a4a" stroke="#4a4a4a" stroke-width="0.05">2</text>
<text transform="translate(635.90 455.85) rotate(0.03) scale(0.985 1)" font-size="8.58" text-anchor="middle" font-weight="normal" fill="#4a4a4a" stroke="#4a4a4a" stroke-width="0.05">2.5</text>
<text transform="translate(656.70 455.85) rotate(0.03) scale(0.985 1)" font-size="8.58" text-anchor="middle" font-weight="normal" fill="#4a4a4a" stroke="#4a4a4a" stroke-width="0.05">3</text>
<text transform="translate(590.67 465.85) rotate(0.03) scale(0.955 1)" font-size="8.59" text-anchor="middle" font-weight="normal" fill="#4a4a4a" stroke="#4a4a4a" stroke-width="0.05">Time (s)</text>
<text transform="translate(591.00 377.10) rotate(0.03) scale(0.955 1)" font-size="8.53" text-anchor="middle" font-weight="bold" fill="#151515" stroke="#151515" stroke-width="0.12">Component #13 (1.4%)</text>
<path d="M286.9 481 H311.8" stroke="#111" stroke-width="2.4"/>
<path d="M286.9 488.9 H311.8" stroke="#111" stroke-width="2.4" stroke-dasharray="8.4 7.7"/>
<text transform="translate(322.30 484.70) rotate(0.03) scale(0.955 1)" font-size="9.16" text-anchor="start" font-weight="normal" fill="#151515" stroke="#151515" stroke-width="0.22">Task 1</text>
<text transform="translate(322.30 492.30) rotate(0.03) scale(0.955 1)" font-size="9.16" text-anchor="start" font-weight="normal" fill="#151515" stroke="#151515" stroke-width="0.22">Task 2</text>
<path d="M368.7 474.00 H393.5" stroke="#7B2D90" stroke-width="2.1"/>
<text transform="translate(403.50 476.90) rotate(0.03) scale(0.955 1)" font-size="9.16" text-anchor="start" font-weight="normal" fill="#151515" stroke="#151515" stroke-width="0.22">Item 4</text>
<path d="M368.7 481.50 H393.5" stroke="#EDB120" stroke-width="2.1"/>
<text transform="translate(403.50 484.45) rotate(0.03) scale(0.955 1)" font-size="9.16" text-anchor="start" font-weight="normal" fill="#151515" stroke="#151515" stroke-width="0.22">Item 3</text>
<path d="M368.7 489.00 H393.5" stroke="#D95319" stroke-width="2.1"/>
<text transform="translate(403.50 492.00) rotate(0.03) scale(0.955 1)" font-size="9.16" text-anchor="start" font-weight="normal" fill="#151515" stroke="#151515" stroke-width="0.22">Item 2</text>
<path d="M368.7 496.50 H393.5" stroke="#0072BD" stroke-width="2.1"/>
<text transform="translate(403.50 499.55) rotate(0.03) scale(0.955 1)" font-size="9.16" text-anchor="start" font-weight="normal" fill="#151515" stroke="#151515" stroke-width="0.22">Item 1</text>
</svg>
</body></html>
